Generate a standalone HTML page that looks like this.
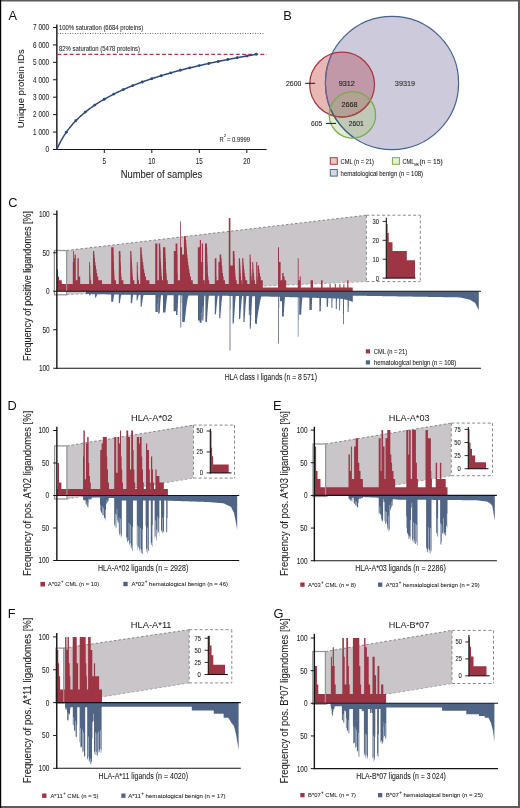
<!DOCTYPE html>
<html><head><meta charset="utf-8"><style>
html,body{margin:0;padding:0;background:#fff;}
svg{display:block;will-change:transform;}
text{font-family:"Liberation Sans", sans-serif;}
</style></head><body>
<svg width="520" height="808" viewBox="0 0 520 808" style="font-family:'Liberation Sans', sans-serif">
<rect x="0" y="0" width="520" height="808" fill="#fff"/>
<text x="8.60" y="19.90" font-size="12.8" fill="#111" >A</text>
<line x1="56.85" y1="24.40" x2="56.85" y2="150.10" stroke="#141414" stroke-width="1.4" />
<line x1="56.50" y1="149.50" x2="266.60" y2="149.50" stroke="#141414" stroke-width="1.1" />
<line x1="53.00" y1="149.50" x2="57.00" y2="149.50" stroke="#141414" stroke-width="1" />
<text x="49.00" y="152.35" font-size="8.3" fill="#1e1e1e" stroke="#1e1e1e" stroke-width="0.08" text-anchor="end" textLength="3.60" lengthAdjust="spacingAndGlyphs" >0</text>
<line x1="53.00" y1="132.07" x2="57.00" y2="132.07" stroke="#141414" stroke-width="1" />
<text x="49.00" y="134.92" font-size="8.3" fill="#1e1e1e" stroke="#1e1e1e" stroke-width="0.08" text-anchor="end" textLength="15.90" lengthAdjust="spacingAndGlyphs" >1 000</text>
<line x1="53.00" y1="114.64" x2="57.00" y2="114.64" stroke="#141414" stroke-width="1" />
<text x="49.00" y="117.49" font-size="8.3" fill="#1e1e1e" stroke="#1e1e1e" stroke-width="0.08" text-anchor="end" textLength="15.90" lengthAdjust="spacingAndGlyphs" >2 000</text>
<line x1="53.00" y1="97.21" x2="57.00" y2="97.21" stroke="#141414" stroke-width="1" />
<text x="49.00" y="100.06" font-size="8.3" fill="#1e1e1e" stroke="#1e1e1e" stroke-width="0.08" text-anchor="end" textLength="15.90" lengthAdjust="spacingAndGlyphs" >3 000</text>
<line x1="53.00" y1="79.78" x2="57.00" y2="79.78" stroke="#141414" stroke-width="1" />
<text x="49.00" y="82.63" font-size="8.3" fill="#1e1e1e" stroke="#1e1e1e" stroke-width="0.08" text-anchor="end" textLength="15.90" lengthAdjust="spacingAndGlyphs" >4 000</text>
<line x1="53.00" y1="62.35" x2="57.00" y2="62.35" stroke="#141414" stroke-width="1" />
<text x="49.00" y="65.20" font-size="8.3" fill="#1e1e1e" stroke="#1e1e1e" stroke-width="0.08" text-anchor="end" textLength="15.90" lengthAdjust="spacingAndGlyphs" >5 000</text>
<line x1="53.00" y1="44.92" x2="57.00" y2="44.92" stroke="#141414" stroke-width="1" />
<text x="49.00" y="47.77" font-size="8.3" fill="#1e1e1e" stroke="#1e1e1e" stroke-width="0.08" text-anchor="end" textLength="15.90" lengthAdjust="spacingAndGlyphs" >6 000</text>
<line x1="53.00" y1="27.49" x2="57.00" y2="27.49" stroke="#141414" stroke-width="1" />
<text x="49.00" y="30.34" font-size="8.3" fill="#1e1e1e" stroke="#1e1e1e" stroke-width="0.08" text-anchor="end" textLength="15.90" lengthAdjust="spacingAndGlyphs" >7 000</text>
<line x1="104.30" y1="149.50" x2="104.30" y2="153.00" stroke="#141414" stroke-width="1" />
<text x="104.30" y="163.60" font-size="8.6" fill="#1e1e1e" stroke="#1e1e1e" stroke-width="0.08" text-anchor="middle" textLength="3.60" lengthAdjust="spacingAndGlyphs" >5</text>
<line x1="151.80" y1="149.50" x2="151.80" y2="153.00" stroke="#141414" stroke-width="1" />
<text x="151.80" y="163.60" font-size="8.6" fill="#1e1e1e" stroke="#1e1e1e" stroke-width="0.08" text-anchor="middle" textLength="7.00" lengthAdjust="spacingAndGlyphs" >10</text>
<line x1="199.30" y1="149.50" x2="199.30" y2="153.00" stroke="#141414" stroke-width="1" />
<text x="199.30" y="163.60" font-size="8.6" fill="#1e1e1e" stroke="#1e1e1e" stroke-width="0.08" text-anchor="middle" textLength="7.00" lengthAdjust="spacingAndGlyphs" >15</text>
<line x1="246.80" y1="149.50" x2="246.80" y2="153.00" stroke="#141414" stroke-width="1" />
<text x="246.80" y="163.60" font-size="8.6" fill="#1e1e1e" stroke="#1e1e1e" stroke-width="0.08" text-anchor="middle" textLength="7.00" lengthAdjust="spacingAndGlyphs" >20</text>
<text x="161.50" y="177.70" font-size="10.5" fill="#1e1e1e" stroke="#1e1e1e" stroke-width="0.08" text-anchor="middle" textLength="81.50" lengthAdjust="spacingAndGlyphs" >Number of samples</text>
<text x="24.40" y="88.80" font-size="9.9" fill="#1e1e1e" stroke="#1e1e1e" stroke-width="0.08" text-anchor="middle" textLength="79.00" lengthAdjust="spacingAndGlyphs" transform="rotate(-90 24.40 88.80)" >Unique protein IDs</text>
<line x1="57.50" y1="33.50" x2="265.00" y2="33.50" stroke="#444" stroke-width="0.9" stroke-dasharray="0.9 1.6"/>
<line x1="57.50" y1="54.40" x2="267.00" y2="54.40" stroke="#b8323f" stroke-width="1.1" stroke-dasharray="3.8 2.35"/>
<text x="59.00" y="29.90" font-size="6.6" fill="#2a2a2a" stroke="#2a2a2a" stroke-width="0.08" textLength="84.20" lengthAdjust="spacingAndGlyphs" >100% saturation (6684 proteins)</text>
<text x="59.00" y="50.70" font-size="6.6" fill="#2a2a2a" stroke="#2a2a2a" stroke-width="0.08" textLength="81.00" lengthAdjust="spacingAndGlyphs" >82% saturation (5478 proteins)</text>
<text x="219.50" y="141.50" font-size="7.0" fill="#2a2a2a" stroke="#2a2a2a" stroke-width="0.08" textLength="4.20" lengthAdjust="spacingAndGlyphs" >R</text>
<text x="223.70" y="137.40" font-size="4.4" fill="#2a2a2a" stroke="#2a2a2a" stroke-width="0.08" >2</text>
<text x="227.00" y="141.50" font-size="7.0" fill="#2a2a2a" stroke="#2a2a2a" stroke-width="0.08" textLength="23.00" lengthAdjust="spacingAndGlyphs" >= 0.9999</text>
<polyline points="56.80,149.50 57.75,147.31 58.70,145.26 59.65,143.33 60.60,141.50 61.55,139.76 62.50,138.11 63.45,136.54 64.40,135.04 65.35,133.60 66.30,132.22 67.25,130.89 68.20,129.61 69.15,128.37 70.10,127.18 71.05,126.03 72.00,124.91 72.95,123.83 73.90,122.78 74.85,121.76 75.80,120.76 76.75,119.80 77.70,118.86 78.65,117.94 79.60,117.05 80.55,116.17 81.50,115.32 82.45,114.49 83.40,113.68 84.35,112.88 85.30,112.10 86.25,111.34 87.20,110.59 88.15,109.86 89.10,109.14 90.05,108.43 91.00,107.74 91.95,107.06 92.90,106.39 93.85,105.74 94.80,105.09 95.75,104.46 96.70,103.84 97.65,103.22 98.60,102.62 99.55,102.03 100.50,101.44 101.45,100.87 102.40,100.30 103.35,99.74 104.30,99.19 105.25,98.65 106.20,98.12 107.15,97.59 108.10,97.07 109.05,96.56 110.00,96.05 110.95,95.55 111.90,95.06 112.85,94.58 113.80,94.10 114.75,93.62 115.70,93.15 116.65,92.69 117.60,92.24 118.55,91.79 119.50,91.34 120.45,90.90 121.40,90.47 122.35,90.04 123.30,89.61 124.25,89.19 125.20,88.77 126.15,88.36 127.10,87.96 128.05,87.55 129.00,87.16 129.95,86.76 130.90,86.37 131.85,85.99 132.80,85.61 133.75,85.23 134.70,84.85 135.65,84.48 136.60,84.12 137.55,83.75 138.50,83.39 139.45,83.04 140.40,82.69 141.35,82.34 142.30,81.99 143.25,81.65 144.20,81.31 145.15,80.97 146.10,80.64 147.05,80.31 148.00,79.98 148.95,79.66 149.90,79.33 150.85,79.01 151.80,78.70 152.75,78.38 153.70,78.07 154.65,77.76 155.60,77.46 156.55,77.16 157.50,76.85 158.45,76.56 159.40,76.26 160.35,75.97 161.30,75.68 162.25,75.39 163.20,75.10 164.15,74.82 165.10,74.53 166.05,74.25 167.00,73.97 167.95,73.70 168.90,73.42 169.85,73.15 170.80,72.88 171.75,72.62 172.70,72.35 173.65,72.09 174.60,71.82 175.55,71.56 176.50,71.30 177.45,71.05 178.40,70.79 179.35,70.54 180.30,70.29 181.25,70.04 182.20,69.79 183.15,69.54 184.10,69.30 185.05,69.06 186.00,68.82 186.95,68.58 187.90,68.34 188.85,68.10 189.80,67.87 190.75,67.63 191.70,67.40 192.65,67.17 193.60,66.94 194.55,66.71 195.50,66.49 196.45,66.26 197.40,66.04 198.35,65.82 199.30,65.59 200.25,65.37 201.20,65.16 202.15,64.94 203.10,64.72 204.05,64.51 205.00,64.30 205.95,64.08 206.90,63.87 207.85,63.66 208.80,63.46 209.75,63.25 210.70,63.04 211.65,62.84 212.60,62.63 213.55,62.43 214.50,62.23 215.45,62.03 216.40,61.83 217.35,61.63 218.30,61.44 219.25,61.24 220.20,61.05 221.15,60.85 222.10,60.66 223.05,60.47 224.00,60.28 224.95,60.09 225.90,59.90 226.85,59.71 227.80,59.52 228.75,59.34 229.70,59.15 230.65,58.97 231.60,58.78 232.55,58.60 233.50,58.42 234.45,58.24 235.40,58.06 236.35,57.88 237.30,57.70 238.25,57.53 239.20,57.35 240.15,57.18 241.10,57.00 242.05,56.83 243.00,56.66 243.95,56.48 244.90,56.31 245.85,56.14 246.80,55.97 247.75,55.80 248.70,55.64 249.65,55.47 250.60,55.30 251.55,55.14 252.50,54.97 253.45,54.81 254.40,54.65 255.35,54.48 256.30,54.32" fill="none" stroke="#2c4a7c" stroke-width="1.5"/>
<circle cx="66.30" cy="132.22" r="1.45" fill="#2c4a7c"/>
<circle cx="75.80" cy="120.76" r="1.45" fill="#2c4a7c"/>
<circle cx="85.30" cy="112.10" r="1.45" fill="#2c4a7c"/>
<circle cx="94.80" cy="105.09" r="1.45" fill="#2c4a7c"/>
<circle cx="104.30" cy="99.19" r="1.45" fill="#2c4a7c"/>
<circle cx="113.80" cy="94.10" r="1.45" fill="#2c4a7c"/>
<circle cx="123.30" cy="89.61" r="1.45" fill="#2c4a7c"/>
<circle cx="132.80" cy="85.61" r="1.45" fill="#2c4a7c"/>
<circle cx="142.30" cy="81.99" r="1.45" fill="#2c4a7c"/>
<circle cx="151.80" cy="78.70" r="1.45" fill="#2c4a7c"/>
<circle cx="161.30" cy="75.68" r="1.45" fill="#2c4a7c"/>
<circle cx="170.80" cy="72.88" r="1.45" fill="#2c4a7c"/>
<circle cx="180.30" cy="70.29" r="1.45" fill="#2c4a7c"/>
<circle cx="189.80" cy="67.87" r="1.45" fill="#2c4a7c"/>
<circle cx="199.30" cy="65.59" r="1.45" fill="#2c4a7c"/>
<circle cx="208.80" cy="63.46" r="1.45" fill="#2c4a7c"/>
<circle cx="218.30" cy="61.44" r="1.45" fill="#2c4a7c"/>
<circle cx="227.80" cy="59.52" r="1.45" fill="#2c4a7c"/>
<circle cx="237.30" cy="57.70" r="1.45" fill="#2c4a7c"/>
<circle cx="246.80" cy="55.97" r="1.45" fill="#2c4a7c"/>
<circle cx="256.30" cy="54.32" r="1.45" fill="#2c4a7c"/>
<text x="283.30" y="20.00" font-size="12.8" fill="#111" >B</text>
<defs><clipPath id="cpB"><circle cx="392.0" cy="83.0" r="66.6" fill="#000" /></clipPath><clipPath id="cpR"><circle cx="342.1" cy="84.6" r="32.4" fill="#000" /></clipPath><clipPath id="cpG"><circle cx="352.4" cy="114.9" r="23.2" fill="#000" /></clipPath></defs>
<circle cx="392.0" cy="83.0" r="66.6" fill="#cdcbdb" />
<circle cx="342.1" cy="84.6" r="32.4" fill="#e8b9b4" />
<circle cx="352.4" cy="114.9" r="23.2" fill="#e5ebd0" />
<g clip-path="url(#cpB)"><circle cx="342.1" cy="84.6" r="32.4" fill="#c098a7" /><circle cx="352.4" cy="114.9" r="23.2" fill="#bec9b6" /></g>
<g clip-path="url(#cpR)"><circle cx="352.4" cy="114.9" r="23.2" fill="#dcbcb0" /><g clip-path="url(#cpB)"><circle cx="352.4" cy="114.9" r="23.2" fill="#b2a194" /></g></g>
<circle cx="392.0" cy="83.0" r="66.6" fill="none" stroke="#46628f" stroke-width="1.2"/>
<g clip-path="url(#cpR)"><circle cx="392.0" cy="83.0" r="66.6" fill="none" stroke="#6a6394" stroke-width="1.2"/></g>
<g clip-path="url(#cpG)"><circle cx="392.0" cy="83.0" r="66.6" fill="none" stroke="#3f5f7e" stroke-width="1.2"/></g>
<circle cx="342.1" cy="84.6" r="32.4" fill="none" stroke="#a8343f" stroke-width="1.25"/>
<g clip-path="url(#cpG)"><circle cx="342.1" cy="84.6" r="32.4" fill="none" stroke="#a84a45" stroke-width="1.25"/></g>
<circle cx="352.4" cy="114.9" r="23.2" fill="none" stroke="#74ad4a" stroke-width="1.25"/>
<text x="346.80" y="85.90" font-size="7.6" fill="#1e1e1e" stroke="#1e1e1e" stroke-width="0.12" text-anchor="middle" textLength="16.20" lengthAdjust="spacingAndGlyphs" >9312</text>
<text x="349.50" y="106.80" font-size="7.6" fill="#1e1e1e" stroke="#1e1e1e" stroke-width="0.12" text-anchor="middle" textLength="16.00" lengthAdjust="spacingAndGlyphs" >2668</text>
<text x="356.30" y="125.80" font-size="7.6" fill="#1e1e1e" stroke="#1e1e1e" stroke-width="0.12" text-anchor="middle" textLength="15.00" lengthAdjust="spacingAndGlyphs" >2601</text>
<text x="405.00" y="86.10" font-size="7.6" fill="#333" stroke="#333" stroke-width="0.12" text-anchor="middle" textLength="20.40" lengthAdjust="spacingAndGlyphs" >39319</text>
<text x="286.00" y="85.90" font-size="7.4" fill="#1e1e1e" stroke="#1e1e1e" stroke-width="0.1" textLength="15.30" lengthAdjust="spacingAndGlyphs" >2600</text>
<line x1="305.20" y1="83.30" x2="315.10" y2="83.30" stroke="#141414" stroke-width="1" />
<text x="311.00" y="125.80" font-size="7.4" fill="#1e1e1e" stroke="#1e1e1e" stroke-width="0.1" textLength="11.30" lengthAdjust="spacingAndGlyphs" >605</text>
<line x1="326.00" y1="123.40" x2="336.00" y2="123.40" stroke="#141414" stroke-width="1" />
<rect x="330.3" y="157.7" width="7" height="6.6" fill="#ecc7c4" stroke="#b4343f" stroke-width="1"/>
<rect x="392.4" y="157.7" width="7" height="6.6" fill="#e8efd6" stroke="#72b04a" stroke-width="1"/>
<rect x="330.3" y="169.5" width="7" height="6.6" fill="#d7d6e4" stroke="#4f6c9a" stroke-width="1"/>
<text x="340.60" y="163.90" font-size="6.8" fill="#222" stroke="#222" stroke-width="0.08" textLength="33.40" lengthAdjust="spacingAndGlyphs" >CML (n = 21)</text>
<text x="402.50" y="163.90" font-size="6.8" fill="#222" stroke="#222" stroke-width="0.08" textLength="11.90" lengthAdjust="spacingAndGlyphs" >CML</text>
<text x="414.40" y="166.00" font-size="4.3" fill="#222" stroke="#222" stroke-width="0.08" textLength="4.40" lengthAdjust="spacingAndGlyphs" >MR</text>
<text x="419.40" y="163.90" font-size="6.8" fill="#222" stroke="#222" stroke-width="0.08" textLength="23.30" lengthAdjust="spacingAndGlyphs" >(n = 15)</text>
<text x="340.60" y="175.70" font-size="6.8" fill="#222" stroke="#222" stroke-width="0.08" textLength="82.50" lengthAdjust="spacingAndGlyphs" >hematological benign (n = 108)</text>
<polygon points="66.60,250.50 366.40,215.20 366.40,281.60 66.60,294.60" fill="#c9c5c9"/>
<line x1="66.60" y1="250.50" x2="366.40" y2="215.20" stroke="#7d7d7d" stroke-width="0.9" stroke-dasharray="2.6 2"/>
<line x1="66.60" y1="294.60" x2="366.40" y2="281.60" stroke="#a0a0a0" stroke-width="0.9" stroke-dasharray="2.6 2"/>
<path d="M57.00,291.25 L57.00,269.25 L58.00,269.25 L58.00,276.58 L59.00,276.58 L59.00,280.25 L61.80,280.25 L61.80,283.92 L72.80,283.92 L72.80,261.92 L73.20,261.92 L73.20,250.92 L74.00,250.92 L74.00,258.25 L74.60,258.25 L74.60,254.58 L75.80,254.58 L75.80,280.25 L77.40,280.25 L77.40,258.25 L78.80,258.25 L78.80,276.58 L80.20,276.58 L80.20,283.92 L89.20,283.92 L89.20,261.92 L90.00,261.92 L90.00,265.58 L90.20,265.58 L90.20,272.92 L90.40,272.92 L90.40,276.58 L90.60,276.58 L90.60,280.25 L91.20,280.25 L91.20,283.92 L93.00,283.92 L93.00,250.92 L94.20,250.92 L94.20,254.58 L94.60,254.58 L94.60,258.25 L95.00,258.25 L95.00,261.92 L95.40,261.92 L95.40,265.58 L96.00,265.58 L96.00,269.25 L96.60,269.25 L96.60,272.92 L97.20,272.92 L97.20,276.58 L98.20,276.58 L98.20,280.25 L102.00,280.25 L102.00,283.92 L111.20,283.92 L111.20,247.25 L113.60,247.25 L113.60,254.58 L113.80,254.58 L113.80,261.92 L114.00,261.92 L114.00,269.25 L114.20,269.25 L114.20,272.92 L114.40,272.92 L114.40,276.58 L114.60,276.58 L114.60,280.25 L116.00,280.25 L116.00,283.92 L118.80,283.92 L118.80,250.92 L120.40,250.92 L120.40,254.58 L120.60,254.58 L120.60,261.92 L120.80,261.92 L120.80,265.58 L121.00,265.58 L121.00,272.92 L121.20,272.92 L121.20,276.58 L121.60,276.58 L121.60,280.25 L123.40,280.25 L123.40,283.92 L130.20,283.92 L130.20,250.92 L131.40,250.92 L131.40,254.58 L131.60,254.58 L131.60,258.25 L131.80,258.25 L131.80,261.92 L132.00,261.92 L132.00,265.58 L132.20,265.58 L132.20,269.25 L132.40,269.25 L132.40,272.92 L132.60,272.92 L132.60,276.58 L133.00,276.58 L133.00,280.25 L134.40,280.25 L134.40,283.92 L136.80,283.92 L136.80,261.92 L137.60,261.92 L137.60,265.58 L137.80,265.58 L137.80,272.92 L138.00,272.92 L138.00,276.58 L138.20,276.58 L138.20,280.25 L139.00,280.25 L139.00,283.92 L140.20,283.92 L140.20,247.25 L141.60,247.25 L141.60,250.92 L141.80,250.92 L141.80,254.58 L142.20,254.58 L142.20,258.25 L142.60,258.25 L142.60,261.92 L143.20,261.92 L143.20,265.58 L143.60,265.58 L143.60,269.25 L144.20,269.25 L144.20,272.92 L145.00,272.92 L145.00,276.58 L146.00,276.58 L146.00,280.25 L149.40,280.25 L149.40,283.92 L155.20,283.92 L155.20,243.58 L157.40,243.58 L157.40,280.25 L158.80,280.25 L158.80,243.58 L160.20,243.58 L160.20,247.25 L160.40,247.25 L160.40,250.92 L160.60,250.92 L160.60,258.25 L160.80,258.25 L160.80,261.92 L161.00,261.92 L161.00,265.58 L161.20,265.58 L161.20,269.25 L161.40,269.25 L161.40,272.92 L161.60,272.92 L161.60,276.58 L162.00,276.58 L162.00,280.25 L163.00,280.25 L163.00,247.25 L165.40,247.25 L165.40,254.58 L165.60,254.58 L165.60,258.25 L165.80,258.25 L165.80,261.92 L166.00,261.92 L166.00,269.25 L166.20,269.25 L166.20,272.92 L166.60,272.92 L166.60,276.58 L166.80,276.58 L166.80,280.25 L167.80,280.25 L167.80,283.92 L173.80,283.92 L173.80,250.92 L175.60,250.92 L175.60,243.58 L177.40,243.58 L177.40,254.58 L177.60,254.58 L177.60,272.92 L177.80,272.92 L177.80,280.25 L180.00,280.25 L180.00,221.58 L180.80,221.58 L180.80,247.25 L182.00,247.25 L182.00,254.58 L184.00,254.58 L184.00,236.25 L185.80,236.25 L185.80,239.92 L186.20,239.92 L186.20,243.58 L186.40,243.58 L186.40,247.25 L186.80,247.25 L186.80,250.92 L187.00,250.92 L187.00,254.58 L187.40,254.58 L187.40,258.25 L187.80,258.25 L187.80,261.92 L188.20,261.92 L188.20,265.58 L188.80,265.58 L188.80,269.25 L189.40,269.25 L189.40,272.92 L190.00,272.92 L190.00,276.58 L191.00,276.58 L191.00,280.25 L192.80,280.25 L192.80,283.92 L197.80,283.92 L197.80,247.25 L199.80,247.25 L199.80,239.92 L201.00,239.92 L201.00,261.92 L201.80,261.92 L201.80,243.58 L203.00,243.58 L203.00,261.92 L203.20,261.92 L203.20,280.25 L204.80,280.25 L204.80,283.92 L205.00,283.92 L205.00,243.58 L207.00,243.58 L207.00,247.25 L207.20,247.25 L207.20,254.58 L207.40,254.58 L207.40,261.92 L207.60,261.92 L207.60,265.58 L207.80,265.58 L207.80,272.92 L208.00,272.92 L208.00,276.58 L208.40,276.58 L208.40,280.25 L209.20,280.25 L209.20,283.92 L214.80,283.92 L214.80,258.25 L216.40,258.25 L216.40,276.58 L216.60,276.58 L216.60,280.25 L218.40,280.25 L218.40,261.92 L219.60,261.92 L219.60,254.58 L221.20,254.58 L221.20,258.25 L221.60,258.25 L221.60,261.92 L221.80,261.92 L221.80,265.58 L222.20,265.58 L222.20,269.25 L222.40,269.25 L222.40,272.92 L223.00,272.92 L223.00,276.58 L223.60,276.58 L223.60,280.25 L225.00,280.25 L225.00,283.92 L228.80,283.92 L228.80,217.92 L230.40,217.92 L230.40,265.58 L232.80,265.58 L232.80,250.92 L234.40,250.92 L234.40,254.58 L234.60,254.58 L234.60,258.25 L234.80,258.25 L234.80,265.58 L235.00,265.58 L235.00,269.25 L235.20,269.25 L235.20,272.92 L235.40,272.92 L235.40,276.58 L235.80,276.58 L235.80,280.25 L236.80,280.25 L236.80,283.92 L238.80,283.92 L238.80,258.25 L240.00,258.25 L240.00,261.92 L240.20,261.92 L240.20,265.58 L240.40,265.58 L240.40,269.25 L240.60,269.25 L240.60,272.92 L240.80,272.92 L240.80,276.58 L241.00,276.58 L241.00,280.25 L241.80,280.25 L241.80,283.92 L242.20,283.92 L242.20,258.25 L243.40,258.25 L243.40,261.92 L243.60,261.92 L243.60,265.58 L244.00,265.58 L244.00,269.25 L244.40,269.25 L244.40,272.92 L244.80,272.92 L244.80,276.58 L245.40,276.58 L245.40,280.25 L247.20,280.25 L247.20,283.92 L249.60,283.92 L249.60,254.58 L250.60,254.58 L250.60,258.25 L250.80,258.25 L250.80,261.92 L251.00,261.92 L251.00,269.25 L251.20,269.25 L251.20,272.92 L251.40,272.92 L251.40,276.58 L251.80,276.58 L251.80,280.25 L252.20,280.25 L252.20,261.92 L253.20,261.92 L253.20,265.58 L253.40,265.58 L253.40,269.25 L253.60,269.25 L253.60,272.92 L254.00,272.92 L254.00,276.58 L254.20,276.58 L254.20,280.25 L255.00,280.25 L255.00,283.92 L256.20,283.92 L256.20,261.92 L257.20,261.92 L257.20,265.58 L257.40,265.58 L257.40,276.58 L257.60,276.58 L257.60,280.25 L257.80,280.25 L257.80,265.58 L259.00,265.58 L259.00,269.25 L259.40,269.25 L259.40,272.92 L260.00,272.92 L260.00,276.58 L260.80,276.58 L260.80,280.25 L262.80,280.25 L262.80,287.58 L278.00,287.58 L278.00,247.25 L279.00,247.25 L279.00,261.92 L280.60,261.92 L280.60,280.25 L282.20,280.25 L282.20,272.92 L283.60,272.92 L283.60,276.58 L284.60,276.58 L284.60,280.25 L286.20,280.25 L286.20,287.58 L297.80,287.58 L297.80,258.25 L298.60,258.25 L298.60,280.25 L299.80,280.25 L299.80,276.58 L300.80,276.58 L300.80,287.58 L310.60,287.58 L310.60,280.25 L313.00,280.25 L313.00,287.58 L321.00,287.58 L321.00,280.25 L322.60,280.25 L322.60,287.58 L329.60,287.58 L329.60,283.92 L330.60,283.92 L330.60,287.58 L334.80,287.58 L334.80,283.92 L335.80,283.92 L335.80,287.58 L339.40,287.58 L339.40,283.92 L340.40,283.92 L340.40,287.58 L343.40,287.58 L343.40,283.92 L344.40,283.92 L344.40,287.58 L347.20,287.58 L347.20,280.25 L348.40,280.25 L348.40,287.58 L352.70,287.58 L352.70,291.25 Z" fill="#9d3545"/>
<path d="M86.00,291.25 L86.00,294.02 L86.20,294.02 L86.20,294.03 L86.40,294.03 L86.40,294.03 L86.60,294.03 L86.60,294.03 L86.80,294.03 L86.80,294.04 L87.00,294.04 L87.00,294.04 L87.20,294.04 L87.20,294.04 L87.40,294.04 L87.40,294.05 L87.60,294.05 L87.60,294.05 L87.80,294.05 L87.80,294.05 L88.00,294.05 L88.00,294.06 L88.20,294.06 L88.20,294.06 L88.40,294.06 L88.40,294.06 L88.60,294.06 L88.60,294.07 L88.80,294.07 L88.80,294.07 L89.00,294.07 L89.00,294.08 L89.20,294.08 L89.20,295.49 L90.00,295.49 L90.00,295.31 L90.20,295.31 L90.20,294.97 L90.40,294.97 L90.40,294.66 L90.60,294.66 L90.60,294.39 L90.80,294.39 L90.80,294.17 L91.00,294.17 L91.00,294.11 L91.20,294.11 L91.20,294.11 L91.40,294.11 L91.40,294.12 L91.60,294.12 L91.60,294.12 L91.80,294.12 L91.80,294.12 L92.00,294.12 L92.00,294.13 L92.20,294.13 L92.20,294.13 L92.40,294.13 L92.40,294.13 L92.60,294.13 L92.60,294.14 L92.80,294.14 L92.80,294.14 L93.00,294.14 L93.00,294.14 L93.20,294.14 L93.20,294.15 L93.40,294.15 L93.40,294.15 L93.60,294.15 L93.60,294.15 L93.80,294.15 L93.80,294.16 L94.00,294.16 L94.00,294.16 L94.20,294.16 L94.20,294.16 L94.40,294.16 L94.40,294.17 L94.60,294.17 L94.60,294.17 L94.80,294.17 L94.80,294.17 L95.00,294.17 L95.00,297.41 L96.00,297.41 L96.00,297.13 L96.20,297.13 L96.20,296.60 L96.40,296.60 L96.40,296.10 L96.60,296.10 L96.60,295.62 L96.80,295.62 L96.80,295.18 L97.00,295.18 L97.00,294.79 L97.20,294.79 L97.20,294.45 L97.40,294.45 L97.40,294.22 L97.60,294.22 L97.60,294.22 L97.80,294.22 L97.80,294.23 L98.00,294.23 L98.00,294.23 L98.20,294.23 L98.20,294.23 L98.40,294.23 L98.40,294.24 L98.60,294.24 L98.60,294.24 L98.80,294.24 L98.80,294.24 L99.00,294.24 L99.00,294.25 L99.20,294.25 L99.20,294.25 L99.40,294.25 L99.40,294.25 L99.60,294.25 L99.60,294.26 L99.80,294.26 L99.80,294.26 L100.00,294.26 L100.00,294.26 L100.20,294.26 L100.20,294.27 L100.40,294.27 L100.40,294.27 L100.60,294.27 L100.60,294.27 L100.80,294.27 L100.80,294.28 L101.00,294.28 L101.00,294.28 L101.20,294.28 L101.20,294.28 L101.40,294.28 L101.40,294.29 L101.60,294.29 L101.60,294.29 L101.80,294.29 L101.80,294.29 L102.00,294.29 L102.00,294.30 L102.20,294.30 L102.20,294.30 L102.40,294.30 L102.40,294.30 L102.60,294.30 L102.60,294.31 L102.80,294.31 L102.80,294.31 L103.00,294.31 L103.00,294.31 L103.20,294.31 L103.20,294.32 L103.40,294.32 L103.40,294.32 L103.60,294.32 L103.60,294.32 L103.80,294.32 L103.80,294.33 L104.00,294.33 L104.00,294.33 L104.20,294.33 L104.20,294.34 L104.40,294.34 L104.40,294.34 L104.60,294.34 L104.60,294.34 L104.80,294.34 L104.80,294.35 L105.00,294.35 L105.00,294.35 L105.20,294.35 L105.20,294.35 L105.40,294.35 L105.40,294.36 L105.60,294.36 L105.60,294.36 L105.80,294.36 L105.80,294.36 L106.00,294.36 L106.00,294.37 L106.20,294.37 L106.20,294.37 L106.40,294.37 L106.40,294.37 L106.60,294.37 L106.60,294.38 L106.80,294.38 L106.80,294.38 L107.00,294.38 L107.00,294.38 L107.20,294.38 L107.20,294.39 L107.40,294.39 L107.40,294.39 L107.60,294.39 L107.60,294.39 L107.80,294.39 L107.80,294.40 L108.00,294.40 L108.00,294.40 L108.20,294.40 L108.20,294.40 L108.40,294.40 L108.40,294.41 L108.60,294.41 L108.60,294.41 L108.80,294.41 L108.80,294.41 L109.00,294.41 L109.00,294.42 L109.20,294.42 L109.20,294.42 L109.40,294.42 L109.40,294.42 L109.60,294.42 L109.60,294.43 L109.80,294.43 L109.80,294.43 L110.00,294.43 L110.00,294.43 L110.20,294.43 L110.20,294.44 L110.40,294.44 L110.40,294.44 L110.60,294.44 L110.60,294.44 L110.80,294.44 L110.80,294.45 L111.00,294.45 L111.00,294.45 L111.20,294.45 L111.20,301.64 L113.20,301.64 L113.20,300.13 L113.40,300.13 L113.40,298.71 L113.60,298.71 L113.60,297.40 L113.80,297.40 L113.80,296.21 L114.00,296.21 L114.00,295.20 L114.20,295.20 L114.20,294.51 L114.40,294.51 L114.40,294.51 L114.60,294.51 L114.60,294.51 L114.80,294.51 L114.80,294.52 L115.00,294.52 L115.00,294.52 L115.20,294.52 L115.20,294.52 L115.40,294.52 L115.40,294.53 L115.60,294.53 L115.60,294.53 L115.80,294.53 L115.80,294.53 L116.00,294.53 L116.00,294.54 L116.20,294.54 L116.20,294.54 L116.40,294.54 L116.40,294.54 L116.60,294.54 L116.60,294.55 L116.80,294.55 L116.80,294.55 L117.00,294.55 L117.00,294.55 L117.20,294.55 L117.20,294.56 L117.40,294.56 L117.40,294.56 L117.60,294.56 L117.60,294.56 L117.80,294.56 L117.80,294.57 L118.00,294.57 L118.00,294.57 L118.20,294.57 L118.20,294.57 L118.40,294.57 L118.40,294.58 L118.60,294.58 L118.60,294.58 L118.80,294.58 L118.80,303.34 L119.80,303.34 L119.80,302.59 L120.00,302.59 L120.00,301.14 L120.20,301.14 L120.20,299.76 L120.40,299.76 L120.40,298.47 L120.60,298.47 L120.60,297.27 L120.80,297.27 L120.80,296.18 L121.00,296.18 L121.00,295.26 L121.20,295.26 L121.20,294.63 L121.40,294.63 L121.40,294.63 L121.60,294.63 L121.60,294.63 L121.80,294.63 L121.80,294.64 L122.00,294.64 L122.00,294.64 L122.20,294.64 L122.20,294.64 L122.40,294.64 L122.40,294.65 L122.60,294.65 L122.60,294.65 L122.80,294.65 L122.80,294.65 L123.00,294.65 L123.00,294.66 L123.20,294.66 L123.20,294.66 L123.40,294.66 L123.40,294.66 L123.60,294.66 L123.60,294.67 L123.80,294.67 L123.80,294.67 L124.00,294.67 L124.00,294.67 L124.20,294.67 L124.20,294.68 L124.40,294.68 L124.40,294.68 L124.60,294.68 L124.60,294.68 L124.80,294.68 L124.80,294.69 L125.00,294.69 L125.00,294.69 L125.20,294.69 L125.20,294.69 L125.40,294.69 L125.40,294.70 L125.60,294.70 L125.60,294.70 L125.80,294.70 L125.80,294.70 L126.00,294.70 L126.00,294.71 L126.20,294.71 L126.20,294.71 L126.40,294.71 L126.40,294.72 L126.60,294.72 L126.60,294.72 L126.80,294.72 L126.80,294.72 L127.00,294.72 L127.00,294.73 L127.20,294.73 L127.20,294.73 L127.40,294.73 L127.40,294.73 L127.60,294.73 L127.60,294.74 L127.80,294.74 L127.80,294.74 L128.00,294.74 L128.00,294.74 L128.20,294.74 L128.20,294.75 L128.40,294.75 L128.40,294.75 L128.60,294.75 L128.60,294.75 L128.80,294.75 L128.80,294.76 L129.00,294.76 L129.00,294.76 L129.20,294.76 L129.20,294.76 L129.40,294.76 L129.40,294.77 L129.60,294.77 L129.60,294.77 L129.80,294.77 L129.80,294.77 L130.00,294.77 L130.00,294.78 L130.20,294.78 L130.20,294.78 L130.40,294.78 L130.40,294.78 L130.60,294.78 L130.60,294.79 L130.80,294.79 L130.80,303.34 L132.00,303.34 L132.00,302.43 L132.20,302.43 L132.20,300.68 L132.40,300.68 L132.40,299.05 L132.60,299.05 L132.60,297.55 L132.80,297.55 L132.80,296.23 L133.00,296.23 L133.00,295.16 L133.20,295.16 L133.20,294.83 L133.40,294.83 L133.40,294.83 L133.60,294.83 L133.60,294.84 L133.80,294.84 L133.80,294.84 L134.00,294.84 L134.00,294.85 L134.20,294.85 L134.20,294.85 L134.40,294.85 L134.40,294.85 L134.60,294.85 L134.60,294.86 L134.80,294.86 L134.80,294.86 L135.00,294.86 L135.00,294.86 L135.20,294.86 L135.20,294.87 L135.40,294.87 L135.40,294.87 L135.60,294.87 L135.60,294.87 L135.80,294.87 L135.80,294.88 L136.00,294.88 L136.00,294.88 L136.20,294.88 L136.20,294.88 L136.40,294.88 L136.40,294.89 L136.60,294.89 L136.60,300.49 L137.40,300.49 L137.40,300.01 L137.60,300.01 L137.60,299.08 L137.80,299.08 L137.80,298.20 L138.00,298.20 L138.00,297.38 L138.20,297.38 L138.20,296.61 L138.40,296.61 L138.40,295.92 L138.60,295.92 L138.60,295.33 L138.80,295.33 L138.80,294.93 L139.00,294.93 L139.00,294.93 L139.20,294.93 L139.20,294.93 L139.40,294.93 L139.40,294.94 L139.60,294.94 L139.60,294.94 L139.80,294.94 L139.80,294.94 L140.00,294.94 L140.00,294.95 L140.20,294.95 L140.20,294.95 L140.40,294.95 L140.40,294.95 L140.60,294.95 L140.60,306.65 L141.60,306.65 L141.60,305.90 L141.80,305.90 L141.80,304.42 L142.00,304.42 L142.00,303.01 L142.20,303.01 L142.20,301.64 L142.40,301.64 L142.40,300.34 L142.60,300.34 L142.60,299.11 L142.80,299.11 L142.80,297.96 L143.00,297.96 L143.00,296.90 L143.20,296.90 L143.20,295.97 L143.40,295.97 L143.40,295.22 L143.60,295.22 L143.60,294.98 L143.80,294.98 L143.80,294.99 L144.00,294.99 L144.00,294.99 L144.20,294.99 L144.20,294.99 L144.40,294.99 L144.40,294.99 L144.60,294.99 L144.60,295.00 L144.80,295.00 L144.80,295.00 L145.00,295.00 L145.00,295.00 L145.20,295.00 L145.20,295.00 L145.40,295.00 L145.40,295.00 L145.60,295.00 L145.60,295.01 L145.80,295.01 L145.80,295.01 L146.00,295.01 L146.00,295.01 L146.20,295.01 L146.20,295.01 L146.40,295.01 L146.40,295.01 L146.60,295.01 L146.60,295.02 L146.80,295.02 L146.80,295.02 L147.00,295.02 L147.00,295.02 L147.20,295.02 L147.20,295.02 L147.40,295.02 L147.40,295.02 L147.60,295.02 L147.60,295.03 L147.80,295.03 L147.80,295.03 L148.00,295.03 L148.00,295.03 L148.20,295.03 L148.20,295.03 L148.40,295.03 L148.40,295.04 L148.60,295.04 L148.60,295.04 L148.80,295.04 L148.80,295.04 L149.00,295.04 L149.00,295.04 L149.20,295.04 L149.20,295.04 L149.40,295.04 L149.40,295.05 L149.60,295.05 L149.60,295.05 L149.80,295.05 L149.80,295.05 L150.00,295.05 L150.00,295.05 L150.20,295.05 L150.20,295.05 L150.40,295.05 L150.40,295.06 L150.60,295.06 L150.60,295.06 L150.80,295.06 L150.80,295.06 L151.00,295.06 L151.00,295.06 L151.20,295.06 L151.20,295.06 L151.40,295.06 L151.40,295.07 L151.60,295.07 L151.60,295.07 L151.80,295.07 L151.80,295.07 L152.00,295.07 L152.00,295.07 L152.20,295.07 L152.20,295.08 L152.40,295.08 L152.40,295.08 L152.60,295.08 L152.60,295.08 L152.80,295.08 L152.80,295.08 L153.00,295.08 L153.00,295.08 L153.20,295.08 L153.20,295.09 L153.40,295.09 L153.40,295.09 L153.60,295.09 L153.60,295.09 L153.80,295.09 L153.80,295.09 L154.00,295.09 L154.00,295.09 L154.20,295.09 L154.20,295.10 L154.40,295.10 L154.40,295.10 L154.60,295.10 L154.60,295.10 L154.80,295.10 L154.80,295.10 L155.00,295.10 L155.00,295.10 L155.20,295.10 L155.20,295.11 L155.40,295.11 L155.40,312.04 L157.80,312.04 L157.80,303.84 L158.00,303.84 L158.00,297.22 L158.20,297.22 L158.20,313.58 L159.60,313.58 L159.60,312.00 L159.80,312.00 L159.80,308.94 L160.00,308.94 L160.00,306.03 L160.20,306.03 L160.20,303.30 L160.40,303.30 L160.40,300.76 L160.60,300.76 L160.60,298.47 L160.80,298.47 L160.80,296.51 L161.00,296.51 L161.00,295.17 L161.20,295.17 L161.20,295.17 L161.40,295.17 L161.40,295.17 L161.60,295.17 L161.60,295.17 L161.80,295.17 L161.80,295.18 L162.00,295.18 L162.00,295.18 L162.20,295.18 L162.20,295.18 L162.40,295.18 L162.40,295.18 L162.60,295.18 L162.60,295.18 L162.80,295.18 L162.80,295.19 L163.00,295.19 L163.00,312.50 L165.40,312.50 L165.40,311.39 L165.60,311.39 L165.60,309.21 L165.80,309.21 L165.80,307.11 L166.00,307.11 L166.00,305.09 L166.20,305.09 L166.20,303.17 L166.40,303.17 L166.40,301.34 L166.60,301.34 L166.60,299.64 L166.80,299.64 L166.80,298.08 L167.00,298.08 L167.00,296.70 L167.20,296.70 L167.20,295.58 L167.40,295.58 L167.40,295.23 L167.60,295.23 L167.60,295.24 L167.80,295.24 L167.80,295.24 L168.00,295.24 L168.00,295.24 L168.20,295.24 L168.20,295.24 L168.40,295.24 L168.40,295.25 L168.60,295.25 L168.60,295.25 L168.80,295.25 L168.80,295.25 L169.00,295.25 L169.00,295.25 L169.20,295.25 L169.20,295.25 L169.40,295.25 L169.40,295.26 L169.60,295.26 L169.60,295.26 L169.80,295.26 L169.80,295.26 L170.00,295.26 L170.00,295.26 L170.20,295.26 L170.20,295.26 L170.40,295.26 L170.40,295.27 L170.60,295.27 L170.60,295.27 L170.80,295.27 L170.80,295.27 L171.00,295.27 L171.00,295.27 L171.20,295.27 L171.20,295.27 L171.40,295.27 L171.40,295.28 L171.60,295.28 L171.60,295.28 L171.80,295.28 L171.80,295.28 L172.00,295.28 L172.00,295.28 L172.20,295.28 L172.20,295.29 L172.40,295.29 L172.40,295.29 L172.60,295.29 L172.60,295.29 L172.80,295.29 L172.80,295.29 L173.00,295.29 L173.00,295.29 L173.20,295.29 L173.20,295.30 L173.40,295.30 L173.40,295.30 L173.60,295.30 L173.60,311.27 L176.00,311.27 L176.00,315.12 L177.40,315.12 L177.40,312.59 L177.60,312.59 L177.60,307.78 L177.80,307.78 L177.80,303.38 L178.00,303.38 L178.00,299.48 L178.20,299.48 L178.20,296.34 L178.40,296.34 L178.40,295.35 L178.60,295.35 L178.60,295.35 L178.80,295.35 L178.80,295.35 L179.00,295.35 L179.00,295.36 L179.20,295.36 L179.20,295.36 L179.40,295.36 L179.40,295.36 L179.60,295.36 L179.60,295.36 L179.80,295.36 L179.80,295.36 L180.00,295.36 L180.00,295.37 L180.20,295.37 L180.20,295.37 L180.40,295.37 L180.40,327.44 L181.20,327.44 L181.20,303.07 L181.40,303.07 L181.40,295.38 L181.60,295.38 L181.60,295.38 L181.80,295.38 L181.80,295.39 L182.00,295.39 L182.00,295.39 L182.20,295.39 L182.20,322.05 L184.80,322.05 L184.80,319.95 L185.00,319.95 L185.00,317.92 L185.20,317.92 L185.20,315.95 L185.40,315.95 L185.40,314.06 L185.60,314.06 L185.60,312.23 L185.80,312.23 L185.80,310.47 L186.00,310.47 L186.00,308.79 L186.20,308.79 L186.20,307.19 L186.40,307.19 L186.40,305.66 L186.60,305.66 L186.60,304.22 L186.80,304.22 L186.80,302.86 L187.00,302.86 L187.00,301.58 L187.20,301.58 L187.20,300.40 L187.40,300.40 L187.40,299.32 L187.60,299.32 L187.60,298.34 L187.80,298.34 L187.80,297.47 L188.00,297.47 L188.00,296.73 L188.20,296.73 L188.20,296.12 L188.40,296.12 L188.40,295.68 L188.60,295.68 L188.60,295.46 L188.80,295.46 L188.80,295.46 L189.00,295.46 L189.00,295.46 L189.20,295.46 L189.20,295.46 L189.40,295.46 L189.40,295.47 L189.60,295.47 L189.60,295.47 L189.80,295.47 L189.80,295.47 L190.00,295.47 L190.00,295.47 L190.20,295.47 L190.20,295.47 L190.40,295.47 L190.40,295.48 L190.60,295.48 L190.60,295.48 L190.80,295.48 L190.80,295.48 L191.00,295.48 L191.00,295.48 L191.20,295.48 L191.20,295.48 L191.40,295.48 L191.40,295.49 L191.60,295.49 L191.60,295.49 L191.80,295.49 L191.80,295.49 L192.00,295.49 L192.00,295.49 L192.20,295.49 L192.20,295.50 L192.40,295.50 L192.40,295.50 L192.60,295.50 L192.60,295.50 L192.80,295.50 L192.80,295.50 L193.00,295.50 L193.00,295.50 L193.20,295.50 L193.20,295.51 L193.40,295.51 L193.40,295.51 L193.60,295.51 L193.60,295.51 L193.80,295.51 L193.80,295.51 L194.00,295.51 L194.00,295.51 L194.20,295.51 L194.20,295.52 L194.40,295.52 L194.40,295.52 L194.60,295.52 L194.60,295.52 L194.80,295.52 L194.80,295.52 L195.00,295.52 L195.00,295.52 L195.20,295.52 L195.20,295.53 L195.40,295.53 L195.40,295.53 L195.60,295.53 L195.60,295.53 L195.80,295.53 L195.80,295.53 L196.00,295.53 L196.00,295.54 L196.20,295.54 L196.20,295.54 L196.40,295.54 L196.40,295.54 L196.60,295.54 L196.60,295.54 L196.80,295.54 L196.80,295.54 L197.00,295.54 L197.00,295.55 L197.20,295.55 L197.20,295.55 L197.40,295.55 L197.40,295.55 L197.60,295.55 L197.60,295.55 L197.80,295.55 L197.80,295.55 L198.00,295.55 L198.00,320.51 L199.60,320.51 L199.60,322.82 L201.60,322.82 L201.60,319.33 L201.80,319.33 L201.80,312.72 L202.00,312.72 L202.00,306.65 L202.20,306.65 L202.20,320.51 L203.40,320.51 L203.40,317.32 L203.60,317.32 L203.60,311.27 L203.80,311.27 L203.80,305.73 L204.00,305.73 L204.00,300.82 L204.20,300.82 L204.20,296.87 L204.40,296.87 L204.40,295.62 L204.60,295.62 L204.60,295.63 L204.80,295.63 L204.80,295.63 L205.00,295.63 L205.00,295.63 L205.20,295.63 L205.20,295.63 L205.40,295.63 L205.40,322.05 L207.00,322.05 L207.00,318.67 L207.20,318.67 L207.20,315.40 L207.40,315.40 L207.40,312.26 L207.60,312.26 L207.60,309.24 L207.80,309.24 L207.80,306.38 L208.00,306.38 L208.00,303.68 L208.20,303.68 L208.20,301.18 L208.40,301.18 L208.40,298.92 L208.60,298.92 L208.60,296.99 L208.80,296.99 L208.80,295.67 L209.00,295.67 L209.00,295.67 L209.20,295.67 L209.20,295.67 L209.40,295.67 L209.40,295.68 L209.60,295.68 L209.60,295.68 L209.80,295.68 L209.80,295.68 L210.00,295.68 L210.00,295.68 L210.20,295.68 L210.20,295.68 L210.40,295.68 L210.40,295.69 L210.60,295.69 L210.60,295.69 L210.80,295.69 L210.80,295.69 L211.00,295.69 L211.00,295.69 L211.20,295.69 L211.20,295.69 L211.40,295.69 L211.40,295.70 L211.60,295.70 L211.60,295.70 L211.80,295.70 L211.80,295.70 L212.00,295.70 L212.00,295.70 L212.20,295.70 L212.20,295.71 L212.40,295.71 L212.40,295.71 L212.60,295.71 L212.60,295.71 L212.80,295.71 L212.80,295.71 L213.00,295.71 L213.00,295.71 L213.20,295.71 L213.20,295.72 L213.40,295.72 L213.40,295.72 L213.60,295.72 L213.60,295.72 L213.80,295.72 L213.80,295.72 L214.00,295.72 L214.00,295.72 L214.20,295.72 L214.20,295.73 L214.40,295.73 L214.40,295.73 L214.60,295.73 L214.60,295.73 L214.80,295.73 L214.80,314.35 L216.00,314.35 L216.00,311.97 L216.20,311.97 L216.20,309.67 L216.40,309.67 L216.40,307.45 L216.60,307.45 L216.60,305.33 L216.80,305.33 L216.80,303.31 L217.00,303.31 L217.00,301.41 L217.20,301.41 L217.20,299.64 L217.40,299.64 L217.40,298.05 L217.60,298.05 L217.60,296.69 L217.80,296.69 L217.80,295.76 L218.00,295.76 L218.00,295.77 L218.20,295.77 L218.20,295.77 L218.40,295.77 L218.40,295.77 L218.60,295.77 L218.60,295.77 L218.80,295.77 L218.80,295.77 L219.00,295.77 L219.00,295.78 L219.20,295.78 L219.20,318.20 L220.40,318.20 L220.40,315.33 L220.60,315.33 L220.60,312.56 L220.80,312.56 L220.80,309.89 L221.00,309.89 L221.00,307.33 L221.20,307.33 L221.20,304.90 L221.40,304.90 L221.40,302.61 L221.60,302.61 L221.60,300.49 L221.80,300.49 L221.80,298.57 L222.00,298.57 L222.00,296.93 L222.20,296.93 L222.20,295.81 L222.40,295.81 L222.40,295.81 L222.60,295.81 L222.60,295.81 L222.80,295.81 L222.80,295.82 L223.00,295.82 L223.00,295.82 L223.20,295.82 L223.20,295.82 L223.40,295.82 L223.40,295.82 L223.60,295.82 L223.60,295.82 L223.80,295.82 L223.80,295.83 L224.00,295.83 L224.00,295.83 L224.20,295.83 L224.20,295.83 L224.40,295.83 L224.40,295.83 L224.60,295.83 L224.60,295.84 L224.80,295.84 L224.80,295.84 L225.00,295.84 L225.00,295.84 L225.20,295.84 L225.20,295.84 L225.40,295.84 L225.40,295.84 L225.60,295.84 L225.60,295.85 L225.80,295.85 L225.80,295.85 L226.00,295.85 L226.00,295.85 L226.20,295.85 L226.20,295.85 L226.40,295.85 L226.40,295.85 L226.60,295.85 L226.60,295.86 L226.80,295.86 L226.80,295.86 L227.00,295.86 L227.00,295.86 L227.20,295.86 L227.20,295.86 L227.40,295.86 L227.40,295.86 L227.60,295.86 L227.60,295.87 L227.80,295.87 L227.80,295.87 L228.00,295.87 L228.00,295.87 L228.20,295.87 L228.20,295.87 L228.40,295.87 L228.40,295.88 L228.60,295.88 L228.60,295.88 L228.80,295.88 L228.80,295.88 L229.00,295.88 L229.00,295.88 L229.20,295.88 L229.20,295.88 L229.40,295.88 L229.40,295.89 L229.60,295.89 L229.60,350.54 L230.40,350.54 L230.40,309.00 L230.60,309.00 L230.60,295.90 L230.80,295.90 L230.80,295.90 L231.00,295.90 L231.00,295.90 L231.20,295.90 L231.20,295.90 L231.40,295.90 L231.40,295.91 L231.60,295.91 L231.60,295.91 L231.80,295.91 L231.80,295.91 L232.00,295.91 L232.00,295.91 L232.20,295.91 L232.20,295.92 L232.40,295.92 L232.40,295.92 L232.60,295.92 L232.60,323.59 L233.80,323.59 L233.80,321.81 L234.00,321.81 L234.00,318.32 L234.20,318.32 L234.20,314.96 L234.40,314.96 L234.40,311.73 L234.60,311.73 L234.60,308.65 L234.80,308.65 L234.80,305.73 L235.00,305.73 L235.00,303.01 L235.20,303.01 L235.20,300.51 L235.40,300.51 L235.40,298.30 L235.60,298.30 L235.60,296.51 L235.80,296.51 L235.80,295.95 L236.00,295.95 L236.00,295.96 L236.20,295.96 L236.20,295.96 L236.40,295.96 L236.40,295.96 L236.60,295.96 L236.60,295.96 L236.80,295.96 L236.80,295.96 L237.00,295.96 L237.00,295.97 L237.20,295.97 L237.20,295.97 L237.40,295.97 L237.40,295.97 L237.60,295.97 L237.60,295.97 L237.80,295.97 L237.80,295.97 L238.00,295.97 L238.00,295.98 L238.20,295.98 L238.20,295.98 L238.40,295.98 L238.40,295.98 L238.60,295.98 L238.60,295.98 L238.80,295.98 L238.80,295.98 L239.00,295.98 L239.00,318.97 L240.20,318.97 L240.20,317.49 L240.40,317.49 L240.40,314.60 L240.60,314.60 L240.60,311.80 L240.80,311.80 L240.80,309.12 L241.00,309.12 L241.00,306.56 L241.20,306.56 L241.20,304.14 L241.40,304.14 L241.40,301.88 L241.60,301.88 L241.60,299.80 L241.80,299.80 L241.80,297.96 L242.00,297.96 L242.00,296.49 L242.20,296.49 L242.20,296.02 L242.40,296.02 L242.40,296.02 L242.60,296.02 L242.60,296.02 L242.80,296.02 L242.80,296.03 L243.00,296.03 L243.00,296.03 L243.20,296.03 L243.20,296.03 L243.40,296.03 L243.40,322.05 L244.60,322.05 L244.60,318.72 L244.80,318.72 L244.80,315.50 L245.00,315.50 L245.00,312.40 L245.20,312.40 L245.20,309.43 L245.40,309.43 L245.40,306.61 L245.60,306.61 L245.60,303.95 L245.80,303.95 L245.80,301.49 L246.00,301.49 L246.00,299.27 L246.20,299.27 L246.20,297.36 L246.40,297.36 L246.40,296.06 L246.60,296.06 L246.60,296.07 L246.80,296.07 L246.80,296.07 L247.00,296.07 L247.00,296.07 L247.20,296.07 L247.20,296.07 L247.40,296.07 L247.40,296.07 L247.60,296.07 L247.60,296.08 L247.80,296.08 L247.80,296.08 L248.00,296.08 L248.00,296.08 L248.20,296.08 L248.20,296.08 L248.40,296.08 L248.40,296.09 L248.60,296.09 L248.60,296.09 L248.80,296.09 L248.80,315.12 L249.60,315.12 L249.60,310.33 L249.80,310.33 L249.80,328.67 L250.80,328.67 L250.80,325.88 L251.00,325.88 L251.00,320.48 L251.20,320.48 L251.20,315.34 L251.40,315.34 L251.40,310.51 L251.60,310.51 L251.60,306.03 L251.80,306.03 L251.80,301.98 L252.00,301.98 L252.00,298.52 L252.20,298.52 L252.20,296.16 L252.40,296.16 L252.40,296.17 L252.60,296.17 L252.60,296.17 L252.80,296.17 L252.80,296.18 L253.00,296.18 L253.00,296.18 L253.20,296.18 L253.20,296.19 L253.40,296.19 L253.40,296.19 L253.60,296.19 L253.60,296.20 L253.80,296.20 L253.80,296.20 L254.00,296.20 L254.00,296.21 L254.20,296.21 L254.20,296.21 L254.40,296.21 L254.40,296.22 L254.60,296.22 L254.60,296.22 L254.80,296.22 L254.80,296.23 L255.00,296.23 L255.00,323.59 L255.80,323.59 L255.80,324.05 L256.80,324.05 L256.80,322.26 L257.00,322.26 L257.00,319.41 L257.20,319.41 L257.20,318.05 L257.40,318.05 L257.40,316.72 L257.60,316.72 L257.60,315.40 L257.80,315.40 L257.80,314.11 L258.00,314.11 L258.00,312.83 L258.20,312.83 L258.20,311.59 L258.40,311.59 L258.40,310.36 L258.60,310.36 L258.60,309.16 L258.80,309.16 L258.80,307.98 L259.00,307.98 L259.00,306.83 L259.20,306.83 L259.20,305.72 L259.40,305.72 L259.40,304.63 L259.60,304.63 L259.60,303.57 L259.80,303.57 L259.80,302.55 L260.00,302.55 L260.00,301.57 L260.20,301.57 L260.20,300.63 L260.40,300.63 L260.40,299.73 L260.60,299.73 L260.60,298.89 L260.80,298.89 L260.80,298.11 L261.00,298.11 L261.00,297.41 L261.20,297.41 L261.20,296.81 L261.40,296.81 L261.40,296.40 L261.60,296.40 L261.60,296.41 L261.80,296.41 L261.80,296.41 L262.00,296.41 L262.00,296.42 L262.20,296.42 L262.20,296.42 L262.40,296.42 L262.40,296.43 L262.60,296.43 L262.60,296.43 L262.80,296.43 L262.80,296.44 L263.00,296.44 L263.00,296.44 L263.20,296.44 L263.20,296.45 L263.40,296.45 L263.40,296.45 L263.60,296.45 L263.60,296.46 L263.80,296.46 L263.80,296.46 L264.00,296.46 L264.00,296.47 L264.20,296.47 L264.20,296.48 L264.40,296.48 L264.40,296.48 L264.60,296.48 L264.60,296.49 L264.80,296.49 L264.80,296.49 L265.00,296.49 L265.00,296.50 L265.20,296.50 L265.20,296.50 L265.40,296.50 L265.40,296.51 L265.60,296.51 L265.60,296.51 L265.80,296.51 L265.80,296.52 L266.00,296.52 L266.00,296.52 L266.20,296.52 L266.20,296.53 L266.40,296.53 L266.40,296.53 L266.60,296.53 L266.60,296.54 L266.80,296.54 L266.80,296.54 L267.00,296.54 L267.00,296.55 L267.20,296.55 L267.20,296.55 L267.40,296.55 L267.40,296.56 L267.60,296.56 L267.60,296.56 L267.80,296.56 L267.80,296.57 L268.00,296.57 L268.00,296.57 L268.20,296.57 L268.20,296.58 L268.40,296.58 L268.40,296.59 L268.60,296.59 L268.60,296.59 L268.80,296.59 L268.80,296.60 L269.00,296.60 L269.00,296.60 L269.20,296.60 L269.20,296.61 L269.40,296.61 L269.40,296.61 L269.60,296.61 L269.60,296.62 L269.80,296.62 L269.80,296.62 L270.00,296.62 L270.00,296.63 L270.20,296.63 L270.20,296.63 L270.40,296.63 L270.40,296.64 L270.60,296.64 L270.60,296.64 L270.80,296.64 L270.80,296.65 L271.00,296.65 L271.00,296.65 L271.20,296.65 L271.20,296.66 L271.40,296.66 L271.40,296.66 L271.60,296.66 L271.60,296.67 L271.80,296.67 L271.80,296.67 L272.00,296.67 L272.00,296.68 L272.20,296.68 L272.20,296.68 L272.40,296.68 L272.40,296.69 L272.60,296.69 L272.60,296.70 L272.80,296.70 L272.80,296.70 L273.00,296.70 L273.00,296.71 L273.20,296.71 L273.20,296.71 L273.40,296.71 L273.40,296.72 L273.60,296.72 L273.60,296.72 L273.80,296.72 L273.80,296.73 L274.00,296.73 L274.00,296.73 L274.20,296.73 L274.20,296.74 L274.40,296.74 L274.40,296.74 L274.60,296.74 L274.60,296.75 L274.80,296.75 L274.80,296.75 L275.00,296.75 L275.00,296.76 L275.20,296.76 L275.20,296.76 L275.40,296.76 L275.40,296.77 L275.60,296.77 L275.60,296.77 L275.80,296.77 L275.80,296.78 L276.00,296.78 L276.00,296.78 L276.20,296.78 L276.20,296.79 L276.40,296.79 L276.40,296.79 L276.60,296.79 L276.60,296.80 L276.80,296.80 L276.80,296.81 L277.00,296.81 L277.00,296.81 L277.20,296.81 L277.20,296.82 L277.40,296.82 L277.40,296.82 L277.60,296.82 L277.60,296.83 L277.80,296.83 L277.80,296.83 L278.00,296.83 L278.00,296.84 L278.20,296.84 L278.20,343.61 L279.00,343.61 L279.00,308.07 L279.20,308.07 L279.20,296.87 L279.40,296.87 L279.40,296.87 L279.60,296.87 L279.60,296.88 L279.80,296.88 L279.80,296.88 L280.00,296.88 L280.00,301.26 L282.00,301.26 L282.00,315.89 L282.60,315.89 L282.60,316.66 L283.60,316.66 L283.60,315.89 L283.80,315.89 L283.80,311.71 L284.00,311.71 L284.00,308.60 L284.20,308.60 L284.20,305.68 L284.40,305.68 L284.40,302.98 L284.60,302.98 L284.60,300.53 L284.80,300.53 L284.80,298.45 L285.00,298.45 L285.00,297.02 L285.20,297.02 L285.20,297.03 L285.40,297.03 L285.40,297.03 L285.60,297.03 L285.60,297.04 L285.80,297.04 L285.80,297.04 L286.00,297.04 L286.00,297.05 L286.20,297.05 L286.20,297.05 L286.40,297.05 L286.40,297.06 L286.60,297.06 L286.60,297.06 L286.80,297.06 L286.80,297.07 L287.00,297.07 L287.00,297.07 L287.20,297.07 L287.20,297.08 L287.40,297.08 L287.40,297.08 L287.60,297.08 L287.60,297.09 L287.80,297.09 L287.80,297.09 L288.00,297.09 L288.00,297.10 L288.20,297.10 L288.20,297.10 L288.40,297.10 L288.40,297.11 L288.60,297.11 L288.60,297.11 L288.80,297.11 L288.80,297.12 L289.00,297.12 L289.00,297.12 L289.20,297.12 L289.20,297.13 L289.40,297.13 L289.40,297.14 L289.60,297.14 L289.60,297.14 L289.80,297.14 L289.80,297.15 L290.00,297.15 L290.00,297.15 L290.20,297.15 L290.20,297.16 L290.40,297.16 L290.40,297.16 L290.60,297.16 L290.60,297.17 L290.80,297.17 L290.80,297.17 L291.00,297.17 L291.00,297.18 L291.20,297.18 L291.20,297.18 L291.40,297.18 L291.40,297.19 L291.60,297.19 L291.60,297.19 L291.80,297.19 L291.80,297.20 L292.00,297.20 L292.00,297.20 L292.20,297.20 L292.20,297.21 L292.40,297.21 L292.40,297.21 L292.60,297.21 L292.60,297.22 L292.80,297.22 L292.80,297.22 L293.00,297.22 L293.00,297.23 L293.20,297.23 L293.20,297.23 L293.40,297.23 L293.40,297.24 L293.60,297.24 L293.60,297.25 L293.80,297.25 L293.80,297.25 L294.00,297.25 L294.00,297.26 L294.20,297.26 L294.20,297.26 L294.40,297.26 L294.40,297.27 L294.60,297.27 L294.60,297.27 L294.80,297.27 L294.80,297.28 L295.00,297.28 L295.00,297.28 L295.20,297.28 L295.20,297.29 L295.40,297.29 L295.40,297.29 L295.60,297.29 L295.60,297.30 L295.80,297.30 L295.80,297.30 L296.00,297.30 L296.00,297.31 L296.20,297.31 L296.20,297.31 L296.40,297.31 L296.40,297.32 L296.60,297.32 L296.60,297.32 L296.80,297.32 L296.80,297.33 L297.00,297.33 L297.00,297.33 L297.20,297.33 L297.20,297.34 L297.40,297.34 L297.40,297.34 L297.60,297.34 L297.60,297.35 L297.80,297.35 L297.80,336.68 L298.40,336.68 L298.40,320.58 L298.60,320.58 L298.60,297.38 L298.80,297.38 L298.80,297.38 L299.00,297.38 L299.00,297.39 L299.20,297.39 L299.20,314.81 L301.20,314.81 L301.20,312.59 L301.40,312.59 L301.40,308.37 L301.60,308.37 L301.60,304.92 L301.80,304.92 L301.80,302.60 L302.00,302.60 L302.00,300.50 L302.20,300.50 L302.20,298.71 L302.40,298.71 L302.40,297.48 L302.60,297.48 L302.60,297.49 L302.80,297.49 L302.80,297.49 L303.00,297.49 L303.00,297.50 L303.20,297.50 L303.20,297.51 L303.40,297.51 L303.40,297.51 L303.60,297.51 L303.60,297.52 L303.80,297.52 L303.80,297.52 L304.00,297.52 L304.00,297.53 L304.20,297.53 L304.20,297.53 L304.40,297.53 L304.40,297.54 L304.60,297.54 L304.60,297.55 L304.80,297.55 L304.80,297.55 L305.00,297.55 L305.00,297.56 L305.20,297.56 L305.20,297.56 L305.40,297.56 L305.40,297.57 L305.60,297.57 L305.60,297.57 L305.80,297.57 L305.80,297.58 L306.00,297.58 L306.00,297.59 L306.20,297.59 L306.20,297.59 L306.40,297.59 L306.40,297.60 L306.60,297.60 L306.60,297.60 L306.80,297.60 L306.80,297.61 L307.00,297.61 L307.00,297.62 L307.20,297.62 L307.20,297.62 L307.40,297.62 L307.40,297.63 L307.60,297.63 L307.60,297.63 L307.80,297.63 L307.80,297.64 L308.00,297.64 L308.00,297.64 L308.20,297.64 L308.20,297.65 L308.40,297.65 L308.40,297.66 L308.60,297.66 L308.60,297.66 L308.80,297.66 L308.80,297.67 L309.00,297.67 L309.00,297.67 L309.20,297.67 L309.20,297.68 L309.40,297.68 L309.40,310.12 L311.80,310.12 L311.80,304.12 L312.00,304.12 L312.00,299.28 L312.20,299.28 L312.20,297.77 L312.40,297.77 L312.40,297.77 L312.60,297.77 L312.60,297.78 L312.80,297.78 L312.80,297.78 L313.00,297.78 L313.00,297.79 L313.20,297.79 L313.20,297.79 L313.40,297.79 L313.40,297.80 L313.60,297.80 L313.60,297.81 L313.80,297.81 L313.80,297.81 L314.00,297.81 L314.00,297.82 L314.20,297.82 L314.20,297.82 L314.40,297.82 L314.40,297.83 L314.60,297.83 L314.60,297.83 L314.80,297.83 L314.80,297.84 L315.00,297.84 L315.00,297.85 L315.20,297.85 L315.20,297.85 L315.40,297.85 L315.40,297.86 L315.60,297.86 L315.60,297.86 L315.80,297.86 L315.80,297.87 L316.00,297.87 L316.00,297.87 L316.20,297.87 L316.20,297.88 L316.40,297.88 L316.40,297.89 L316.60,297.89 L316.60,297.89 L316.80,297.89 L316.80,297.90 L317.00,297.90 L317.00,297.90 L317.20,297.90 L317.20,297.91 L317.40,297.91 L317.40,297.92 L317.60,297.92 L317.60,297.92 L317.80,297.92 L317.80,297.93 L318.00,297.93 L318.00,297.93 L318.20,297.93 L318.20,297.94 L318.40,297.94 L318.40,297.94 L318.60,297.94 L318.60,297.95 L318.80,297.95 L318.80,297.96 L319.00,297.96 L319.00,297.96 L319.20,297.96 L319.20,297.97 L319.40,297.97 L319.40,311.27 L320.80,311.27 L320.80,305.84 L321.00,305.84 L321.00,298.02 L321.20,298.02 L321.20,298.03 L321.40,298.03 L321.40,298.03 L321.60,298.03 L321.60,298.04 L321.80,298.04 L321.80,298.04 L322.00,298.04 L322.00,298.05 L322.20,298.05 L322.20,298.05 L322.40,298.05 L322.40,298.06 L322.60,298.06 L322.60,298.07 L322.80,298.07 L322.80,298.07 L323.00,298.07 L323.00,298.08 L323.20,298.08 L323.20,298.08 L323.40,298.08 L323.40,298.09 L323.60,298.09 L323.60,298.09 L323.80,298.09 L323.80,298.10 L324.00,298.10 L324.00,298.11 L324.20,298.11 L324.20,298.11 L324.40,298.11 L324.40,298.12 L324.60,298.12 L324.60,298.12 L324.80,298.12 L324.80,298.13 L325.00,298.13 L325.00,298.13 L325.20,298.13 L325.20,298.14 L325.40,298.14 L325.40,298.15 L325.60,298.15 L325.60,298.15 L325.80,298.15 L325.80,298.16 L326.00,298.16 L326.00,298.16 L326.20,298.16 L326.20,298.17 L326.40,298.17 L326.40,298.18 L326.60,298.18 L326.60,306.65 L328.00,306.65 L328.00,303.20 L328.20,303.20 L328.20,298.23 L328.40,298.23 L328.40,298.23 L328.60,298.23 L328.60,298.24 L328.80,298.24 L328.80,298.24 L329.00,298.24 L329.00,298.25 L329.20,298.25 L329.20,298.26 L329.40,298.26 L329.40,298.26 L329.60,298.26 L329.60,298.27 L329.80,298.27 L329.80,298.27 L330.00,298.27 L330.00,298.28 L330.20,298.28 L330.20,298.28 L330.40,298.28 L330.40,298.29 L330.60,298.29 L330.60,298.30 L330.80,298.30 L330.80,298.30 L331.00,298.30 L331.00,298.31 L331.20,298.31 L331.20,298.31 L331.40,298.31 L331.40,307.81 L332.40,307.81 L332.40,300.62 L332.60,300.62 L332.60,298.35 L332.80,298.35 L332.80,298.36 L333.00,298.36 L333.00,298.37 L333.20,298.37 L333.20,298.37 L333.40,298.37 L333.40,298.38 L333.60,298.38 L333.60,298.38 L333.80,298.38 L333.80,298.39 L334.00,298.39 L334.00,298.39 L334.20,298.39 L334.20,298.40 L334.40,298.40 L334.40,298.41 L334.60,298.41 L334.60,298.41 L334.80,298.41 L334.80,298.42 L335.00,298.42 L335.00,298.42 L335.20,298.42 L335.20,298.43 L335.40,298.43 L335.40,298.44 L335.60,298.44 L335.60,298.44 L335.80,298.44 L335.80,308.96 L336.80,308.96 L336.80,300.99 L337.00,300.99 L337.00,298.48 L337.20,298.48 L337.20,298.49 L337.40,298.49 L337.40,298.49 L337.60,298.49 L337.60,298.50 L337.80,298.50 L337.80,298.50 L338.00,298.50 L338.00,298.51 L338.20,298.51 L338.20,298.52 L338.40,298.52 L338.40,298.52 L338.60,298.52 L338.60,298.53 L338.80,298.53 L338.80,298.53 L339.00,298.53 L339.00,298.54 L339.20,298.54 L339.20,310.50 L340.00,310.50 L340.00,305.62 L340.20,305.62 L340.20,298.62 L340.40,298.62 L340.40,298.66 L340.60,298.66 L340.60,298.70 L340.80,298.70 L340.80,298.74 L341.00,298.74 L341.00,298.78 L341.20,298.78 L341.20,298.82 L341.40,298.82 L341.40,298.85 L341.60,298.85 L341.60,298.89 L341.80,298.89 L341.80,298.93 L342.00,298.93 L342.00,298.97 L342.20,298.97 L342.20,299.01 L342.40,299.01 L342.40,299.05 L342.60,299.05 L342.60,299.08 L342.80,299.08 L342.80,299.12 L343.00,299.12 L343.00,324.36 L343.80,324.36 L343.80,314.10 L344.00,314.10 L344.00,299.35 L344.20,299.35 L344.20,299.39 L344.40,299.39 L344.40,299.43 L344.60,299.43 L344.60,299.47 L344.80,299.47 L344.80,299.51 L345.00,299.51 L345.00,299.55 L345.20,299.55 L345.20,299.59 L345.40,299.59 L345.40,299.62 L345.60,299.62 L345.60,299.66 L345.80,299.66 L345.80,299.70 L346.00,299.70 L346.00,299.75 L346.20,299.75 L346.20,299.81 L346.40,299.81 L346.40,299.86 L346.60,299.86 L346.60,299.92 L346.80,299.92 L346.80,299.98 L347.00,299.98 L347.00,300.04 L347.20,300.04 L347.20,300.10 L347.40,300.10 L347.40,300.15 L347.60,300.15 L347.60,312.04 L348.60,312.04 L348.60,307.31 L348.80,307.31 L348.80,300.56 L349.00,300.56 L349.00,300.62 L349.20,300.62 L349.20,300.67 L349.40,300.67 L349.40,300.73 L349.60,300.73 L349.60,300.79 L349.80,300.79 L349.80,300.85 L350.00,300.85 L350.00,300.92 L350.20,300.92 L350.20,301.00 L350.40,301.00 L350.40,301.09 L350.60,301.09 L350.60,301.17 L350.80,301.17 L350.80,301.26 L351.00,301.26 L351.00,301.35 L351.20,301.35 L351.20,301.43 L351.40,301.43 L351.40,301.52 L351.60,301.52 L351.60,301.60 L351.80,301.60 L351.80,301.69 L352.00,301.69 L352.00,301.77 L352.20,301.77 L352.20,301.86 L352.40,301.86 L352.40,301.94 L352.60,301.94 L352.60,302.03 L352.80,302.03 L352.80,295.64 L353.00,295.64 L353.00,295.65 L353.20,295.65 L353.20,295.65 L353.40,295.65 L353.40,295.65 L353.60,295.65 L353.60,295.66 L353.80,295.66 L353.80,295.66 L354.00,295.66 L354.00,295.66 L354.20,295.66 L354.20,295.67 L354.40,295.67 L354.40,295.67 L354.60,295.67 L354.60,295.67 L354.80,295.67 L354.80,295.68 L355.00,295.68 L355.00,295.68 L355.20,295.68 L355.20,295.68 L355.40,295.68 L355.40,295.69 L355.60,295.69 L355.60,295.69 L355.80,295.69 L355.80,295.69 L356.00,295.69 L356.00,295.69 L356.20,295.69 L356.20,295.70 L356.40,295.70 L356.40,295.70 L356.60,295.70 L356.60,295.70 L356.80,295.70 L356.80,295.71 L357.00,295.71 L357.00,295.71 L357.20,295.71 L357.20,295.71 L357.40,295.71 L357.40,295.72 L357.60,295.72 L357.60,295.72 L357.80,295.72 L357.80,295.72 L358.00,295.72 L358.00,295.73 L358.20,295.73 L358.20,295.73 L358.40,295.73 L358.40,295.73 L358.60,295.73 L358.60,295.74 L358.80,295.74 L358.80,295.74 L359.00,295.74 L359.00,295.74 L359.20,295.74 L359.20,295.75 L359.40,295.75 L359.40,295.75 L359.60,295.75 L359.60,295.75 L359.80,295.75 L359.80,295.76 L360.00,295.76 L360.00,295.76 L360.20,295.76 L360.20,295.76 L360.40,295.76 L360.40,295.77 L360.60,295.77 L360.60,295.77 L360.80,295.77 L360.80,295.77 L361.00,295.77 L361.00,295.78 L361.20,295.78 L361.20,295.78 L361.40,295.78 L361.40,295.78 L361.60,295.78 L361.60,295.79 L361.80,295.79 L361.80,295.79 L362.00,295.79 L362.00,295.79 L362.20,295.79 L362.20,295.80 L362.40,295.80 L362.40,295.80 L362.60,295.80 L362.60,295.80 L362.80,295.80 L362.80,295.81 L363.00,295.81 L363.00,295.81 L363.20,295.81 L363.20,295.81 L363.40,295.81 L363.40,295.82 L363.60,295.82 L363.60,295.82 L363.80,295.82 L363.80,295.82 L364.00,295.82 L364.00,295.83 L364.20,295.83 L364.20,295.83 L364.40,295.83 L364.40,295.83 L364.60,295.83 L364.60,295.84 L364.80,295.84 L364.80,295.84 L365.00,295.84 L365.00,295.84 L365.20,295.84 L365.20,295.85 L365.40,295.85 L365.40,295.85 L365.60,295.85 L365.60,295.85 L365.80,295.85 L365.80,295.86 L366.00,295.86 L366.00,295.86 L366.20,295.86 L366.20,295.86 L366.40,295.86 L366.40,295.87 L366.60,295.87 L366.60,295.87 L366.80,295.87 L366.80,295.87 L367.00,295.87 L367.00,295.88 L367.20,295.88 L367.20,295.88 L367.40,295.88 L367.40,295.88 L367.60,295.88 L367.60,295.89 L367.80,295.89 L367.80,295.89 L368.00,295.89 L368.00,295.89 L368.20,295.89 L368.20,295.90 L368.40,295.90 L368.40,295.90 L368.60,295.90 L368.60,295.90 L368.80,295.90 L368.80,295.91 L369.00,295.91 L369.00,295.91 L369.20,295.91 L369.20,295.91 L369.40,295.91 L369.40,295.92 L369.60,295.92 L369.60,295.92 L369.80,295.92 L369.80,295.92 L370.00,295.92 L370.00,295.93 L370.20,295.93 L370.20,295.93 L370.40,295.93 L370.40,295.93 L370.60,295.93 L370.60,295.94 L370.80,295.94 L370.80,295.94 L371.00,295.94 L371.00,295.94 L371.20,295.94 L371.20,295.95 L371.40,295.95 L371.40,295.95 L371.60,295.95 L371.60,295.95 L371.80,295.95 L371.80,295.96 L372.00,295.96 L372.00,295.96 L372.20,295.96 L372.20,295.96 L372.40,295.96 L372.40,295.97 L372.60,295.97 L372.60,295.97 L372.80,295.97 L372.80,295.97 L373.00,295.97 L373.00,295.98 L373.20,295.98 L373.20,295.98 L373.40,295.98 L373.40,295.98 L373.60,295.98 L373.60,295.99 L373.80,295.99 L373.80,295.99 L374.00,295.99 L374.00,295.99 L374.20,295.99 L374.20,296.00 L374.40,296.00 L374.40,296.00 L374.60,296.00 L374.60,296.00 L374.80,296.00 L374.80,296.01 L375.00,296.01 L375.00,296.01 L375.20,296.01 L375.20,296.01 L375.40,296.01 L375.40,296.02 L375.60,296.02 L375.60,296.02 L375.80,296.02 L375.80,296.02 L376.00,296.02 L376.00,296.03 L376.20,296.03 L376.20,296.03 L376.40,296.03 L376.40,296.03 L376.60,296.03 L376.60,296.03 L376.80,296.03 L376.80,296.04 L377.00,296.04 L377.00,296.04 L377.20,296.04 L377.20,296.04 L377.40,296.04 L377.40,296.05 L377.60,296.05 L377.60,296.05 L377.80,296.05 L377.80,296.05 L378.00,296.05 L378.00,296.06 L378.20,296.06 L378.20,296.06 L378.40,296.06 L378.40,296.06 L378.60,296.06 L378.60,296.07 L378.80,296.07 L378.80,296.07 L379.00,296.07 L379.00,296.07 L379.20,296.07 L379.20,296.08 L379.40,296.08 L379.40,296.08 L379.60,296.08 L379.60,296.08 L379.80,296.08 L379.80,296.09 L380.00,296.09 L380.00,296.09 L380.20,296.09 L380.20,296.09 L380.40,296.09 L380.40,296.10 L380.60,296.10 L380.60,296.10 L380.80,296.10 L380.80,296.10 L381.00,296.10 L381.00,296.11 L381.20,296.11 L381.20,296.11 L381.40,296.11 L381.40,296.11 L381.60,296.11 L381.60,296.12 L381.80,296.12 L381.80,296.12 L382.00,296.12 L382.00,296.12 L382.20,296.12 L382.20,296.13 L382.40,296.13 L382.40,296.13 L382.60,296.13 L382.60,296.13 L382.80,296.13 L382.80,296.14 L383.00,296.14 L383.00,296.14 L383.20,296.14 L383.20,296.14 L383.40,296.14 L383.40,296.15 L383.60,296.15 L383.60,296.15 L383.80,296.15 L383.80,296.15 L384.00,296.15 L384.00,296.16 L384.20,296.16 L384.20,296.16 L384.40,296.16 L384.40,296.16 L384.60,296.16 L384.60,296.17 L384.80,296.17 L384.80,296.17 L385.00,296.17 L385.00,296.17 L385.20,296.17 L385.20,296.18 L385.40,296.18 L385.40,296.18 L385.60,296.18 L385.60,296.18 L385.80,296.18 L385.80,296.19 L386.00,296.19 L386.00,296.19 L386.20,296.19 L386.20,296.19 L386.40,296.19 L386.40,296.20 L386.60,296.20 L386.60,296.20 L386.80,296.20 L386.80,296.20 L387.00,296.20 L387.00,296.21 L387.20,296.21 L387.20,296.21 L387.40,296.21 L387.40,296.21 L387.60,296.21 L387.60,296.22 L387.80,296.22 L387.80,296.22 L388.00,296.22 L388.00,296.22 L388.20,296.22 L388.20,296.23 L388.40,296.23 L388.40,296.23 L388.60,296.23 L388.60,296.23 L388.80,296.23 L388.80,296.24 L389.00,296.24 L389.00,296.24 L389.20,296.24 L389.20,296.24 L389.40,296.24 L389.40,296.25 L389.60,296.25 L389.60,296.25 L389.80,296.25 L389.80,296.25 L390.00,296.25 L390.00,296.26 L390.20,296.26 L390.20,296.26 L390.40,296.26 L390.40,296.26 L390.60,296.26 L390.60,296.27 L390.80,296.27 L390.80,296.27 L391.00,296.27 L391.00,296.27 L391.20,296.27 L391.20,296.28 L391.40,296.28 L391.40,296.28 L391.60,296.28 L391.60,296.28 L391.80,296.28 L391.80,296.29 L392.00,296.29 L392.00,296.29 L392.20,296.29 L392.20,296.29 L392.40,296.29 L392.40,296.30 L392.60,296.30 L392.60,296.30 L392.80,296.30 L392.80,296.30 L393.00,296.30 L393.00,296.31 L393.20,296.31 L393.20,296.31 L393.40,296.31 L393.40,296.31 L393.60,296.31 L393.60,296.32 L393.80,296.32 L393.80,296.32 L394.00,296.32 L394.00,296.32 L394.20,296.32 L394.20,296.33 L394.40,296.33 L394.40,296.33 L394.60,296.33 L394.60,296.33 L394.80,296.33 L394.80,296.34 L395.00,296.34 L395.00,296.34 L395.20,296.34 L395.20,296.34 L395.40,296.34 L395.40,296.35 L395.60,296.35 L395.60,296.35 L395.80,296.35 L395.80,296.35 L396.00,296.35 L396.00,296.36 L396.20,296.36 L396.20,296.36 L396.40,296.36 L396.40,296.36 L396.60,296.36 L396.60,296.37 L396.80,296.37 L396.80,296.37 L397.00,296.37 L397.00,296.37 L397.20,296.37 L397.20,296.38 L397.40,296.38 L397.40,296.38 L397.60,296.38 L397.60,296.38 L397.80,296.38 L397.80,296.38 L398.00,296.38 L398.00,296.39 L398.20,296.39 L398.20,296.39 L398.40,296.39 L398.40,296.39 L398.60,296.39 L398.60,296.40 L398.80,296.40 L398.80,296.40 L399.00,296.40 L399.00,296.40 L399.20,296.40 L399.20,296.41 L399.40,296.41 L399.40,296.41 L399.60,296.41 L399.60,296.41 L399.80,296.41 L399.80,296.42 L400.00,296.42 L400.00,296.42 L400.20,296.42 L400.20,296.42 L400.40,296.42 L400.40,296.43 L400.60,296.43 L400.60,296.43 L400.80,296.43 L400.80,296.43 L401.00,296.43 L401.00,296.44 L401.20,296.44 L401.20,296.44 L401.40,296.44 L401.40,296.44 L401.60,296.44 L401.60,296.45 L401.80,296.45 L401.80,296.45 L402.00,296.45 L402.00,296.45 L402.20,296.45 L402.20,296.46 L402.40,296.46 L402.40,296.46 L402.60,296.46 L402.60,296.46 L402.80,296.46 L402.80,296.47 L403.00,296.47 L403.00,296.47 L403.20,296.47 L403.20,296.47 L403.40,296.47 L403.40,296.48 L403.60,296.48 L403.60,296.48 L403.80,296.48 L403.80,296.48 L404.00,296.48 L404.00,296.49 L404.20,296.49 L404.20,296.49 L404.40,296.49 L404.40,296.49 L404.60,296.49 L404.60,296.50 L404.80,296.50 L404.80,296.50 L405.00,296.50 L405.00,296.50 L405.20,296.50 L405.20,296.51 L405.40,296.51 L405.40,296.51 L405.60,296.51 L405.60,296.51 L405.80,296.51 L405.80,296.52 L406.00,296.52 L406.00,296.52 L406.20,296.52 L406.20,296.52 L406.40,296.52 L406.40,296.53 L406.60,296.53 L406.60,296.53 L406.80,296.53 L406.80,296.53 L407.00,296.53 L407.00,296.54 L407.20,296.54 L407.20,296.54 L407.40,296.54 L407.40,296.54 L407.60,296.54 L407.60,296.55 L407.80,296.55 L407.80,296.55 L408.00,296.55 L408.00,296.55 L408.20,296.55 L408.20,296.56 L408.40,296.56 L408.40,296.56 L408.60,296.56 L408.60,296.56 L408.80,296.56 L408.80,296.57 L409.00,296.57 L409.00,296.57 L409.20,296.57 L409.20,296.57 L409.40,296.57 L409.40,296.58 L409.60,296.58 L409.60,296.58 L409.80,296.58 L409.80,296.58 L410.00,296.58 L410.00,296.59 L410.20,296.59 L410.20,296.59 L410.40,296.59 L410.40,296.59 L410.60,296.59 L410.60,296.60 L410.80,296.60 L410.80,296.60 L411.00,296.60 L411.00,296.60 L411.20,296.60 L411.20,296.61 L411.40,296.61 L411.40,296.61 L411.60,296.61 L411.60,296.61 L411.80,296.61 L411.80,296.62 L412.00,296.62 L412.00,296.62 L412.20,296.62 L412.20,296.62 L412.40,296.62 L412.40,296.63 L412.60,296.63 L412.60,296.63 L412.80,296.63 L412.80,296.63 L413.00,296.63 L413.00,296.64 L413.20,296.64 L413.20,296.64 L413.40,296.64 L413.40,296.64 L413.60,296.64 L413.60,296.65 L413.80,296.65 L413.80,296.65 L414.00,296.65 L414.00,296.65 L414.20,296.65 L414.20,296.66 L414.40,296.66 L414.40,296.66 L414.60,296.66 L414.60,296.66 L414.80,296.66 L414.80,296.67 L415.00,296.67 L415.00,296.67 L415.20,296.67 L415.20,296.67 L415.40,296.67 L415.40,296.68 L415.60,296.68 L415.60,296.68 L415.80,296.68 L415.80,296.68 L416.00,296.68 L416.00,296.69 L416.20,296.69 L416.20,296.69 L416.40,296.69 L416.40,296.69 L416.60,296.69 L416.60,296.70 L416.80,296.70 L416.80,296.70 L417.00,296.70 L417.00,296.70 L417.20,296.70 L417.20,296.71 L417.40,296.71 L417.40,296.71 L417.60,296.71 L417.60,296.71 L417.80,296.71 L417.80,296.72 L418.00,296.72 L418.00,296.72 L418.20,296.72 L418.20,296.72 L418.40,296.72 L418.40,296.72 L418.60,296.72 L418.60,296.73 L418.80,296.73 L418.80,296.73 L419.00,296.73 L419.00,296.73 L419.20,296.73 L419.20,296.74 L419.40,296.74 L419.40,296.74 L419.60,296.74 L419.60,296.74 L419.80,296.74 L419.80,296.75 L420.00,296.75 L420.00,296.75 L420.20,296.75 L420.20,296.75 L420.40,296.75 L420.40,296.76 L420.60,296.76 L420.60,296.76 L420.80,296.76 L420.80,296.76 L421.00,296.76 L421.00,296.77 L421.20,296.77 L421.20,296.77 L421.40,296.77 L421.40,296.77 L421.60,296.77 L421.60,296.78 L421.80,296.78 L421.80,296.78 L422.00,296.78 L422.00,296.78 L422.20,296.78 L422.20,296.79 L422.40,296.79 L422.40,296.79 L422.60,296.79 L422.60,296.79 L422.80,296.79 L422.80,296.80 L423.00,296.80 L423.00,296.80 L423.20,296.80 L423.20,296.80 L423.40,296.80 L423.40,296.81 L423.60,296.81 L423.60,296.81 L423.80,296.81 L423.80,296.81 L424.00,296.81 L424.00,296.82 L424.20,296.82 L424.20,296.82 L424.40,296.82 L424.40,296.82 L424.60,296.82 L424.60,296.83 L424.80,296.83 L424.80,296.83 L425.00,296.83 L425.00,296.83 L425.20,296.83 L425.20,296.84 L425.40,296.84 L425.40,296.84 L425.60,296.84 L425.60,296.84 L425.80,296.84 L425.80,296.85 L426.00,296.85 L426.00,296.85 L426.20,296.85 L426.20,296.85 L426.40,296.85 L426.40,296.86 L426.60,296.86 L426.60,296.86 L426.80,296.86 L426.80,296.86 L427.00,296.86 L427.00,296.87 L427.20,296.87 L427.20,296.87 L427.40,296.87 L427.40,296.87 L427.60,296.87 L427.60,296.88 L427.80,296.88 L427.80,296.88 L428.00,296.88 L428.00,296.88 L428.20,296.88 L428.20,296.89 L428.40,296.89 L428.40,296.89 L428.60,296.89 L428.60,296.89 L428.80,296.89 L428.80,296.90 L429.00,296.90 L429.00,296.90 L429.20,296.90 L429.20,296.90 L429.40,296.90 L429.40,296.91 L429.60,296.91 L429.60,296.91 L429.80,296.91 L429.80,296.91 L430.00,296.91 L430.00,296.92 L430.20,296.92 L430.20,296.92 L430.40,296.92 L430.40,296.92 L430.60,296.92 L430.60,296.93 L430.80,296.93 L430.80,296.93 L431.00,296.93 L431.00,296.93 L431.20,296.93 L431.20,296.94 L431.40,296.94 L431.40,296.94 L431.60,296.94 L431.60,296.94 L431.80,296.94 L431.80,296.95 L432.00,296.95 L432.00,296.95 L432.20,296.95 L432.20,296.95 L432.40,296.95 L432.40,296.96 L432.60,296.96 L432.60,296.96 L432.80,296.96 L432.80,296.96 L433.00,296.96 L433.00,296.97 L433.20,296.97 L433.20,296.97 L433.40,296.97 L433.40,296.97 L433.60,296.97 L433.60,296.98 L433.80,296.98 L433.80,296.98 L434.00,296.98 L434.00,296.98 L434.20,296.98 L434.20,296.99 L434.40,296.99 L434.40,296.99 L434.60,296.99 L434.60,296.99 L434.80,296.99 L434.80,297.00 L435.00,297.00 L435.00,297.00 L435.20,297.00 L435.20,297.00 L435.40,297.00 L435.40,297.01 L435.60,297.01 L435.60,297.01 L435.80,297.01 L435.80,297.01 L436.00,297.01 L436.00,297.02 L436.20,297.02 L436.20,297.02 L436.40,297.02 L436.40,297.02 L436.60,297.02 L436.60,297.03 L436.80,297.03 L436.80,297.03 L437.00,297.03 L437.00,297.03 L437.20,297.03 L437.20,297.04 L437.40,297.04 L437.40,297.04 L437.60,297.04 L437.60,297.04 L437.80,297.04 L437.80,297.05 L438.00,297.05 L438.00,297.05 L438.20,297.05 L438.20,297.05 L438.40,297.05 L438.40,297.06 L438.60,297.06 L438.60,297.06 L438.80,297.06 L438.80,297.06 L439.00,297.06 L439.00,297.07 L439.20,297.07 L439.20,297.07 L439.40,297.07 L439.40,297.07 L439.60,297.07 L439.60,297.07 L439.80,297.07 L439.80,297.08 L440.00,297.08 L440.00,297.08 L440.20,297.08 L440.20,297.08 L440.40,297.08 L440.40,297.09 L440.60,297.09 L440.60,297.09 L440.80,297.09 L440.80,297.09 L441.00,297.09 L441.00,297.10 L441.20,297.10 L441.20,297.10 L441.40,297.10 L441.40,297.10 L441.60,297.10 L441.60,297.11 L441.80,297.11 L441.80,297.11 L442.00,297.11 L442.00,297.11 L442.20,297.11 L442.20,297.12 L442.40,297.12 L442.40,297.12 L442.60,297.12 L442.60,297.12 L442.80,297.12 L442.80,297.13 L443.00,297.13 L443.00,297.13 L443.20,297.13 L443.20,297.13 L443.40,297.13 L443.40,297.14 L443.60,297.14 L443.60,297.14 L443.80,297.14 L443.80,297.14 L444.00,297.14 L444.00,297.15 L444.20,297.15 L444.20,297.15 L444.40,297.15 L444.40,297.15 L444.60,297.15 L444.60,297.16 L444.80,297.16 L444.80,297.16 L445.00,297.16 L445.00,297.16 L445.20,297.16 L445.20,297.17 L445.40,297.17 L445.40,297.17 L445.60,297.17 L445.60,297.17 L445.80,297.17 L445.80,297.18 L446.00,297.18 L446.00,297.18 L446.20,297.18 L446.20,297.18 L446.40,297.18 L446.40,297.19 L446.60,297.19 L446.60,297.19 L446.80,297.19 L446.80,297.19 L447.00,297.19 L447.00,297.20 L447.20,297.20 L447.20,297.20 L447.40,297.20 L447.40,297.20 L447.60,297.20 L447.60,297.21 L447.80,297.21 L447.80,297.21 L448.00,297.21 L448.00,297.21 L448.20,297.21 L448.20,297.22 L448.40,297.22 L448.40,297.22 L448.60,297.22 L448.60,297.22 L448.80,297.22 L448.80,297.23 L449.00,297.23 L449.00,297.23 L449.20,297.23 L449.20,297.23 L449.40,297.23 L449.40,297.24 L449.60,297.24 L449.60,297.24 L449.80,297.24 L449.80,297.24 L450.00,297.24 L450.00,297.25 L450.20,297.25 L450.20,297.25 L450.40,297.25 L450.40,297.25 L450.60,297.25 L450.60,297.26 L450.80,297.26 L450.80,297.26 L451.00,297.26 L451.00,297.26 L451.20,297.26 L451.20,297.27 L451.40,297.27 L451.40,297.27 L451.60,297.27 L451.60,297.27 L451.80,297.27 L451.80,297.28 L452.00,297.28 L452.00,297.28 L452.20,297.28 L452.20,297.28 L452.40,297.28 L452.40,297.29 L452.60,297.29 L452.60,297.29 L452.80,297.29 L452.80,297.29 L453.00,297.29 L453.00,297.30 L453.20,297.30 L453.20,297.30 L453.40,297.30 L453.40,297.30 L453.60,297.30 L453.60,297.31 L453.80,297.31 L453.80,297.31 L454.00,297.31 L454.00,297.31 L454.20,297.31 L454.20,297.32 L454.40,297.32 L454.40,297.32 L454.60,297.32 L454.60,297.32 L454.80,297.32 L454.80,297.33 L455.00,297.33 L455.00,297.33 L455.20,297.33 L455.20,297.33 L455.40,297.33 L455.40,297.34 L455.60,297.34 L455.60,297.34 L455.80,297.34 L455.80,297.34 L456.00,297.34 L456.00,297.35 L456.20,297.35 L456.20,297.35 L456.40,297.35 L456.40,297.35 L456.60,297.35 L456.60,297.36 L456.80,297.36 L456.80,297.36 L457.00,297.36 L457.00,297.36 L457.20,297.36 L457.20,297.37 L457.40,297.37 L457.40,297.37 L457.60,297.37 L457.60,297.37 L457.80,297.37 L457.80,297.38 L458.00,297.38 L458.00,297.38 L458.20,297.38 L458.20,297.38 L458.40,297.38 L458.40,297.39 L458.60,297.39 L458.60,297.39 L458.80,297.39 L458.80,297.39 L459.00,297.39 L459.00,297.40 L459.20,297.40 L459.20,297.40 L459.40,297.40 L459.40,297.40 L459.60,297.40 L459.60,297.41 L459.80,297.41 L459.80,297.41 L460.00,297.41 L460.00,297.43 L460.20,297.43 L460.20,297.48 L460.40,297.48 L460.40,297.53 L460.60,297.53 L460.60,297.57 L460.80,297.57 L460.80,297.62 L461.00,297.62 L461.00,297.66 L461.20,297.66 L461.20,297.71 L461.40,297.71 L461.40,297.76 L461.60,297.76 L461.60,297.80 L461.80,297.80 L461.80,297.85 L462.00,297.85 L462.00,297.90 L462.20,297.90 L462.20,297.94 L462.40,297.94 L462.40,297.99 L462.60,297.99 L462.60,298.03 L462.80,298.03 L462.80,298.08 L463.00,298.08 L463.00,298.13 L463.20,298.13 L463.20,298.17 L463.40,298.17 L463.40,298.22 L463.60,298.22 L463.60,298.26 L463.80,298.26 L463.80,298.31 L464.00,298.31 L464.00,298.36 L464.20,298.36 L464.20,298.40 L464.40,298.40 L464.40,298.45 L464.60,298.45 L464.60,298.50 L464.80,298.50 L464.80,298.54 L465.00,298.54 L465.00,298.59 L465.20,298.59 L465.20,298.63 L465.40,298.63 L465.40,298.68 L465.60,298.68 L465.60,298.73 L465.80,298.73 L465.80,298.77 L466.00,298.77 L466.00,298.82 L466.20,298.82 L466.20,298.87 L466.40,298.87 L466.40,298.91 L466.60,298.91 L466.60,298.96 L466.80,298.96 L466.80,299.00 L467.00,299.00 L467.00,299.05 L467.20,299.05 L467.20,299.10 L467.40,299.10 L467.40,299.14 L467.60,299.14 L467.60,299.19 L467.80,299.19 L467.80,299.23 L468.00,299.23 L468.00,299.28 L468.20,299.28 L468.20,299.33 L468.40,299.33 L468.40,299.37 L468.60,299.37 L468.60,299.42 L468.80,299.42 L468.80,299.47 L469.00,299.47 L469.00,299.51 L469.20,299.51 L469.20,299.56 L469.40,299.56 L469.40,299.60 L469.60,299.60 L469.60,299.65 L469.80,299.65 L469.80,299.70 L470.00,299.70 L470.00,299.78 L470.20,299.78 L470.20,299.90 L470.40,299.90 L470.40,300.03 L470.60,300.03 L470.60,300.15 L470.80,300.15 L470.80,300.27 L471.00,300.27 L471.00,300.40 L471.20,300.40 L471.20,300.52 L471.40,300.52 L471.40,300.64 L471.60,300.64 L471.60,300.77 L471.80,300.77 L471.80,300.89 L472.00,300.89 L472.00,301.01 L472.20,301.01 L472.20,301.14 L472.40,301.14 L472.40,301.26 L472.60,301.26 L472.60,301.38 L472.80,301.38 L472.80,301.51 L473.00,301.51 L473.00,301.63 L473.20,301.63 L473.20,301.75 L473.40,301.75 L473.40,301.88 L473.60,301.88 L473.60,302.00 L473.80,302.00 L473.80,302.12 L474.00,302.12 L474.00,302.25 L474.20,302.25 L474.20,302.37 L474.40,302.37 L474.40,302.49 L474.60,302.49 L474.60,302.62 L474.80,302.62 L474.80,302.74 L475.00,302.74 L475.00,302.99 L475.20,302.99 L475.20,303.38 L475.40,303.38 L475.40,303.76 L475.60,303.76 L475.60,304.15 L475.80,304.15 L475.80,304.53 L476.00,304.53 L476.00,304.92 L476.20,304.92 L476.20,305.30 L476.40,305.30 L476.40,305.69 L476.60,305.69 L476.60,306.07 L476.80,306.07 L476.80,306.46 L477.00,306.46 L477.00,306.84 L477.20,306.84 L477.20,307.23 L477.40,307.23 L477.40,307.61 L477.60,307.61 L477.60,308.00 L477.80,308.00 L477.80,308.38 L478.00,308.38 L478.00,308.77 L478.20,308.77 L478.20,309.15 L478.40,309.15 L478.40,309.54 L478.60,309.54 L478.60,309.92 L478.80,309.92 L478.80,291.25 Z" fill="#506586"/>
<rect x="54.40" y="250.50" width="12.20" height="44.30" fill="none" stroke="#949494" stroke-width="1.25"/>
<line x1="56.85" y1="210.60" x2="56.85" y2="368.85" stroke="#141414" stroke-width="1.4" />
<line x1="56.50" y1="291.25" x2="481.00" y2="291.25" stroke="#141414" stroke-width="1.1" />
<line x1="56.50" y1="368.25" x2="481.00" y2="368.25" stroke="#141414" stroke-width="1.1" />
<line x1="53.20" y1="214.25" x2="57.00" y2="214.25" stroke="#141414" stroke-width="1" />
<text x="49.70" y="217.15" font-size="8.5" fill="#1e1e1e" stroke="#1e1e1e" stroke-width="0.08" text-anchor="end" textLength="10.80" lengthAdjust="spacingAndGlyphs" >100</text>
<line x1="53.20" y1="252.75" x2="57.00" y2="252.75" stroke="#141414" stroke-width="1" />
<text x="49.70" y="255.65" font-size="8.5" fill="#1e1e1e" stroke="#1e1e1e" stroke-width="0.08" text-anchor="end" textLength="7.30" lengthAdjust="spacingAndGlyphs" >50</text>
<line x1="53.20" y1="291.25" x2="57.00" y2="291.25" stroke="#141414" stroke-width="1" />
<text x="49.70" y="294.15" font-size="8.5" fill="#1e1e1e" stroke="#1e1e1e" stroke-width="0.08" text-anchor="end" textLength="3.60" lengthAdjust="spacingAndGlyphs" >0</text>
<line x1="53.20" y1="329.75" x2="57.00" y2="329.75" stroke="#141414" stroke-width="1" />
<text x="49.70" y="332.65" font-size="8.5" fill="#1e1e1e" stroke="#1e1e1e" stroke-width="0.08" text-anchor="end" textLength="7.30" lengthAdjust="spacingAndGlyphs" >50</text>
<line x1="53.20" y1="368.25" x2="57.00" y2="368.25" stroke="#141414" stroke-width="1" />
<text x="49.70" y="371.15" font-size="8.5" fill="#1e1e1e" stroke="#1e1e1e" stroke-width="0.08" text-anchor="end" textLength="10.80" lengthAdjust="spacingAndGlyphs" >100</text>
<rect x="366.40" y="215.20" width="53.90" height="66.40" fill="white" stroke="none"/>
<line x1="366.40" y1="215.20" x2="420.30" y2="215.20" stroke="#8a8a8a" stroke-width="1.0" stroke-dasharray="3 2.2"/>
<line x1="420.30" y1="215.20" x2="420.30" y2="281.60" stroke="#8a8a8a" stroke-width="1.0" stroke-dasharray="3 2.2"/>
<line x1="366.40" y1="281.60" x2="420.30" y2="281.60" stroke="#8a8a8a" stroke-width="1.0" stroke-dasharray="3 2.2"/>
<line x1="366.40" y1="215.20" x2="366.40" y2="281.60" stroke="#8a8a8a" stroke-width="1.0" stroke-dasharray="3 2.2"/>
<path d="M386.30,278.10 L386.30,224.05 L387.60,224.05 L387.60,233.12 L388.70,233.12 L388.70,242.19 L392.50,242.19 L392.50,251.07 L406.80,251.07 L406.80,260.15 L415.00,260.15 L415.00,278.10 Z" fill="#9d3545"/>
<line x1="386.30" y1="217.80" x2="386.30" y2="278.60" stroke="#141414" stroke-width="1.1" />
<line x1="385.80" y1="278.10" x2="415.50" y2="278.10" stroke="#141414" stroke-width="1.1" />
<line x1="382.60" y1="221.40" x2="386.30" y2="221.40" stroke="#141414" stroke-width="0.9" />
<text x="379.00" y="223.85" font-size="7.1" fill="#1e1e1e" stroke="#1e1e1e" stroke-width="0.08" text-anchor="end" textLength="6.50" lengthAdjust="spacingAndGlyphs" >30</text>
<line x1="382.60" y1="240.30" x2="386.30" y2="240.30" stroke="#141414" stroke-width="0.9" />
<text x="379.00" y="242.75" font-size="7.1" fill="#1e1e1e" stroke="#1e1e1e" stroke-width="0.08" text-anchor="end" textLength="6.50" lengthAdjust="spacingAndGlyphs" >20</text>
<line x1="382.60" y1="259.20" x2="386.30" y2="259.20" stroke="#141414" stroke-width="0.9" />
<text x="379.00" y="261.65" font-size="7.1" fill="#1e1e1e" stroke="#1e1e1e" stroke-width="0.08" text-anchor="end" textLength="6.50" lengthAdjust="spacingAndGlyphs" >10</text>
<line x1="382.60" y1="278.10" x2="386.30" y2="278.10" stroke="#141414" stroke-width="0.9" />
<text x="379.00" y="280.55" font-size="7.1" fill="#1e1e1e" stroke="#1e1e1e" stroke-width="0.08" text-anchor="end" textLength="3.30" lengthAdjust="spacingAndGlyphs" >0</text>
<text x="8.30" y="206.80" font-size="12.8" fill="#111" >C</text>
<text x="30.60" y="286.00" font-size="10.2" fill="#1e1e1e" stroke="#1e1e1e" stroke-width="0.08" text-anchor="middle" textLength="150.00" lengthAdjust="spacingAndGlyphs" transform="rotate(-90 30.60 286.00)" >Frequency of positive ligandomes [%]</text>
<text x="270.80" y="379.60" font-size="8.6" fill="#1e1e1e" stroke="#1e1e1e" stroke-width="0.08" text-anchor="middle" textLength="92.30" lengthAdjust="spacingAndGlyphs" >HLA class I ligands (n = 8&#8201;571)</text>
<rect x="365.80" y="349.30" width="4.20" height="4.20" fill="#9d3545" />
<rect x="365.80" y="360.30" width="4.20" height="4.20" fill="#506586" />
<text x="373.80" y="353.50" font-size="6.6" fill="#222" stroke="#222" stroke-width="0.08" textLength="33.30" lengthAdjust="spacingAndGlyphs" >CML (n = 21)</text>
<text x="373.80" y="364.50" font-size="6.6" fill="#222" stroke="#222" stroke-width="0.08" textLength="82.40" lengthAdjust="spacingAndGlyphs" >hematological benign (n = 108)</text>
<polygon points="66.90,445.90 193.50,425.10 193.50,478.10 66.90,499.00" fill="#c9c5c9"/>
<line x1="66.90" y1="445.90" x2="193.50" y2="425.10" stroke="#7d7d7d" stroke-width="0.9" stroke-dasharray="2.6 2"/>
<line x1="66.90" y1="499.00" x2="193.50" y2="478.10" stroke="#a0a0a0" stroke-width="0.9" stroke-dasharray="2.6 2"/>
<path d="M57.00,495.50 L57.00,489.00 L57.60,489.00 L57.60,463.00 L59.00,463.00 L59.00,482.50 L61.40,482.50 L61.40,489.00 L83.00,489.00 L83.00,456.50 L83.40,456.50 L83.40,430.50 L84.80,430.50 L84.80,479.25 L86.00,479.25 L86.00,443.50 L87.20,443.50 L87.20,437.00 L88.60,437.00 L88.60,463.00 L89.20,463.00 L89.20,476.00 L90.00,476.00 L90.00,482.50 L90.80,482.50 L90.80,489.00 L100.20,489.00 L100.20,450.00 L101.60,450.00 L101.60,443.50 L102.80,443.50 L102.80,437.00 L106.80,437.00 L106.80,456.50 L107.20,456.50 L107.20,469.50 L108.00,469.50 L108.00,482.50 L109.00,482.50 L109.00,489.00 L114.20,489.00 L114.20,437.00 L116.20,437.00 L116.20,472.75 L117.60,472.75 L117.60,437.00 L119.00,437.00 L119.00,443.50 L120.00,443.50 L120.00,430.50 L121.00,430.50 L121.00,456.50 L121.60,456.50 L121.60,469.50 L122.20,469.50 L122.20,482.50 L123.00,482.50 L123.00,489.00 L126.40,489.00 L126.40,430.50 L128.20,430.50 L128.20,437.00 L130.00,437.00 L130.00,469.50 L131.20,469.50 L131.20,430.50 L133.00,430.50 L133.00,450.00 L133.60,450.00 L133.60,469.50 L134.40,469.50 L134.40,482.50 L135.20,482.50 L135.20,489.00 L136.80,489.00 L136.80,437.00 L139.00,437.00 L139.00,443.50 L139.80,443.50 L139.80,437.00 L141.60,437.00 L141.60,456.50 L142.20,456.50 L142.20,469.50 L143.00,469.50 L143.00,482.50 L143.80,482.50 L143.80,489.00 L146.00,489.00 L146.00,443.50 L147.20,443.50 L147.20,450.00 L149.00,450.00 L149.00,469.50 L149.80,469.50 L149.80,482.50 L150.80,482.50 L150.80,489.00 L151.00,489.00 L151.00,456.50 L152.20,456.50 L152.20,469.50 L153.00,469.50 L153.00,482.50 L154.00,482.50 L154.00,489.00 L155.40,489.00 L155.40,469.50 L156.60,469.50 L156.60,476.00 L159.40,476.00 L159.40,482.50 L163.80,482.50 L163.80,489.00 L167.90,489.00 L167.90,495.50 Z" fill="#9d3545"/>
<path d="M83.00,495.50 L83.00,500.02 L83.20,500.02 L83.20,499.96 L83.40,499.96 L83.40,499.90 L83.60,499.90 L83.60,499.84 L83.80,499.84 L83.80,499.78 L84.00,499.78 L84.00,500.21 L84.20,500.21 L84.20,500.36 L84.40,500.36 L84.40,500.29 L84.60,500.29 L84.60,500.43 L84.80,500.43 L84.80,500.45 L85.00,500.45 L85.00,500.59 L85.20,500.59 L85.20,500.02 L85.40,500.02 L85.40,500.19 L85.60,500.19 L85.60,504.04 L85.80,504.04 L85.80,504.34 L86.00,504.34 L86.00,504.64 L86.20,504.64 L86.20,504.93 L86.40,504.93 L86.40,504.62 L86.60,504.62 L86.60,504.90 L86.80,504.90 L86.80,501.46 L87.00,501.46 L87.00,501.63 L87.20,501.63 L87.20,506.42 L87.40,506.42 L87.40,506.72 L87.60,506.72 L87.60,507.01 L87.80,507.01 L87.80,507.31 L88.00,507.31 L88.00,506.91 L88.20,506.91 L88.20,507.19 L88.40,507.19 L88.40,502.95 L88.60,502.95 L88.60,498.35 L88.80,498.35 L88.80,499.40 L89.60,499.40 L89.60,499.19 L90.00,499.19 L90.00,499.10 L90.40,499.10 L90.40,499.40 L91.20,499.40 L91.20,499.21 L91.60,499.21 L91.60,497.45 L100.00,497.45 L100.00,510.08 L100.20,510.08 L100.20,510.38 L100.40,510.38 L100.40,504.56 L100.60,504.56 L100.60,504.74 L100.80,504.74 L100.80,512.56 L101.00,512.56 L101.00,512.89 L101.20,512.89 L101.20,512.39 L101.40,512.39 L101.40,512.70 L101.60,512.70 L101.60,512.57 L101.80,512.57 L101.80,512.87 L102.00,512.87 L102.00,506.17 L102.20,506.17 L102.20,506.35 L102.40,506.35 L102.40,515.16 L102.60,515.16 L102.60,515.49 L102.80,515.49 L102.80,514.95 L103.00,514.95 L103.00,515.26 L103.20,515.26 L103.20,515.07 L103.40,515.07 L103.40,515.38 L103.60,515.38 L103.60,507.81 L103.80,507.81 L103.80,508.00 L104.00,508.00 L104.00,517.76 L104.20,517.76 L104.20,518.09 L104.40,518.09 L104.40,518.41 L104.60,518.41 L104.60,518.74 L104.80,518.74 L104.80,517.61 L105.00,517.61 L105.00,517.91 L105.20,517.91 L105.20,509.51 L105.40,509.51 L105.40,509.70 L105.60,509.70 L105.60,520.36 L105.80,520.36 L105.80,520.69 L106.00,520.69 L106.00,504.45 L106.20,504.45 L106.20,504.15 L106.40,504.15 L106.40,503.37 L106.60,503.37 L106.60,503.09 L106.80,503.09 L106.80,500.05 L107.00,500.05 L107.00,499.88 L107.20,499.88 L107.20,502.65 L107.40,502.65 L107.40,502.35 L107.60,502.35 L107.60,502.05 L107.80,502.05 L107.80,501.75 L108.00,501.75 L108.00,501.13 L108.20,501.13 L108.20,500.85 L108.40,500.85 L108.40,500.44 L108.60,500.44 L108.60,498.10 L114.20,498.10 L114.20,525.40 L114.40,525.40 L114.40,525.65 L114.60,525.65 L114.60,525.90 L114.80,525.90 L114.80,524.33 L115.00,524.33 L115.00,524.56 L115.20,524.56 L115.20,513.67 L115.40,513.67 L115.40,513.82 L115.60,513.82 L115.60,527.13 L115.80,527.13 L115.80,527.38 L116.00,527.38 L116.00,527.63 L116.20,527.63 L116.20,527.88 L116.40,527.88 L116.40,514.40 L116.60,514.40 L116.60,515.35 L116.80,515.35 L116.80,508.54 L117.00,508.54 L117.00,509.13 L117.20,509.13 L117.20,519.52 L117.40,519.52 L117.40,520.53 L117.60,520.53 L117.60,521.53 L117.80,521.53 L117.80,522.53 L118.00,522.53 L118.00,522.12 L118.20,522.12 L118.20,523.08 L118.40,523.08 L118.40,523.31 L118.60,523.31 L118.60,531.71 L118.80,531.71 L118.80,517.28 L119.00,517.28 L119.00,517.41 L119.20,517.41 L119.20,535.33 L119.40,535.33 L119.40,535.56 L119.60,535.56 L119.60,533.94 L119.80,533.94 L119.80,534.17 L120.00,534.17 L120.00,533.42 L120.20,533.42 L120.20,533.64 L120.40,533.64 L120.40,518.69 L120.60,518.69 L120.60,518.82 L120.80,518.82 L120.80,537.22 L121.00,537.22 L121.00,537.45 L121.20,537.45 L121.20,535.93 L121.40,535.93 L121.40,536.16 L121.60,536.16 L121.60,535.36 L121.80,535.36 L121.80,500.38 L126.20,500.38 L126.20,539.70 L126.40,539.70 L126.40,537.71 L126.60,537.71 L126.60,538.05 L126.80,538.05 L126.80,537.30 L127.00,537.30 L127.00,537.62 L127.20,537.62 L127.20,541.45 L127.40,541.45 L127.40,541.80 L127.60,541.80 L127.60,542.14 L127.80,542.14 L127.80,542.49 L128.00,542.49 L128.00,540.57 L128.20,540.57 L128.20,540.90 L128.40,540.90 L128.40,540.09 L128.60,540.09 L128.60,540.41 L128.80,540.41 L128.80,522.72 L129.00,522.72 L129.00,522.91 L129.20,522.91 L129.20,544.94 L129.40,544.94 L129.40,545.29 L129.60,545.29 L129.60,543.45 L129.80,543.45 L129.80,543.79 L130.00,543.79 L130.00,542.90 L130.20,542.90 L130.20,543.23 L130.40,543.23 L130.40,524.73 L130.60,524.73 L130.60,524.93 L130.80,524.93 L130.80,547.73 L131.00,547.73 L131.00,548.08 L131.20,548.08 L131.20,548.43 L131.40,548.43 L131.40,548.78 L131.60,548.78 L131.60,545.75 L131.80,545.75 L131.80,546.07 L132.00,546.07 L132.00,526.79 L132.20,526.79 L132.20,526.99 L132.40,526.99 L132.40,550.53 L132.60,550.53 L132.60,550.88 L132.80,550.88 L132.80,551.23 L133.00,551.23 L133.00,500.38 L136.80,500.38 L136.80,544.95 L137.00,544.95 L137.00,545.13 L137.20,545.13 L137.20,525.32 L137.40,525.32 L137.40,525.43 L137.60,525.43 L137.60,549.65 L137.80,549.65 L137.80,549.84 L138.00,549.84 L138.00,547.55 L138.20,547.55 L138.20,547.73 L138.40,547.73 L138.40,546.59 L138.60,546.59 L138.60,546.77 L138.80,546.77 L138.80,526.65 L139.00,526.65 L139.00,526.75 L139.20,526.75 L139.20,551.16 L139.40,551.16 L139.40,551.35 L139.60,551.35 L139.60,549.23 L139.80,549.23 L139.80,549.41 L140.00,549.41 L140.00,548.25 L140.20,548.25 L140.20,548.42 L140.40,548.42 L140.40,528.00 L140.60,528.00 L140.60,528.10 L140.80,528.10 L140.80,552.67 L141.00,552.67 L141.00,552.86 L141.20,552.86 L141.20,553.05 L141.40,553.05 L141.40,553.23 L141.60,553.23 L141.60,549.91 L141.80,549.91 L141.80,550.09 L142.00,550.09 L142.00,529.37 L142.20,529.37 L142.20,529.48 L142.40,529.48 L142.40,554.18 L142.60,554.18 L142.60,554.37 L142.80,554.37 L142.80,554.56 L143.00,554.56 L143.00,500.38 L145.60,500.38 L145.60,526.06 L145.80,526.06 L145.80,526.19 L146.00,526.19 L146.00,551.46 L146.20,551.46 L146.20,551.70 L146.40,551.70 L146.40,549.26 L146.60,549.26 L146.60,549.48 L146.80,549.48 L146.80,548.35 L147.00,548.35 L147.00,548.57 L147.20,548.57 L147.20,527.61 L147.40,527.61 L147.40,527.74 L147.60,527.74 L147.60,553.35 L147.80,553.35 L147.80,553.59 L148.00,553.59 L148.00,551.31 L148.20,551.31 L148.20,551.54 L148.40,551.54 L148.40,550.36 L148.60,550.36 L148.60,550.58 L148.80,550.58 L148.80,500.38 L150.80,500.38 L150.80,544.39 L151.00,544.39 L151.00,544.66 L151.20,544.66 L151.20,544.93 L151.40,544.93 L151.40,545.21 L151.60,545.21 L151.60,542.58 L151.80,542.58 L151.80,542.84 L152.00,542.84 L152.00,525.11 L152.20,525.11 L152.20,525.27 L152.40,525.27 L152.40,546.58 L152.60,546.58 L152.60,546.85 L152.80,546.85 L152.80,500.38 L154.60,500.38 L154.60,538.54 L154.80,538.54 L154.80,536.68 L155.00,536.68 L155.00,536.94 L155.20,536.94 L155.20,536.15 L155.40,536.15 L155.40,536.40 L155.60,536.40 L155.60,520.18 L155.80,520.18 L155.80,520.33 L156.00,520.33 L156.00,540.45 L156.20,540.45 L156.20,540.73 L156.40,540.73 L156.40,538.96 L156.60,538.96 L156.60,529.94 L156.80,529.94 L156.80,529.37 L157.00,529.37 L157.00,529.67 L157.20,529.67 L157.20,516.39 L157.40,516.39 L157.40,516.57 L157.60,516.57 L157.60,533.13 L157.80,533.13 L157.80,533.45 L158.00,533.45 L158.00,532.21 L158.20,532.21 L158.20,532.51 L158.40,532.51 L158.40,531.88 L158.60,531.88 L158.60,532.18 L158.80,532.18 L158.80,518.16 L159.00,518.16 L159.00,518.34 L159.20,518.34 L159.20,535.64 L159.40,535.64 L159.40,500.38 L161.00,500.38 L161.00,531.45 L161.20,531.45 L161.20,531.64 L161.40,531.64 L161.40,531.84 L161.60,531.84 L161.60,530.01 L161.80,530.01 L161.80,530.19 L162.00,530.19 L162.00,517.33 L162.20,517.33 L162.20,517.44 L162.40,517.44 L162.40,532.83 L162.60,532.83 L162.60,533.02 L162.80,533.02 L162.80,533.22 L163.00,533.22 L163.00,533.42 L163.20,533.42 L163.20,531.66 L163.40,531.66 L163.40,531.85 L163.60,531.85 L163.60,531.12 L163.80,531.12 L163.80,531.30 L164.00,531.30 L164.00,516.97 L164.20,516.97 L164.20,500.38 L166.20,500.38 L166.20,533.34 L166.40,533.34 L166.40,532.00 L166.60,532.00 L166.60,532.27 L166.80,532.27 L166.80,531.61 L167.00,531.61 L167.00,531.87 L167.20,531.87 L167.20,517.85 L167.40,517.85 L167.40,518.01 L167.60,518.01 L167.60,500.38 L168.00,500.38 L168.00,500.70 L168.20,500.70 L168.20,500.71 L168.40,500.71 L168.40,500.72 L168.60,500.72 L168.60,500.72 L168.80,500.72 L168.80,500.73 L169.00,500.73 L169.00,500.74 L169.20,500.74 L169.20,500.74 L169.40,500.74 L169.40,500.75 L169.60,500.75 L169.60,500.75 L169.80,500.75 L169.80,500.76 L170.00,500.76 L170.00,500.77 L170.20,500.77 L170.20,500.77 L170.40,500.77 L170.40,500.78 L170.60,500.78 L170.60,500.79 L170.80,500.79 L170.80,500.79 L171.00,500.79 L171.00,500.80 L171.20,500.80 L171.20,500.81 L171.40,500.81 L171.40,500.81 L171.60,500.81 L171.60,500.82 L171.80,500.82 L171.80,500.83 L172.00,500.83 L172.00,500.83 L172.20,500.83 L172.20,500.84 L172.40,500.84 L172.40,500.85 L172.60,500.85 L172.60,500.85 L172.80,500.85 L172.80,500.86 L173.00,500.86 L173.00,500.87 L173.20,500.87 L173.20,500.87 L173.40,500.87 L173.40,500.88 L173.60,500.88 L173.60,500.88 L173.80,500.88 L173.80,500.89 L174.00,500.89 L174.00,500.90 L174.20,500.90 L174.20,500.90 L174.40,500.90 L174.40,500.91 L174.60,500.91 L174.60,500.92 L174.80,500.92 L174.80,500.92 L175.00,500.92 L175.00,500.93 L175.20,500.93 L175.20,500.94 L175.40,500.94 L175.40,500.94 L175.60,500.94 L175.60,500.95 L175.80,500.95 L175.80,500.96 L176.00,500.96 L176.00,500.96 L176.20,500.96 L176.20,500.97 L176.40,500.97 L176.40,500.98 L176.60,500.98 L176.60,500.98 L176.80,500.98 L176.80,500.99 L177.00,500.99 L177.00,501.00 L177.20,501.00 L177.20,501.00 L177.40,501.00 L177.40,501.01 L177.60,501.01 L177.60,501.02 L177.80,501.02 L177.80,501.02 L178.00,501.02 L178.00,501.03 L178.20,501.03 L178.20,501.03 L178.40,501.03 L178.40,501.04 L178.60,501.04 L178.60,501.05 L178.80,501.05 L178.80,501.05 L179.00,501.05 L179.00,501.06 L179.20,501.06 L179.20,501.07 L179.40,501.07 L179.40,501.07 L179.60,501.07 L179.60,501.08 L179.80,501.08 L179.80,501.09 L180.00,501.09 L180.00,501.09 L180.20,501.09 L180.20,501.10 L180.40,501.10 L180.40,501.11 L180.60,501.11 L180.60,501.11 L180.80,501.11 L180.80,501.12 L181.00,501.12 L181.00,501.13 L181.20,501.13 L181.20,501.13 L181.40,501.13 L181.40,501.14 L181.60,501.14 L181.60,501.15 L181.80,501.15 L181.80,501.15 L182.00,501.15 L182.00,501.16 L182.20,501.16 L182.20,501.16 L182.40,501.16 L182.40,501.17 L182.60,501.17 L182.60,501.18 L182.80,501.18 L182.80,501.18 L183.00,501.18 L183.00,501.19 L183.20,501.19 L183.20,501.20 L183.40,501.20 L183.40,501.20 L183.60,501.20 L183.60,501.21 L183.80,501.21 L183.80,501.22 L184.00,501.22 L184.00,501.22 L184.20,501.22 L184.20,501.23 L184.40,501.23 L184.40,501.24 L184.60,501.24 L184.60,501.24 L184.80,501.24 L184.80,501.25 L185.00,501.25 L185.00,501.26 L185.20,501.26 L185.20,501.26 L185.40,501.26 L185.40,501.27 L185.60,501.27 L185.60,501.28 L185.80,501.28 L185.80,501.28 L186.00,501.28 L186.00,501.29 L186.20,501.29 L186.20,501.29 L186.40,501.29 L186.40,501.30 L186.60,501.30 L186.60,501.31 L186.80,501.31 L186.80,501.31 L187.00,501.31 L187.00,501.32 L187.20,501.32 L187.20,501.33 L187.40,501.33 L187.40,501.33 L187.60,501.33 L187.60,501.34 L187.80,501.34 L187.80,501.35 L188.00,501.35 L188.00,501.35 L188.20,501.35 L188.20,501.36 L188.40,501.36 L188.40,501.37 L188.60,501.37 L188.60,501.37 L188.80,501.37 L188.80,501.38 L189.00,501.38 L189.00,501.39 L189.20,501.39 L189.20,501.39 L189.40,501.39 L189.40,501.40 L189.60,501.40 L189.60,501.41 L189.80,501.41 L189.80,501.41 L190.00,501.41 L190.00,501.42 L190.20,501.42 L190.20,501.42 L190.40,501.42 L190.40,501.43 L190.60,501.43 L190.60,501.44 L190.80,501.44 L190.80,501.44 L191.00,501.44 L191.00,501.45 L191.20,501.45 L191.20,501.46 L191.40,501.46 L191.40,501.46 L191.60,501.46 L191.60,501.47 L191.80,501.47 L191.80,501.48 L192.00,501.48 L192.00,501.48 L192.20,501.48 L192.20,501.49 L192.40,501.49 L192.40,501.50 L192.60,501.50 L192.60,501.50 L192.80,501.50 L192.80,501.51 L193.00,501.51 L193.00,501.52 L193.20,501.52 L193.20,501.52 L193.40,501.52 L193.40,501.53 L193.60,501.53 L193.60,501.54 L193.80,501.54 L193.80,501.54 L194.00,501.54 L194.00,501.55 L194.20,501.55 L194.20,501.55 L194.40,501.55 L194.40,501.56 L194.60,501.56 L194.60,501.57 L194.80,501.57 L194.80,501.57 L195.00,501.57 L195.00,501.58 L195.20,501.58 L195.20,501.59 L195.40,501.59 L195.40,501.59 L195.60,501.59 L195.60,501.60 L195.80,501.60 L195.80,501.61 L196.00,501.61 L196.00,501.61 L196.20,501.61 L196.20,501.62 L196.40,501.62 L196.40,501.63 L196.60,501.63 L196.60,501.63 L196.80,501.63 L196.80,501.64 L197.00,501.64 L197.00,501.65 L197.20,501.65 L197.20,501.65 L197.40,501.65 L197.40,501.66 L197.60,501.66 L197.60,501.67 L197.80,501.67 L197.80,501.67 L198.00,501.67 L198.00,501.68 L198.20,501.68 L198.20,501.68 L198.40,501.68 L198.40,501.69 L198.60,501.69 L198.60,501.70 L198.80,501.70 L198.80,501.70 L199.00,501.70 L199.00,501.71 L199.20,501.71 L199.20,501.72 L199.40,501.72 L199.40,501.72 L199.60,501.72 L199.60,501.73 L199.80,501.73 L199.80,501.74 L200.00,501.74 L200.00,501.74 L200.20,501.74 L200.20,501.75 L200.40,501.75 L200.40,501.76 L200.60,501.76 L200.60,501.76 L200.80,501.76 L200.80,501.77 L201.00,501.77 L201.00,501.78 L201.20,501.78 L201.20,501.78 L201.40,501.78 L201.40,501.79 L201.60,501.79 L201.60,501.80 L201.80,501.80 L201.80,501.80 L202.00,501.80 L202.00,501.81 L202.20,501.81 L202.20,501.81 L202.40,501.81 L202.40,501.82 L202.60,501.82 L202.60,501.83 L202.80,501.83 L202.80,501.83 L203.00,501.83 L203.00,501.84 L203.20,501.84 L203.20,501.85 L203.40,501.85 L203.40,501.85 L203.60,501.85 L203.60,501.86 L203.80,501.86 L203.80,501.87 L204.00,501.87 L204.00,501.87 L204.20,501.87 L204.20,501.88 L204.40,501.88 L204.40,501.89 L204.60,501.89 L204.60,501.89 L204.80,501.89 L204.80,501.90 L205.00,501.90 L205.00,501.91 L205.20,501.91 L205.20,501.91 L205.40,501.91 L205.40,501.92 L205.60,501.92 L205.60,501.93 L205.80,501.93 L205.80,501.93 L206.00,501.93 L206.00,501.94 L206.20,501.94 L206.20,501.94 L206.40,501.94 L206.40,501.95 L206.60,501.95 L206.60,501.96 L206.80,501.96 L206.80,501.96 L207.00,501.96 L207.00,501.97 L207.20,501.97 L207.20,501.98 L207.40,501.98 L207.40,501.98 L207.60,501.98 L207.60,501.99 L207.80,501.99 L207.80,502.00 L208.00,502.00 L208.00,502.01 L208.20,502.01 L208.20,502.03 L208.40,502.03 L208.40,502.04 L208.60,502.04 L208.60,502.06 L208.80,502.06 L208.80,502.08 L209.00,502.08 L209.00,502.09 L209.20,502.09 L209.20,502.11 L209.40,502.11 L209.40,502.13 L209.60,502.13 L209.60,502.14 L209.80,502.14 L209.80,502.16 L210.00,502.16 L210.00,502.18 L210.20,502.18 L210.20,502.19 L210.40,502.19 L210.40,502.21 L210.60,502.21 L210.60,502.23 L210.80,502.23 L210.80,502.24 L211.00,502.24 L211.00,502.26 L211.20,502.26 L211.20,502.28 L211.40,502.28 L211.40,502.29 L211.60,502.29 L211.60,502.31 L211.80,502.31 L211.80,502.33 L212.00,502.33 L212.00,502.34 L212.20,502.34 L212.20,502.36 L212.40,502.36 L212.40,502.38 L212.60,502.38 L212.60,502.39 L212.80,502.39 L212.80,502.41 L213.00,502.41 L213.00,502.43 L213.20,502.43 L213.20,502.44 L213.40,502.44 L213.40,502.46 L213.60,502.46 L213.60,502.48 L213.80,502.48 L213.80,502.49 L214.00,502.49 L214.00,502.51 L214.20,502.51 L214.20,502.53 L214.40,502.53 L214.40,502.55 L214.60,502.55 L214.60,502.56 L214.80,502.56 L214.80,502.58 L215.00,502.58 L215.00,502.60 L215.20,502.60 L215.20,502.61 L215.40,502.61 L215.40,502.63 L215.60,502.63 L215.60,502.65 L215.80,502.65 L215.80,502.66 L216.00,502.66 L216.00,502.68 L216.20,502.68 L216.20,502.70 L216.40,502.70 L216.40,502.71 L216.60,502.71 L216.60,502.73 L216.80,502.73 L216.80,502.75 L217.00,502.75 L217.00,502.76 L217.20,502.76 L217.20,502.78 L217.40,502.78 L217.40,502.80 L217.60,502.80 L217.60,502.81 L217.80,502.81 L217.80,502.83 L218.00,502.83 L218.00,502.85 L218.20,502.85 L218.20,502.86 L218.40,502.86 L218.40,502.88 L218.60,502.88 L218.60,502.90 L218.80,502.90 L218.80,502.91 L219.00,502.91 L219.00,502.93 L219.20,502.93 L219.20,502.95 L219.40,502.95 L219.40,502.96 L219.60,502.96 L219.60,502.98 L219.80,502.98 L219.80,503.00 L220.00,503.00 L220.00,503.01 L220.20,503.01 L220.20,503.03 L220.40,503.03 L220.40,503.05 L220.60,503.05 L220.60,503.07 L220.80,503.07 L220.80,503.08 L221.00,503.08 L221.00,503.10 L221.20,503.10 L221.20,503.12 L221.40,503.12 L221.40,503.13 L221.60,503.13 L221.60,503.15 L221.80,503.15 L221.80,503.17 L222.00,503.17 L222.00,503.18 L222.20,503.18 L222.20,503.20 L222.40,503.20 L222.40,503.22 L222.60,503.22 L222.60,503.23 L222.80,503.23 L222.80,503.25 L223.00,503.25 L223.00,503.27 L223.20,503.27 L223.20,503.28 L223.40,503.28 L223.40,503.30 L223.60,503.30 L223.60,503.40 L223.80,503.40 L223.80,503.49 L224.00,503.49 L224.00,503.59 L224.20,503.59 L224.20,503.68 L224.40,503.68 L224.40,503.78 L224.60,503.78 L224.60,503.87 L224.80,503.87 L224.80,503.97 L225.00,503.97 L225.00,504.06 L225.20,504.06 L225.20,504.16 L225.40,504.16 L225.40,504.25 L225.60,504.25 L225.60,504.35 L225.80,504.35 L225.80,504.44 L226.00,504.44 L226.00,504.54 L226.20,504.54 L226.20,504.63 L226.40,504.63 L226.40,504.73 L226.60,504.73 L226.60,504.83 L226.80,504.83 L226.80,504.92 L227.00,504.92 L227.00,505.02 L227.20,505.02 L227.20,505.11 L227.40,505.11 L227.40,505.21 L227.60,505.21 L227.60,505.30 L227.80,505.30 L227.80,505.40 L228.00,505.40 L228.00,505.49 L228.20,505.49 L228.20,505.59 L228.40,505.59 L228.40,505.68 L228.60,505.68 L228.60,505.78 L228.80,505.78 L228.80,505.87 L229.00,505.87 L229.00,505.97 L229.20,505.97 L229.20,506.06 L229.40,506.06 L229.40,506.16 L229.60,506.16 L229.60,506.26 L229.80,506.26 L229.80,506.35 L230.00,506.35 L230.00,506.45 L230.20,506.45 L230.20,506.54 L230.40,506.54 L230.40,506.64 L230.60,506.64 L230.60,506.73 L230.80,506.73 L230.80,506.83 L231.00,506.83 L231.00,507.08 L231.20,507.08 L231.20,507.49 L231.40,507.49 L231.40,507.90 L231.60,507.90 L231.60,508.32 L231.80,508.32 L231.80,508.73 L232.00,508.73 L232.00,509.14 L232.20,509.14 L232.20,509.55 L232.40,509.55 L232.40,509.96 L232.60,509.96 L232.60,510.37 L232.80,510.37 L232.80,510.79 L233.00,510.79 L233.00,511.20 L233.20,511.20 L233.20,511.61 L233.40,511.61 L233.40,512.02 L233.60,512.02 L233.60,512.43 L233.80,512.43 L233.80,512.84 L234.00,512.84 L234.00,513.53 L234.20,513.53 L234.20,514.48 L234.40,514.48 L234.40,515.43 L234.60,515.43 L234.60,516.39 L234.80,516.39 L234.80,517.34 L235.00,517.34 L235.00,518.29 L235.20,518.29 L235.20,519.25 L235.40,519.25 L235.40,520.20 L235.60,520.20 L235.60,521.35 L235.80,521.35 L235.80,522.49 L236.00,522.49 L236.00,523.64 L236.20,523.64 L236.20,524.79 L236.40,524.79 L236.40,525.94 L236.60,525.94 L236.60,527.08 L236.80,527.08 L236.80,528.23 L237.00,528.23 L237.00,529.38 L237.20,529.38 L237.20,495.50 Z" fill="#506586"/>
<rect x="54.60" y="445.90" width="12.30" height="53.10" fill="none" stroke="#949494" stroke-width="1.25"/>
<line x1="56.85" y1="426.80" x2="56.85" y2="561.10" stroke="#141414" stroke-width="1.4" />
<line x1="56.50" y1="495.50" x2="239.20" y2="495.50" stroke="#141414" stroke-width="1.1" />
<line x1="56.50" y1="560.50" x2="239.20" y2="560.50" stroke="#141414" stroke-width="1.1" />
<line x1="53.20" y1="430.50" x2="57.00" y2="430.50" stroke="#141414" stroke-width="1" />
<text x="49.20" y="433.40" font-size="8.5" fill="#1e1e1e" stroke="#1e1e1e" stroke-width="0.08" text-anchor="end" textLength="10.80" lengthAdjust="spacingAndGlyphs" >100</text>
<line x1="53.20" y1="463.00" x2="57.00" y2="463.00" stroke="#141414" stroke-width="1" />
<text x="49.20" y="465.90" font-size="8.5" fill="#1e1e1e" stroke="#1e1e1e" stroke-width="0.08" text-anchor="end" textLength="7.30" lengthAdjust="spacingAndGlyphs" >50</text>
<line x1="53.20" y1="495.50" x2="57.00" y2="495.50" stroke="#141414" stroke-width="1" />
<text x="49.20" y="498.40" font-size="8.5" fill="#1e1e1e" stroke="#1e1e1e" stroke-width="0.08" text-anchor="end" textLength="3.60" lengthAdjust="spacingAndGlyphs" >0</text>
<line x1="53.20" y1="528.00" x2="57.00" y2="528.00" stroke="#141414" stroke-width="1" />
<text x="49.20" y="530.90" font-size="8.5" fill="#1e1e1e" stroke="#1e1e1e" stroke-width="0.08" text-anchor="end" textLength="7.30" lengthAdjust="spacingAndGlyphs" >50</text>
<line x1="53.20" y1="560.50" x2="57.00" y2="560.50" stroke="#141414" stroke-width="1" />
<text x="49.20" y="563.40" font-size="8.5" fill="#1e1e1e" stroke="#1e1e1e" stroke-width="0.08" text-anchor="end" textLength="10.80" lengthAdjust="spacingAndGlyphs" >100</text>
<rect x="193.50" y="425.10" width="41.00" height="53.00" fill="white" stroke="none"/>
<line x1="193.50" y1="425.10" x2="234.50" y2="425.10" stroke="#8a8a8a" stroke-width="1.0" stroke-dasharray="3 2.2"/>
<line x1="234.50" y1="425.10" x2="234.50" y2="478.10" stroke="#8a8a8a" stroke-width="1.0" stroke-dasharray="3 2.2"/>
<line x1="193.50" y1="478.10" x2="234.50" y2="478.10" stroke="#8a8a8a" stroke-width="1.0" stroke-dasharray="3 2.2"/>
<line x1="193.50" y1="425.10" x2="193.50" y2="478.10" stroke="#8a8a8a" stroke-width="1.0" stroke-dasharray="3 2.2"/>
<path d="M210.30,472.90 L210.30,431.00 L211.50,431.00 L211.50,447.76 L212.10,447.76 L212.10,456.14 L213.10,456.14 L213.10,464.52 L228.70,464.52 L228.70,472.90 Z" fill="#9d3545"/>
<line x1="210.30" y1="428.70" x2="210.30" y2="473.40" stroke="#141414" stroke-width="1.1" />
<line x1="209.80" y1="472.90" x2="231.50" y2="472.90" stroke="#141414" stroke-width="1.1" />
<line x1="206.60" y1="431.00" x2="210.30" y2="431.00" stroke="#141414" stroke-width="0.9" />
<text x="203.10" y="433.45" font-size="7.1" fill="#1e1e1e" stroke="#1e1e1e" stroke-width="0.08" text-anchor="end" textLength="6.50" lengthAdjust="spacingAndGlyphs" >50</text>
<line x1="206.60" y1="451.95" x2="210.30" y2="451.95" stroke="#141414" stroke-width="0.9" />
<text x="203.10" y="454.40" font-size="7.1" fill="#1e1e1e" stroke="#1e1e1e" stroke-width="0.08" text-anchor="end" textLength="6.50" lengthAdjust="spacingAndGlyphs" >25</text>
<line x1="206.60" y1="472.90" x2="210.30" y2="472.90" stroke="#141414" stroke-width="0.9" />
<text x="203.10" y="475.35" font-size="7.1" fill="#1e1e1e" stroke="#1e1e1e" stroke-width="0.08" text-anchor="end" textLength="3.30" lengthAdjust="spacingAndGlyphs" >0</text>
<polygon points="325.60,444.00 451.30,423.10 451.30,475.70 325.60,496.50" fill="#c9c5c9"/>
<line x1="325.60" y1="444.00" x2="451.30" y2="423.10" stroke="#7d7d7d" stroke-width="0.9" stroke-dasharray="2.6 2"/>
<line x1="325.60" y1="496.50" x2="451.30" y2="475.70" stroke="#a0a0a0" stroke-width="0.9" stroke-dasharray="2.6 2"/>
<path d="M314.50,495.40 L314.50,446.42 L316.10,446.42 L316.10,470.91 L317.50,470.91 L317.50,479.07 L320.50,479.07 L320.50,487.24 L348.50,487.24 L348.50,454.59 L349.90,454.59 L349.90,470.91 L350.90,470.91 L350.90,446.42 L351.90,446.42 L351.90,479.07 L354.10,479.07 L354.10,446.42 L355.70,446.42 L355.70,438.26 L358.10,438.26 L358.10,462.75 L359.30,462.75 L359.30,470.91 L360.50,470.91 L360.50,479.07 L362.90,479.07 L362.90,487.24 L378.70,487.24 L378.70,438.26 L380.70,438.26 L380.70,470.91 L381.50,470.91 L381.50,430.10 L383.10,430.10 L383.10,446.42 L384.50,446.42 L384.50,479.07 L385.50,479.07 L385.50,438.26 L387.30,438.26 L387.30,430.10 L390.30,430.10 L390.30,454.59 L391.30,454.59 L391.30,462.75 L392.10,462.75 L392.10,470.91 L393.50,470.91 L393.50,479.07 L395.10,479.07 L395.10,487.24 L406.30,487.24 L406.30,430.10 L408.30,430.10 L408.30,454.59 L409.10,454.59 L409.10,430.10 L410.70,430.10 L410.70,479.07 L412.10,479.07 L412.10,430.10 L415.90,430.10 L415.90,462.75 L416.90,462.75 L416.90,479.07 L417.90,479.07 L417.90,487.24 L425.50,487.24 L425.50,430.10 L427.90,430.10 L427.90,438.26 L430.90,438.26 L430.90,470.91 L431.30,470.91 L431.30,479.07 L431.90,479.07 L431.90,487.24 L435.70,487.24 L435.70,462.75 L437.10,462.75 L437.10,479.07 L439.90,479.07 L439.90,462.75 L441.30,462.75 L441.30,479.07 L445.70,479.07 L445.70,487.24 L447.50,487.24 L447.50,495.40 Z" fill="#9d3545"/>
<path d="M348.50,495.40 L348.50,498.01 L348.70,498.01 L348.70,499.16 L348.90,499.16 L348.90,499.29 L349.10,499.29 L349.10,499.33 L349.30,499.33 L349.30,499.46 L349.50,499.46 L349.50,499.60 L349.70,499.60 L349.70,498.05 L349.90,498.05 L349.90,498.13 L350.10,498.13 L350.10,500.31 L350.30,500.31 L350.30,500.45 L350.50,500.45 L350.50,500.60 L350.70,500.60 L350.70,500.74 L350.90,500.74 L350.90,500.55 L351.10,500.55 L351.10,500.68 L351.30,500.68 L351.30,498.75 L351.50,498.75 L351.50,498.84 L351.70,498.84 L351.70,501.45 L351.90,501.45 L351.90,501.59 L352.10,501.59 L352.10,501.73 L352.30,501.73 L352.30,497.75 L352.50,497.75 L352.50,497.74 L352.70,497.74 L352.70,497.72 L352.90,497.72 L352.90,497.71 L353.10,497.71 L353.10,497.69 L353.30,497.69 L353.30,497.68 L353.50,497.68 L353.50,497.67 L353.70,497.67 L353.70,503.35 L353.90,503.35 L353.90,503.59 L354.10,503.59 L354.10,503.39 L354.30,503.39 L354.30,503.62 L354.50,503.62 L354.50,503.63 L354.70,503.63 L354.70,503.85 L354.90,503.85 L354.90,500.57 L355.10,500.57 L355.10,500.70 L355.30,500.70 L355.30,505.25 L355.50,505.25 L355.50,505.48 L355.70,505.48 L355.70,505.24 L355.90,505.24 L355.90,505.46 L356.10,505.46 L356.10,505.43 L356.30,505.43 L356.30,505.65 L356.50,505.65 L356.50,501.71 L356.70,501.71 L356.70,501.85 L356.90,501.85 L356.90,507.14 L357.10,507.14 L357.10,507.38 L357.30,507.38 L357.30,507.09 L357.50,507.09 L357.50,507.32 L357.70,507.32 L357.70,507.24 L357.90,507.24 L357.90,507.46 L358.10,507.46 L358.10,502.89 L358.30,502.89 L358.30,503.02 L358.50,503.02 L358.50,499.29 L358.70,499.29 L358.70,499.23 L358.90,499.23 L358.90,499.17 L359.10,499.17 L359.10,499.11 L359.30,499.11 L359.30,498.82 L359.50,498.82 L359.50,498.76 L359.70,498.76 L359.70,497.44 L359.90,497.44 L359.90,497.40 L360.10,497.40 L360.10,498.80 L360.30,498.80 L360.30,498.74 L360.50,498.74 L360.50,498.68 L360.70,498.68 L360.70,498.62 L360.90,498.62 L360.90,498.38 L361.10,498.38 L361.10,498.32 L361.30,498.32 L361.30,497.18 L361.50,497.18 L361.50,497.15 L361.70,497.15 L361.70,498.32 L361.90,498.32 L361.90,498.25 L362.10,498.25 L362.10,498.19 L362.30,498.19 L362.30,498.13 L362.50,498.13 L362.50,497.93 L362.70,497.93 L362.70,497.87 L362.90,497.87 L362.90,497.03 L363.10,497.03 L363.10,497.04 L363.30,497.04 L363.30,497.05 L363.50,497.05 L363.50,497.06 L363.70,497.06 L363.70,497.07 L363.90,497.07 L363.90,497.08 L364.10,497.08 L364.10,497.08 L364.30,497.08 L364.30,497.09 L364.50,497.09 L364.50,497.10 L364.70,497.10 L364.70,497.11 L364.90,497.11 L364.90,497.12 L365.10,497.12 L365.10,497.13 L365.30,497.13 L365.30,497.14 L365.50,497.14 L365.50,497.15 L365.70,497.15 L365.70,497.15 L365.90,497.15 L365.90,497.16 L366.10,497.16 L366.10,497.17 L366.30,497.17 L366.30,497.18 L366.50,497.18 L366.50,497.19 L366.70,497.19 L366.70,497.20 L366.90,497.20 L366.90,497.21 L367.10,497.21 L367.10,497.22 L367.30,497.22 L367.30,497.22 L367.50,497.22 L367.50,497.23 L367.70,497.23 L367.70,497.24 L367.90,497.24 L367.90,497.25 L368.10,497.25 L368.10,497.26 L368.30,497.26 L368.30,497.27 L368.50,497.27 L368.50,497.28 L368.70,497.28 L368.70,497.28 L368.90,497.28 L368.90,497.29 L369.10,497.29 L369.10,497.30 L369.30,497.30 L369.30,497.31 L369.50,497.31 L369.50,497.32 L369.70,497.32 L369.70,497.33 L369.90,497.33 L369.90,497.34 L370.10,497.34 L370.10,497.35 L370.30,497.35 L370.30,497.35 L370.50,497.35 L370.50,497.36 L370.70,497.36 L370.70,497.37 L370.90,497.37 L370.90,497.38 L371.10,497.38 L371.10,497.39 L371.30,497.39 L371.30,497.40 L371.50,497.40 L371.50,497.41 L371.70,497.41 L371.70,497.42 L371.90,497.42 L371.90,497.42 L372.10,497.42 L372.10,497.43 L372.30,497.43 L372.30,497.44 L372.50,497.44 L372.50,497.45 L372.70,497.45 L372.70,497.46 L372.90,497.46 L372.90,497.47 L373.10,497.47 L373.10,497.48 L373.30,497.48 L373.30,497.49 L373.50,497.49 L373.50,497.49 L373.70,497.49 L373.70,497.50 L373.90,497.50 L373.90,497.51 L374.10,497.51 L374.10,497.52 L374.30,497.52 L374.30,497.53 L374.50,497.53 L374.50,497.54 L374.70,497.54 L374.70,497.55 L374.90,497.55 L374.90,497.55 L375.10,497.55 L375.10,497.56 L375.30,497.56 L375.30,497.57 L375.50,497.57 L375.50,497.58 L375.70,497.58 L375.70,497.59 L375.90,497.59 L375.90,497.60 L376.10,497.60 L376.10,497.61 L376.30,497.61 L376.30,497.62 L376.50,497.62 L376.50,497.62 L376.70,497.62 L376.70,497.63 L376.90,497.63 L376.90,497.64 L377.10,497.64 L377.10,497.65 L377.30,497.65 L377.30,497.66 L377.50,497.66 L377.50,497.67 L377.70,497.67 L377.70,497.68 L377.90,497.68 L377.90,497.69 L378.10,497.69 L378.10,497.71 L378.30,497.71 L378.30,497.72 L378.50,497.72 L378.50,497.74 L378.70,497.74 L378.70,513.74 L378.90,513.74 L378.90,513.85 L379.10,513.85 L379.10,513.97 L379.30,513.97 L379.30,513.01 L379.50,513.01 L379.50,513.12 L379.70,513.12 L379.70,506.51 L379.90,506.51 L379.90,506.58 L380.10,506.58 L380.10,514.54 L380.30,514.54 L380.30,514.65 L380.50,514.65 L380.50,514.76 L380.70,514.76 L380.70,514.88 L380.90,514.88 L380.90,513.96 L381.10,513.96 L381.10,519.09 L381.30,519.09 L381.30,518.67 L381.50,518.67 L381.50,518.85 L381.70,518.85 L381.70,521.00 L381.90,521.00 L381.90,521.19 L382.10,521.19 L382.10,521.39 L382.30,521.39 L382.30,521.59 L382.50,521.59 L382.50,520.50 L382.70,520.50 L382.70,520.69 L382.90,520.69 L382.90,520.24 L383.10,520.24 L383.10,501.46 L383.30,501.46 L383.30,499.04 L383.70,499.04 L383.70,501.93 L384.10,501.93 L384.10,501.64 L384.50,501.64 L384.50,521.09 L384.70,521.09 L384.70,521.22 L384.90,521.22 L384.90,511.16 L385.10,511.16 L385.10,511.24 L385.30,511.24 L385.30,523.50 L385.50,523.50 L385.50,523.64 L385.70,523.64 L385.70,523.77 L385.90,523.77 L385.90,523.91 L386.10,523.91 L386.10,522.22 L386.30,522.22 L386.30,522.35 L386.50,522.35 L386.50,512.03 L386.70,512.03 L386.70,512.11 L386.90,512.11 L386.90,524.58 L387.10,524.58 L387.10,524.72 L387.30,524.72 L387.30,529.44 L387.50,529.44 L387.50,529.60 L387.70,529.60 L387.70,527.73 L387.90,527.73 L387.90,527.89 L388.10,527.89 L388.10,515.66 L388.30,515.66 L388.30,515.75 L388.50,515.75 L388.50,530.42 L388.70,530.42 L388.70,530.58 L388.90,530.58 L388.90,530.74 L389.10,530.74 L389.10,530.91 L389.30,530.91 L389.30,529.12 L389.50,529.12 L389.50,529.27 L389.70,529.27 L389.70,504.94 L389.90,504.94 L389.90,504.68 L390.10,504.68 L390.10,510.60 L390.30,510.60 L390.30,510.15 L390.50,510.15 L390.50,509.70 L390.70,509.70 L390.70,509.25 L390.90,509.25 L390.90,508.12 L391.10,508.12 L391.10,507.70 L391.30,507.70 L391.30,506.97 L391.50,506.97 L391.50,506.55 L391.70,506.55 L391.70,501.82 L391.90,501.82 L391.90,501.57 L392.10,501.57 L392.10,506.10 L392.30,506.10 L392.30,505.65 L392.50,505.65 L392.50,504.75 L392.70,504.75 L392.70,499.14 L392.90,499.14 L392.90,499.15 L393.10,499.15 L393.10,499.17 L393.30,499.17 L393.30,499.19 L393.50,499.19 L393.50,499.21 L393.70,499.21 L393.70,499.23 L393.90,499.23 L393.90,499.25 L394.10,499.25 L394.10,499.27 L394.30,499.27 L394.30,499.29 L394.50,499.29 L394.50,499.31 L394.70,499.31 L394.70,499.33 L394.90,499.33 L394.90,499.35 L395.10,499.35 L395.10,499.37 L395.30,499.37 L395.30,499.39 L395.50,499.39 L395.50,499.41 L395.70,499.41 L395.70,499.43 L395.90,499.43 L395.90,499.45 L396.10,499.45 L396.10,499.47 L396.30,499.47 L396.30,499.49 L396.50,499.49 L396.50,499.51 L396.70,499.51 L396.70,499.53 L396.90,499.53 L396.90,499.55 L397.10,499.55 L397.10,499.57 L397.30,499.57 L397.30,499.59 L397.50,499.59 L397.50,499.61 L397.70,499.61 L397.70,499.62 L397.90,499.62 L397.90,499.64 L398.10,499.64 L398.10,499.65 L398.30,499.65 L398.30,499.65 L398.50,499.65 L398.50,499.65 L398.70,499.65 L398.70,499.65 L398.90,499.65 L398.90,499.65 L399.10,499.65 L399.10,499.65 L399.30,499.65 L399.30,499.65 L399.50,499.65 L399.50,499.66 L399.70,499.66 L399.70,499.66 L399.90,499.66 L399.90,499.66 L400.10,499.66 L400.10,499.66 L400.30,499.66 L400.30,499.66 L400.50,499.66 L400.50,499.66 L400.70,499.66 L400.70,499.66 L400.90,499.66 L400.90,499.66 L401.10,499.66 L401.10,499.67 L401.30,499.67 L401.30,499.67 L401.50,499.67 L401.50,499.67 L401.70,499.67 L401.70,499.67 L401.90,499.67 L401.90,499.67 L402.10,499.67 L402.10,499.67 L402.30,499.67 L402.30,499.67 L402.50,499.67 L402.50,499.67 L402.70,499.67 L402.70,499.68 L402.90,499.68 L402.90,499.68 L403.10,499.68 L403.10,499.68 L403.30,499.68 L403.30,499.68 L403.50,499.68 L403.50,499.68 L403.70,499.68 L403.70,499.68 L403.90,499.68 L403.90,499.68 L404.10,499.68 L404.10,499.69 L404.30,499.69 L404.30,499.69 L404.50,499.69 L404.50,499.69 L404.70,499.69 L404.70,499.69 L404.90,499.69 L404.90,499.69 L405.10,499.69 L405.10,499.69 L405.30,499.69 L405.30,499.69 L405.50,499.69 L405.50,499.69 L405.70,499.69 L405.70,499.70 L405.90,499.70 L405.90,499.70 L406.10,499.70 L406.10,527.43 L406.30,527.43 L406.30,528.11 L406.50,528.11 L406.50,516.15 L406.70,516.15 L406.70,516.57 L406.90,516.57 L406.90,532.29 L407.10,532.29 L407.10,533.01 L407.30,533.01 L407.30,533.73 L407.50,533.73 L407.50,534.45 L407.70,534.45 L407.70,533.02 L407.90,533.02 L407.90,533.70 L408.10,533.70 L408.10,535.22 L408.30,535.22 L408.30,535.30 L408.50,535.30 L408.50,538.76 L408.70,538.76 L408.70,538.85 L408.90,538.85 L408.90,538.93 L409.10,538.93 L409.10,539.02 L409.30,539.02 L409.30,536.94 L409.50,536.94 L409.50,537.02 L409.70,537.02 L409.70,536.05 L409.90,536.05 L409.90,536.13 L410.10,536.13 L410.10,519.85 L410.30,519.85 L410.30,519.90 L410.50,519.90 L410.50,539.63 L410.70,539.63 L410.70,539.72 L410.90,539.72 L410.90,537.79 L411.10,537.79 L411.10,507.87 L411.30,507.87 L411.30,507.56 L411.70,507.56 L411.70,502.76 L412.10,502.76 L412.10,541.28 L412.30,541.28 L412.30,541.44 L412.50,541.44 L412.50,539.72 L412.70,539.72 L412.70,539.88 L412.90,539.88 L412.90,538.93 L413.10,538.93 L413.10,539.08 L413.30,539.08 L413.30,522.24 L413.50,522.24 L413.50,522.33 L413.70,522.33 L413.70,542.61 L413.90,542.61 L413.90,542.77 L414.10,542.77 L414.10,542.94 L414.30,542.94 L414.30,543.10 L414.50,543.10 L414.50,540.38 L414.70,540.38 L414.70,540.54 L414.90,540.54 L414.90,523.43 L415.10,523.43 L415.10,523.52 L415.30,523.52 L415.30,543.94 L415.50,543.94 L415.50,544.10 L415.70,544.10 L415.70,544.27 L415.90,544.27 L415.90,544.43 L416.10,544.43 L416.10,541.85 L416.30,541.85 L416.30,542.00 L416.50,542.00 L416.50,524.63 L416.70,524.63 L416.70,524.73 L416.90,524.73 L416.90,545.27 L417.10,545.27 L417.10,545.43 L417.30,545.43 L417.30,545.60 L417.50,545.60 L417.50,499.77 L417.70,499.77 L417.70,499.78 L417.90,499.78 L417.90,499.78 L418.10,499.78 L418.10,499.78 L418.30,499.78 L418.30,499.78 L418.50,499.78 L418.50,499.78 L418.70,499.78 L418.70,499.78 L418.90,499.78 L418.90,499.78 L419.10,499.78 L419.10,499.78 L419.30,499.78 L419.30,499.79 L419.50,499.79 L419.50,499.79 L419.70,499.79 L419.70,499.79 L419.90,499.79 L419.90,499.79 L420.10,499.79 L420.10,499.79 L420.30,499.79 L420.30,499.79 L420.50,499.79 L420.50,499.79 L420.70,499.79 L420.70,499.79 L420.90,499.79 L420.90,499.80 L421.10,499.80 L421.10,499.80 L421.30,499.80 L421.30,499.80 L421.50,499.80 L421.50,499.80 L421.70,499.80 L421.70,499.80 L421.90,499.80 L421.90,499.80 L422.10,499.80 L422.10,499.80 L422.30,499.80 L422.30,499.81 L422.50,499.81 L422.50,499.81 L422.70,499.81 L422.70,499.81 L422.90,499.81 L422.90,499.81 L423.10,499.81 L423.10,499.81 L423.30,499.81 L423.30,499.81 L423.50,499.81 L423.50,499.81 L423.70,499.81 L423.70,499.81 L423.90,499.81 L423.90,499.82 L424.10,499.82 L424.10,499.82 L424.30,499.82 L424.30,499.82 L424.50,499.82 L424.50,499.82 L424.70,499.82 L424.70,499.82 L424.90,499.82 L424.90,499.82 L425.10,499.82 L425.10,499.82 L425.30,499.82 L425.30,499.83 L425.50,499.83 L425.50,499.83 L425.70,499.83 L425.70,499.83 L425.90,499.83 L425.90,499.83 L426.10,499.83 L426.10,548.64 L426.30,548.64 L426.30,548.73 L426.50,548.73 L426.50,547.47 L426.70,547.47 L426.70,547.56 L426.90,547.56 L426.90,552.03 L427.10,552.03 L427.10,552.13 L427.30,552.13 L427.30,552.22 L427.50,552.22 L427.50,552.32 L427.70,552.32 L427.70,549.61 L427.90,549.61 L427.90,549.70 L428.10,549.70 L428.10,548.43 L428.30,548.43 L428.30,548.52 L428.50,548.52 L428.50,527.32 L428.70,527.32 L428.70,527.37 L428.90,527.37 L428.90,552.98 L429.10,552.98 L429.10,553.08 L429.30,553.08 L429.30,550.59 L429.50,550.59 L429.50,550.68 L429.70,550.68 L429.70,549.39 L429.90,549.39 L429.90,549.47 L430.10,549.47 L430.10,528.26 L430.30,528.26 L430.30,528.31 L430.50,528.31 L430.50,553.74 L430.70,553.74 L430.70,553.84 L430.90,553.84 L430.90,551.57 L431.10,551.57 L431.10,551.66 L431.30,551.66 L431.30,550.35 L431.50,550.35 L431.50,499.87 L431.70,499.87 L431.70,499.87 L431.90,499.87 L431.90,499.87 L432.10,499.87 L432.10,499.87 L432.30,499.87 L432.30,499.87 L432.50,499.87 L432.50,499.87 L432.70,499.87 L432.70,499.87 L432.90,499.87 L432.90,499.88 L433.10,499.88 L433.10,499.88 L433.30,499.88 L433.30,499.88 L433.50,499.88 L433.50,499.88 L433.70,499.88 L433.70,499.88 L433.90,499.88 L433.90,499.88 L434.10,499.88 L434.10,499.88 L434.30,499.88 L434.30,499.88 L434.50,499.88 L434.50,499.89 L434.70,499.89 L434.70,499.89 L434.90,499.89 L434.90,499.89 L435.10,499.89 L435.10,499.89 L435.30,499.89 L435.30,499.89 L435.50,499.89 L435.50,499.89 L435.70,499.89 L435.70,499.89 L435.90,499.89 L435.90,499.90 L436.10,499.90 L436.10,532.89 L436.30,532.89 L436.30,533.20 L436.50,533.20 L436.50,532.55 L436.70,532.55 L436.70,532.85 L436.90,532.85 L436.90,517.94 L437.10,517.94 L437.10,518.13 L437.30,518.13 L437.30,536.87 L437.50,536.87 L437.50,537.19 L437.70,537.19 L437.70,535.56 L437.90,535.56 L437.90,535.87 L438.10,535.87 L438.10,499.91 L438.30,499.91 L438.30,499.91 L438.50,499.91 L438.50,499.91 L438.70,499.91 L438.70,499.91 L438.90,499.91 L438.90,499.91 L439.10,499.91 L439.10,499.92 L439.30,499.92 L439.30,499.92 L439.50,499.92 L439.50,499.92 L439.70,499.92 L439.70,499.92 L439.90,499.92 L439.90,499.92 L440.10,499.92 L440.10,523.06 L440.30,523.06 L440.30,523.17 L440.50,523.17 L440.50,544.31 L440.70,544.31 L440.70,544.51 L440.90,544.51 L440.90,544.70 L441.10,544.70 L441.10,544.90 L441.30,544.90 L441.30,542.03 L441.50,542.03 L441.50,542.21 L441.70,542.21 L441.70,524.39 L441.90,524.39 L441.90,524.50 L442.10,524.50 L442.10,533.40 L442.30,533.40 L442.30,533.54 L442.50,533.54 L442.50,533.67 L442.70,533.67 L442.70,533.80 L442.90,533.80 L442.90,531.72 L443.10,531.72 L443.10,531.84 L443.30,531.84 L443.30,518.19 L443.50,518.19 L443.50,518.27 L443.70,518.27 L443.70,534.45 L443.90,534.45 L443.90,534.58 L444.10,534.58 L444.10,534.71 L444.30,534.71 L444.30,534.84 L444.50,534.84 L444.50,532.88 L444.70,532.88 L444.70,533.00 L444.90,533.00 L444.90,532.17 L445.10,532.17 L445.10,532.29 L445.30,532.29 L445.30,535.49 L445.50,535.49 L445.50,535.62 L445.70,535.62 L445.70,535.76 L445.90,535.76 L445.90,535.89 L446.10,535.89 L446.10,526.47 L446.50,526.47 L446.50,525.69 L446.90,525.69 L446.90,513.60 L447.30,513.60 L447.30,528.05 L447.50,528.05 L447.50,499.97 L447.70,499.97 L447.70,499.97 L447.90,499.97 L447.90,499.98 L448.10,499.98 L448.10,499.98 L448.30,499.98 L448.30,499.98 L448.50,499.98 L448.50,499.98 L448.70,499.98 L448.70,499.99 L448.90,499.99 L448.90,499.99 L449.10,499.99 L449.10,499.99 L449.30,499.99 L449.30,499.99 L449.50,499.99 L449.50,499.99 L449.70,499.99 L449.70,500.00 L449.90,500.00 L449.90,500.00 L450.10,500.00 L450.10,500.00 L450.30,500.00 L450.30,500.00 L450.50,500.00 L450.50,500.01 L450.70,500.01 L450.70,500.01 L450.90,500.01 L450.90,500.01 L451.10,500.01 L451.10,500.01 L451.30,500.01 L451.30,500.01 L451.50,500.01 L451.50,500.02 L451.70,500.02 L451.70,500.02 L451.90,500.02 L451.90,500.02 L452.10,500.02 L452.10,500.02 L452.30,500.02 L452.30,500.03 L452.50,500.03 L452.50,500.03 L452.70,500.03 L452.70,500.03 L452.90,500.03 L452.90,500.03 L453.10,500.03 L453.10,500.03 L453.30,500.03 L453.30,500.04 L453.50,500.04 L453.50,500.04 L453.70,500.04 L453.70,500.04 L453.90,500.04 L453.90,500.04 L454.10,500.04 L454.10,500.05 L454.30,500.05 L454.30,500.05 L454.50,500.05 L454.50,500.05 L454.70,500.05 L454.70,500.05 L454.90,500.05 L454.90,500.05 L455.10,500.05 L455.10,500.06 L455.30,500.06 L455.30,500.06 L455.50,500.06 L455.50,500.06 L455.70,500.06 L455.70,500.06 L455.90,500.06 L455.90,500.07 L456.10,500.07 L456.10,500.07 L456.30,500.07 L456.30,500.07 L456.50,500.07 L456.50,500.07 L456.70,500.07 L456.70,500.07 L456.90,500.07 L456.90,500.08 L457.10,500.08 L457.10,500.08 L457.30,500.08 L457.30,500.08 L457.50,500.08 L457.50,500.08 L457.70,500.08 L457.70,500.08 L457.90,500.08 L457.90,500.09 L458.10,500.09 L458.10,500.09 L458.30,500.09 L458.30,500.09 L458.50,500.09 L458.50,500.09 L458.70,500.09 L458.70,500.10 L458.90,500.10 L458.90,500.10 L459.10,500.10 L459.10,500.10 L459.30,500.10 L459.30,500.10 L459.50,500.10 L459.50,500.10 L459.70,500.10 L459.70,500.11 L459.90,500.11 L459.90,500.11 L460.10,500.11 L460.10,500.11 L460.30,500.11 L460.30,500.11 L460.50,500.11 L460.50,500.12 L460.70,500.12 L460.70,500.12 L460.90,500.12 L460.90,500.12 L461.10,500.12 L461.10,500.12 L461.30,500.12 L461.30,500.12 L461.50,500.12 L461.50,500.13 L461.70,500.13 L461.70,500.13 L461.90,500.13 L461.90,500.13 L462.10,500.13 L462.10,500.13 L462.30,500.13 L462.30,500.14 L462.50,500.14 L462.50,500.14 L462.70,500.14 L462.70,500.14 L462.90,500.14 L462.90,500.14 L463.10,500.14 L463.10,500.14 L463.30,500.14 L463.30,500.15 L463.50,500.15 L463.50,500.15 L463.70,500.15 L463.70,500.15 L463.90,500.15 L463.90,500.15 L464.10,500.15 L464.10,500.16 L464.30,500.16 L464.30,500.16 L464.50,500.16 L464.50,500.16 L464.70,500.16 L464.70,500.16 L464.90,500.16 L464.90,500.16 L465.10,500.16 L465.10,500.17 L465.30,500.17 L465.30,500.17 L465.50,500.17 L465.50,500.17 L465.70,500.17 L465.70,500.17 L465.90,500.17 L465.90,500.18 L466.10,500.18 L466.10,500.18 L466.30,500.18 L466.30,500.18 L466.50,500.18 L466.50,500.18 L466.70,500.18 L466.70,500.18 L466.90,500.18 L466.90,500.19 L467.10,500.19 L467.10,500.19 L467.30,500.19 L467.30,500.19 L467.50,500.19 L467.50,500.19 L467.70,500.19 L467.70,500.20 L467.90,500.20 L467.90,500.20 L468.10,500.20 L468.10,500.20 L468.30,500.20 L468.30,500.20 L468.50,500.20 L468.50,500.20 L468.70,500.20 L468.70,500.21 L468.90,500.21 L468.90,500.21 L469.10,500.21 L469.10,500.21 L469.30,500.21 L469.30,500.21 L469.50,500.21 L469.50,500.22 L469.70,500.22 L469.70,500.22 L469.90,500.22 L469.90,500.22 L470.10,500.22 L470.10,500.22 L470.30,500.22 L470.30,500.22 L470.50,500.22 L470.50,500.23 L470.70,500.23 L470.70,500.23 L470.90,500.23 L470.90,500.23 L471.10,500.23 L471.10,500.23 L471.30,500.23 L471.30,500.24 L471.50,500.24 L471.50,500.24 L471.70,500.24 L471.70,500.24 L471.90,500.24 L471.90,500.24 L472.10,500.24 L472.10,500.24 L472.30,500.24 L472.30,500.25 L472.50,500.25 L472.50,500.25 L472.70,500.25 L472.70,500.25 L472.90,500.25 L472.90,500.25 L473.10,500.25 L473.10,500.26 L473.30,500.26 L473.30,500.26 L473.50,500.26 L473.50,500.26 L473.70,500.26 L473.70,500.26 L473.90,500.26 L473.90,500.26 L474.10,500.26 L474.10,500.27 L474.30,500.27 L474.30,500.27 L474.50,500.27 L474.50,500.27 L474.70,500.27 L474.70,500.27 L474.90,500.27 L474.90,500.28 L475.10,500.28 L475.10,500.28 L475.30,500.28 L475.30,500.28 L475.50,500.28 L475.50,500.28 L475.70,500.28 L475.70,500.28 L475.90,500.28 L475.90,500.29 L476.10,500.29 L476.10,500.29 L476.30,500.29 L476.30,500.29 L476.50,500.29 L476.50,500.29 L476.70,500.29 L476.70,500.30 L476.90,500.30 L476.90,500.30 L477.10,500.30 L477.10,500.32 L477.30,500.32 L477.30,500.35 L477.50,500.35 L477.50,500.38 L477.70,500.38 L477.70,500.40 L477.90,500.40 L477.90,500.43 L478.10,500.43 L478.10,500.45 L478.30,500.45 L478.30,500.48 L478.50,500.48 L478.50,500.51 L478.70,500.51 L478.70,500.53 L478.90,500.53 L478.90,500.56 L479.10,500.56 L479.10,500.58 L479.30,500.58 L479.30,500.61 L479.50,500.61 L479.50,500.64 L479.70,500.64 L479.70,500.66 L479.90,500.66 L479.90,500.69 L480.10,500.69 L480.10,500.72 L480.30,500.72 L480.30,500.74 L480.50,500.74 L480.50,500.77 L480.70,500.77 L480.70,500.79 L480.90,500.79 L480.90,500.82 L481.10,500.82 L481.10,500.85 L481.30,500.85 L481.30,500.87 L481.50,500.87 L481.50,500.90 L481.70,500.90 L481.70,500.92 L481.90,500.92 L481.90,500.95 L482.10,500.95 L482.10,500.98 L482.30,500.98 L482.30,501.00 L482.50,501.00 L482.50,501.03 L482.70,501.03 L482.70,501.05 L482.90,501.05 L482.90,501.08 L483.10,501.08 L483.10,501.11 L483.30,501.11 L483.30,501.13 L483.50,501.13 L483.50,501.16 L483.70,501.16 L483.70,501.19 L483.90,501.19 L483.90,501.21 L484.10,501.21 L484.10,501.24 L484.30,501.24 L484.30,501.26 L484.50,501.26 L484.50,501.29 L484.70,501.29 L484.70,501.32 L484.90,501.32 L484.90,501.34 L485.10,501.34 L485.10,501.37 L485.30,501.37 L485.30,501.39 L485.50,501.39 L485.50,501.42 L485.70,501.42 L485.70,501.45 L485.90,501.45 L485.90,501.47 L486.10,501.47 L486.10,501.50 L486.30,501.50 L486.30,501.53 L486.50,501.53 L486.50,501.55 L486.70,501.55 L486.70,501.58 L486.90,501.58 L486.90,501.60 L487.10,501.60 L487.10,501.71 L487.30,501.71 L487.30,501.82 L487.50,501.82 L487.50,501.93 L487.70,501.93 L487.70,502.04 L487.90,502.04 L487.90,502.15 L488.10,502.15 L488.10,502.26 L488.30,502.26 L488.30,502.37 L488.50,502.37 L488.50,502.47 L488.70,502.47 L488.70,502.58 L488.90,502.58 L488.90,502.69 L489.10,502.69 L489.10,502.80 L489.30,502.80 L489.30,502.91 L489.50,502.91 L489.50,503.02 L489.70,503.02 L489.70,503.13 L489.90,503.13 L489.90,503.24 L490.10,503.24 L490.10,503.46 L490.30,503.46 L490.30,503.69 L490.50,503.69 L490.50,503.92 L490.70,503.92 L490.70,504.14 L490.90,504.14 L490.90,504.37 L491.10,504.37 L491.10,504.60 L491.30,504.60 L491.30,504.83 L491.50,504.83 L491.50,505.05 L491.70,505.05 L491.70,505.28 L491.90,505.28 L491.90,505.51 L492.10,505.51 L492.10,505.73 L492.30,505.73 L492.30,506.45 L492.50,506.45 L492.50,507.65 L492.70,507.65 L492.70,508.85 L492.90,508.85 L492.90,510.05 L493.10,510.05 L493.10,511.25 L493.30,511.25 L493.30,512.46 L493.50,512.46 L493.50,513.66 L493.70,513.66 L493.70,514.86 L493.90,514.86 L493.90,516.06 L494.10,516.06 L494.10,517.26 L494.30,517.26 L494.30,518.46 L494.50,518.46 L494.50,519.67 L494.70,519.67 L494.70,520.87 L494.80,520.87 L494.80,495.40 Z" fill="#506586"/>
<rect x="313.00" y="444.00" width="12.60" height="52.50" fill="none" stroke="#949494" stroke-width="1.25"/>
<line x1="314.35" y1="426.80" x2="314.35" y2="561.30" stroke="#141414" stroke-width="1.4" />
<line x1="314.00" y1="495.40" x2="496.90" y2="495.40" stroke="#141414" stroke-width="1.1" />
<line x1="314.00" y1="560.70" x2="496.90" y2="560.70" stroke="#141414" stroke-width="1.1" />
<line x1="310.70" y1="430.10" x2="314.50" y2="430.10" stroke="#141414" stroke-width="1" />
<text x="307.50" y="433.00" font-size="8.5" fill="#1e1e1e" stroke="#1e1e1e" stroke-width="0.08" text-anchor="end" textLength="10.80" lengthAdjust="spacingAndGlyphs" >100</text>
<line x1="310.70" y1="462.75" x2="314.50" y2="462.75" stroke="#141414" stroke-width="1" />
<text x="307.50" y="465.65" font-size="8.5" fill="#1e1e1e" stroke="#1e1e1e" stroke-width="0.08" text-anchor="end" textLength="7.30" lengthAdjust="spacingAndGlyphs" >50</text>
<line x1="310.70" y1="495.40" x2="314.50" y2="495.40" stroke="#141414" stroke-width="1" />
<text x="307.50" y="498.30" font-size="8.5" fill="#1e1e1e" stroke="#1e1e1e" stroke-width="0.08" text-anchor="end" textLength="3.60" lengthAdjust="spacingAndGlyphs" >0</text>
<line x1="310.70" y1="528.05" x2="314.50" y2="528.05" stroke="#141414" stroke-width="1" />
<text x="307.50" y="530.95" font-size="8.5" fill="#1e1e1e" stroke="#1e1e1e" stroke-width="0.08" text-anchor="end" textLength="7.30" lengthAdjust="spacingAndGlyphs" >50</text>
<line x1="310.70" y1="560.70" x2="314.50" y2="560.70" stroke="#141414" stroke-width="1" />
<text x="307.50" y="563.60" font-size="8.5" fill="#1e1e1e" stroke="#1e1e1e" stroke-width="0.08" text-anchor="end" textLength="10.80" lengthAdjust="spacingAndGlyphs" >100</text>
<rect x="451.30" y="423.10" width="41.20" height="52.60" fill="white" stroke="none"/>
<line x1="451.30" y1="423.10" x2="492.50" y2="423.10" stroke="#8a8a8a" stroke-width="1.0" stroke-dasharray="3 2.2"/>
<line x1="492.50" y1="423.10" x2="492.50" y2="475.70" stroke="#8a8a8a" stroke-width="1.0" stroke-dasharray="3 2.2"/>
<line x1="451.30" y1="475.70" x2="492.50" y2="475.70" stroke="#8a8a8a" stroke-width="1.0" stroke-dasharray="3 2.2"/>
<line x1="451.30" y1="423.10" x2="451.30" y2="475.70" stroke="#8a8a8a" stroke-width="1.0" stroke-dasharray="3 2.2"/>
<path d="M468.30,468.70 L468.30,429.40 L469.50,429.40 L469.50,442.50 L470.50,442.50 L470.50,449.05 L472.00,449.05 L472.00,455.60 L475.20,455.60 L475.20,462.15 L486.00,462.15 L486.00,468.70 Z" fill="#9d3545"/>
<line x1="468.30" y1="427.10" x2="468.30" y2="469.20" stroke="#141414" stroke-width="1.1" />
<line x1="467.80" y1="468.70" x2="488.50" y2="468.70" stroke="#141414" stroke-width="1.1" />
<line x1="464.60" y1="429.40" x2="468.30" y2="429.40" stroke="#141414" stroke-width="0.9" />
<text x="460.80" y="431.85" font-size="7.1" fill="#1e1e1e" stroke="#1e1e1e" stroke-width="0.08" text-anchor="end" textLength="6.50" lengthAdjust="spacingAndGlyphs" >75</text>
<line x1="464.60" y1="442.50" x2="468.30" y2="442.50" stroke="#141414" stroke-width="0.9" />
<text x="460.80" y="444.95" font-size="7.1" fill="#1e1e1e" stroke="#1e1e1e" stroke-width="0.08" text-anchor="end" textLength="6.50" lengthAdjust="spacingAndGlyphs" >50</text>
<line x1="464.60" y1="455.60" x2="468.30" y2="455.60" stroke="#141414" stroke-width="0.9" />
<text x="460.80" y="458.05" font-size="7.1" fill="#1e1e1e" stroke="#1e1e1e" stroke-width="0.08" text-anchor="end" textLength="6.50" lengthAdjust="spacingAndGlyphs" >25</text>
<line x1="464.60" y1="468.70" x2="468.30" y2="468.70" stroke="#141414" stroke-width="0.9" />
<text x="460.80" y="471.15" font-size="7.1" fill="#1e1e1e" stroke="#1e1e1e" stroke-width="0.08" text-anchor="end" textLength="3.30" lengthAdjust="spacingAndGlyphs" >0</text>
<polygon points="63.70,648.10 189.20,629.70 189.20,682.90 63.70,703.00" fill="#c9c5c9"/>
<line x1="63.70" y1="648.10" x2="189.20" y2="629.70" stroke="#7d7d7d" stroke-width="0.9" stroke-dasharray="2.6 2"/>
<line x1="63.70" y1="703.00" x2="189.20" y2="682.90" stroke="#a0a0a0" stroke-width="0.9" stroke-dasharray="2.6 2"/>
<path d="M56.90,702.60 L56.90,689.46 L57.10,689.46 L57.10,650.04 L58.30,650.04 L58.30,663.18 L59.10,663.18 L59.10,676.32 L60.10,676.32 L60.10,689.46 L65.10,689.46 L65.10,636.90 L66.50,636.90 L66.50,650.04 L67.50,650.04 L67.50,636.90 L68.90,636.90 L68.90,663.18 L69.70,663.18 L69.70,676.32 L70.30,676.32 L70.30,689.46 L72.70,689.46 L72.70,636.90 L76.70,636.90 L76.70,663.18 L78.10,663.18 L78.10,689.46 L79.70,689.46 L79.70,636.90 L85.70,636.90 L85.70,663.18 L86.30,663.18 L86.30,676.32 L86.90,676.32 L86.90,689.46 L88.10,689.46 L88.10,636.90 L90.70,636.90 L90.70,650.04 L92.30,650.04 L92.30,676.32 L93.90,676.32 L93.90,663.18 L95.10,663.18 L95.10,676.32 L99.10,676.32 L99.10,689.46 L102.00,689.46 L102.00,702.60 Z" fill="#9d3545"/>
<path d="M65.00,702.60 L65.00,708.70 L65.20,708.70 L65.20,707.20 L65.60,707.20 L65.60,709.58 L65.80,709.58 L65.80,709.72 L66.00,709.72 L66.00,709.55 L66.20,709.55 L66.20,709.68 L66.40,709.68 L66.40,709.63 L66.60,709.63 L66.60,709.76 L66.80,709.76 L66.80,707.20 L67.00,707.20 L67.00,712.35 L67.20,712.35 L67.20,719.98 L67.40,719.98 L67.40,720.17 L67.60,720.17 L67.60,720.37 L67.80,720.37 L67.80,720.57 L68.00,720.57 L68.00,719.62 L68.20,719.62 L68.20,719.81 L68.40,719.81 L68.40,713.29 L68.60,713.29 L68.60,713.41 L68.80,713.41 L68.80,721.55 L69.00,721.55 L69.00,714.43 L69.60,714.43 L69.60,713.73 L70.00,713.73 L70.00,709.52 L70.40,709.52 L70.40,707.20 L72.80,707.20 L72.80,724.19 L73.00,724.19 L73.00,724.93 L73.20,724.93 L73.20,725.09 L73.40,725.09 L73.40,725.81 L73.60,725.81 L73.60,716.93 L73.80,716.93 L73.80,717.36 L74.00,717.36 L74.00,729.98 L74.20,729.98 L74.20,730.76 L74.40,730.76 L74.40,730.22 L74.60,730.22 L74.60,730.97 L74.80,730.97 L74.80,730.98 L75.00,730.98 L75.00,731.70 L75.20,731.70 L75.20,720.66 L75.40,720.66 L75.40,721.10 L75.60,721.10 L75.60,736.20 L75.80,736.20 L75.80,736.97 L76.00,736.97 L76.00,736.31 L76.20,736.31 L76.20,737.05 L76.40,737.05 L76.40,736.92 L76.60,736.92 L76.60,737.65 L76.80,737.65 L76.80,724.50 L77.00,724.50 L77.00,724.94 L77.20,724.94 L77.20,707.20 L79.60,707.20 L79.60,741.94 L79.80,741.94 L79.80,742.48 L80.00,742.48 L80.00,727.87 L80.20,727.87 L80.20,728.21 L80.40,728.21 L80.40,746.58 L80.60,746.58 L80.60,747.16 L80.80,747.16 L80.80,747.74 L81.00,747.74 L81.00,748.31 L81.20,748.31 L81.20,746.50 L81.40,746.50 L81.40,747.04 L81.60,747.04 L81.60,746.46 L81.80,746.46 L81.80,746.99 L82.00,746.99 L82.00,729.38 L82.20,729.38 L82.20,729.69 L82.40,729.69 L82.40,752.35 L82.60,752.35 L82.60,752.92 L82.80,752.92 L82.80,751.09 L83.00,751.09 L83.00,751.64 L83.20,751.64 L83.20,750.95 L83.40,750.95 L83.40,751.48 L83.60,751.48 L83.60,732.38 L83.80,732.38 L83.80,732.71 L84.00,732.71 L84.00,756.96 L84.20,756.96 L84.20,757.53 L84.40,757.53 L84.40,755.73 L84.60,755.73 L84.60,756.28 L84.80,756.28 L84.80,755.48 L85.00,755.48 L85.00,756.02 L85.20,756.02 L85.20,707.20 L87.20,707.20 L87.20,758.45 L87.40,758.45 L87.40,758.77 L87.60,758.77 L87.60,759.10 L87.80,759.10 L87.80,759.43 L88.00,759.43 L88.00,756.44 L88.20,756.44 L88.20,756.75 L88.40,756.75 L88.40,736.49 L88.60,736.49 L88.60,736.68 L88.80,736.68 L88.80,761.07 L89.00,761.07 L89.00,761.40 L89.20,761.40 L89.20,761.73 L89.40,761.73 L89.40,762.06 L89.60,762.06 L89.60,759.18 L89.80,759.18 L89.80,759.49 L90.00,759.49 L90.00,758.36 L90.20,758.36 L90.20,758.66 L90.40,758.66 L90.40,763.70 L90.60,763.70 L90.60,764.03 L90.80,764.03 L90.80,764.36 L91.00,764.36 L91.00,764.69 L91.20,764.69 L91.20,761.94 L91.40,761.94 L91.40,762.26 L91.60,762.26 L91.60,761.06 L91.80,761.06 L91.80,761.37 L92.00,761.37 L92.00,738.03 L92.20,738.03 L92.20,738.22 L92.40,738.22 L92.40,722.31 L92.80,722.31 L92.80,721.43 L93.20,721.43 L93.20,720.96 L93.60,720.96 L93.60,713.73 L94.00,713.73 L94.00,753.89 L94.20,753.89 L94.20,753.98 L94.40,753.98 L94.40,752.00 L94.60,752.00 L94.60,752.08 L94.80,752.08 L94.80,750.94 L95.00,750.94 L95.00,751.02 L95.20,751.02 L95.20,732.34 L95.40,732.34 L95.40,732.39 L95.60,732.39 L95.60,754.63 L95.80,754.63 L95.80,754.72 L96.00,754.72 L96.00,754.81 L96.20,754.81 L96.20,754.90 L96.40,754.90 L96.40,751.85 L96.60,751.85 L96.60,751.94 L96.80,751.94 L96.80,733.22 L97.00,733.22 L97.00,733.27 L97.20,733.27 L97.20,755.36 L97.40,755.36 L97.40,755.45 L97.60,755.45 L97.60,755.54 L97.80,755.54 L97.80,755.63 L98.00,755.63 L98.00,752.78 L98.20,752.78 L98.20,749.14 L98.40,749.14 L98.40,731.78 L98.60,731.78 L98.60,731.82 L98.80,731.82 L98.80,752.11 L99.00,752.11 L99.00,752.18 L99.20,752.18 L99.20,752.26 L99.40,752.26 L99.40,752.34 L99.60,752.34 L99.60,749.87 L99.80,749.87 L99.80,749.94 L100.00,749.94 L100.00,748.82 L100.20,748.82 L100.20,748.89 L100.40,748.89 L100.40,730.28 L100.60,730.28 L100.60,730.32 L100.80,730.32 L100.80,752.88 L101.00,752.88 L101.00,752.96 L101.20,752.96 L101.20,750.68 L101.40,750.68 L101.40,750.75 L101.60,750.75 L101.60,707.20 L102.00,707.20 L102.00,706.87 L191.80,706.87 L191.80,710.48 L213.80,710.48 L213.80,713.77 L223.60,713.77 L223.60,717.71 L228.40,717.71 L228.40,718.05 L228.60,718.05 L228.60,718.39 L228.80,718.39 L228.80,718.73 L229.00,718.73 L229.00,719.07 L229.20,719.07 L229.20,719.41 L229.40,719.41 L229.40,719.75 L229.60,719.75 L229.60,720.10 L229.80,720.10 L229.80,720.44 L230.00,720.44 L230.00,720.78 L230.20,720.78 L230.20,721.12 L230.40,721.12 L230.40,721.46 L230.60,721.46 L230.60,721.80 L230.80,721.80 L230.80,722.14 L231.00,722.14 L231.00,722.44 L231.20,722.44 L231.20,722.70 L231.40,722.70 L231.40,722.97 L231.60,722.97 L231.60,723.23 L231.80,723.23 L231.80,723.49 L232.00,723.49 L232.00,723.76 L232.20,723.76 L232.20,724.02 L232.40,724.02 L232.40,724.28 L232.60,724.28 L232.60,724.54 L232.80,724.54 L232.80,724.81 L233.00,724.81 L233.00,725.07 L233.20,725.07 L233.20,725.33 L233.40,725.33 L233.40,725.59 L233.60,725.59 L233.60,725.86 L233.80,725.86 L233.80,726.12 L234.00,726.12 L234.00,726.65 L234.20,726.65 L234.20,727.43 L234.40,727.43 L234.40,728.22 L234.60,728.22 L234.60,729.01 L234.80,729.01 L234.80,729.80 L235.00,729.80 L235.00,730.59 L235.20,730.59 L235.20,731.38 L235.40,731.38 L235.40,732.16 L235.60,732.16 L235.60,732.95 L235.80,732.95 L235.80,733.74 L236.00,733.74 L236.00,734.74 L236.20,734.74 L236.20,735.96 L236.40,735.96 L236.40,737.17 L236.60,737.17 L236.60,738.38 L236.80,738.38 L236.80,739.59 L237.00,739.59 L237.00,740.81 L237.20,740.81 L237.20,742.02 L237.40,742.02 L237.40,743.23 L237.60,743.23 L237.60,744.45 L237.80,744.45 L237.80,745.66 L238.00,745.66 L238.00,746.87 L238.20,746.87 L238.20,748.08 L238.40,748.08 L238.40,749.30 L238.60,749.30 L238.60,702.60 Z" fill="#506586"/>
<rect x="56.00" y="648.10" width="7.70" height="54.90" fill="none" stroke="#949494" stroke-width="1.25"/>
<line x1="56.75" y1="633.00" x2="56.75" y2="768.90" stroke="#141414" stroke-width="1.4" />
<line x1="56.40" y1="702.60" x2="240.80" y2="702.60" stroke="#141414" stroke-width="1.1" />
<line x1="56.40" y1="768.30" x2="240.80" y2="768.30" stroke="#141414" stroke-width="1.1" />
<line x1="53.10" y1="636.90" x2="56.90" y2="636.90" stroke="#141414" stroke-width="1" />
<text x="49.40" y="639.80" font-size="8.5" fill="#1e1e1e" stroke="#1e1e1e" stroke-width="0.08" text-anchor="end" textLength="10.80" lengthAdjust="spacingAndGlyphs" >100</text>
<line x1="53.10" y1="669.75" x2="56.90" y2="669.75" stroke="#141414" stroke-width="1" />
<text x="49.40" y="672.65" font-size="8.5" fill="#1e1e1e" stroke="#1e1e1e" stroke-width="0.08" text-anchor="end" textLength="7.30" lengthAdjust="spacingAndGlyphs" >50</text>
<line x1="53.10" y1="702.60" x2="56.90" y2="702.60" stroke="#141414" stroke-width="1" />
<text x="49.40" y="705.50" font-size="8.5" fill="#1e1e1e" stroke="#1e1e1e" stroke-width="0.08" text-anchor="end" textLength="3.60" lengthAdjust="spacingAndGlyphs" >0</text>
<line x1="53.10" y1="735.45" x2="56.90" y2="735.45" stroke="#141414" stroke-width="1" />
<text x="49.40" y="738.35" font-size="8.5" fill="#1e1e1e" stroke="#1e1e1e" stroke-width="0.08" text-anchor="end" textLength="7.30" lengthAdjust="spacingAndGlyphs" >50</text>
<line x1="53.10" y1="768.30" x2="56.90" y2="768.30" stroke="#141414" stroke-width="1" />
<text x="49.40" y="771.20" font-size="8.5" fill="#1e1e1e" stroke="#1e1e1e" stroke-width="0.08" text-anchor="end" textLength="10.80" lengthAdjust="spacingAndGlyphs" >100</text>
<rect x="189.20" y="629.70" width="42.60" height="53.20" fill="white" stroke="none"/>
<line x1="189.20" y1="629.70" x2="231.80" y2="629.70" stroke="#8a8a8a" stroke-width="1.0" stroke-dasharray="3 2.2"/>
<line x1="231.80" y1="629.70" x2="231.80" y2="682.90" stroke="#8a8a8a" stroke-width="1.0" stroke-dasharray="3 2.2"/>
<line x1="189.20" y1="682.90" x2="231.80" y2="682.90" stroke="#8a8a8a" stroke-width="1.0" stroke-dasharray="3 2.2"/>
<line x1="189.20" y1="629.70" x2="189.20" y2="682.90" stroke="#8a8a8a" stroke-width="1.0" stroke-dasharray="3 2.2"/>
<path d="M208.30,674.50 L208.30,635.78 L210.00,635.78 L210.00,645.46 L211.50,645.46 L211.50,655.14 L213.30,655.14 L213.30,664.82 L225.00,664.82 L225.00,674.50 Z" fill="#9d3545"/>
<line x1="208.30" y1="635.90" x2="208.30" y2="675.00" stroke="#141414" stroke-width="1.1" />
<line x1="207.80" y1="674.50" x2="227.80" y2="674.50" stroke="#141414" stroke-width="1.1" />
<line x1="204.60" y1="638.20" x2="208.30" y2="638.20" stroke="#141414" stroke-width="0.9" />
<text x="200.90" y="640.65" font-size="7.1" fill="#1e1e1e" stroke="#1e1e1e" stroke-width="0.08" text-anchor="end" textLength="6.50" lengthAdjust="spacingAndGlyphs" >75</text>
<line x1="204.60" y1="650.30" x2="208.30" y2="650.30" stroke="#141414" stroke-width="0.9" />
<text x="200.90" y="652.75" font-size="7.1" fill="#1e1e1e" stroke="#1e1e1e" stroke-width="0.08" text-anchor="end" textLength="6.50" lengthAdjust="spacingAndGlyphs" >50</text>
<line x1="204.60" y1="662.40" x2="208.30" y2="662.40" stroke="#141414" stroke-width="0.9" />
<text x="200.90" y="664.85" font-size="7.1" fill="#1e1e1e" stroke="#1e1e1e" stroke-width="0.08" text-anchor="end" textLength="6.50" lengthAdjust="spacingAndGlyphs" >25</text>
<line x1="204.60" y1="674.50" x2="208.30" y2="674.50" stroke="#141414" stroke-width="0.9" />
<text x="200.90" y="676.95" font-size="7.1" fill="#1e1e1e" stroke="#1e1e1e" stroke-width="0.08" text-anchor="end" textLength="3.30" lengthAdjust="spacingAndGlyphs" >0</text>
<polygon points="325.40,651.50 452.00,630.40 452.00,683.50 325.40,704.20" fill="#c9c5c9"/>
<line x1="325.40" y1="651.50" x2="452.00" y2="630.40" stroke="#7d7d7d" stroke-width="0.9" stroke-dasharray="2.6 2"/>
<line x1="325.40" y1="704.20" x2="452.00" y2="683.50" stroke="#a0a0a0" stroke-width="0.9" stroke-dasharray="2.6 2"/>
<path d="M314.50,703.30 L314.50,693.97 L314.90,693.97 L314.90,666.01 L316.90,666.01 L316.90,684.62 L318.30,684.62 L318.30,693.97 L330.90,693.97 L330.90,656.68 L331.90,656.68 L331.90,666.01 L332.70,666.01 L332.70,647.34 L333.90,647.34 L333.90,666.01 L334.70,666.01 L334.70,684.62 L335.70,684.62 L335.70,693.97 L342.30,693.97 L342.30,638.00 L343.90,638.00 L343.90,656.68 L344.70,656.68 L344.70,684.62 L346.30,684.62 L346.30,638.00 L348.10,638.00 L348.10,666.01 L348.90,666.01 L348.90,684.62 L349.70,684.62 L349.70,693.97 L352.90,693.97 L352.90,638.00 L359.30,638.00 L359.30,666.01 L360.30,666.01 L360.30,684.62 L361.10,684.62 L361.10,693.97 L364.10,693.97 L364.10,638.00 L365.50,638.00 L365.50,647.34 L366.90,647.34 L366.90,656.68 L368.70,656.68 L368.70,684.62 L370.10,684.62 L370.10,693.97 L372.50,693.97 L372.50,656.68 L374.70,656.68 L374.70,675.29 L376.10,675.29 L376.10,693.97 L377.50,693.97 L377.50,666.01 L379.30,666.01 L379.30,693.97 L381.10,693.97 L381.10,684.62 L383.30,684.62 L383.30,693.97 L386.10,693.97 L386.10,703.30 Z" fill="#9d3545"/>
<path d="M330.50,703.30 L330.50,706.17 L330.90,706.17 L330.90,710.92 L331.10,710.92 L331.10,708.31 L331.30,708.31 L331.30,708.67 L331.50,708.67 L331.50,709.03 L331.70,709.03 L331.70,713.95 L331.90,713.95 L331.90,714.57 L332.10,714.57 L332.10,715.20 L332.30,715.20 L332.30,715.82 L332.50,715.82 L332.50,715.64 L332.70,715.64 L332.70,716.23 L332.90,716.23 L332.90,711.65 L333.10,711.65 L333.10,712.02 L333.30,712.02 L333.30,709.68 L333.50,709.68 L333.50,709.52 L333.70,709.52 L333.70,709.37 L333.90,709.37 L333.90,709.22 L334.10,709.22 L334.10,708.74 L334.30,708.74 L334.30,708.59 L334.50,708.59 L334.50,706.51 L334.70,706.51 L334.70,706.42 L334.90,706.42 L334.90,706.17 L341.90,706.17 L341.90,719.95 L342.10,719.95 L342.10,720.28 L342.30,720.28 L342.30,720.60 L342.50,720.60 L342.50,719.90 L342.70,719.90 L342.70,720.21 L342.90,720.21 L342.90,714.00 L343.10,714.00 L343.10,714.19 L343.30,714.19 L343.30,722.24 L343.50,722.24 L343.50,722.56 L343.70,722.56 L343.70,722.89 L343.90,722.89 L343.90,723.22 L344.10,723.22 L344.10,722.45 L344.30,722.45 L344.30,710.71 L344.50,710.71 L344.50,710.53 L344.90,710.53 L344.90,711.14 L345.70,711.14 L345.70,710.75 L345.90,710.75 L345.90,728.27 L346.10,728.27 L346.10,727.93 L346.30,727.93 L346.30,728.21 L346.50,728.21 L346.50,718.40 L346.70,718.40 L346.70,718.57 L346.90,718.57 L346.90,731.11 L347.10,731.11 L347.10,731.42 L347.30,731.42 L347.30,730.44 L347.50,730.44 L347.50,730.73 L347.70,730.73 L347.70,730.33 L347.90,730.33 L347.90,730.62 L348.10,730.62 L348.10,720.02 L348.30,720.02 L348.30,720.20 L348.50,720.20 L348.50,733.57 L348.70,733.57 L348.70,733.88 L348.90,733.88 L348.90,732.92 L349.10,732.92 L349.10,733.22 L349.30,733.22 L349.30,708.98 L352.90,708.98 L352.90,725.96 L353.10,725.96 L353.10,726.26 L353.30,726.26 L353.30,742.70 L353.50,742.70 L353.50,743.21 L353.70,743.21 L353.70,743.72 L353.90,743.72 L353.90,744.23 L354.10,744.23 L354.10,742.61 L354.30,742.61 L354.30,743.09 L354.50,743.09 L354.50,742.56 L354.70,742.56 L354.70,743.04 L354.90,743.04 L354.90,727.28 L355.10,727.28 L355.10,727.56 L355.30,727.56 L355.30,747.81 L355.50,747.81 L355.50,748.32 L355.70,748.32 L355.70,746.68 L355.90,746.68 L355.90,747.17 L356.10,747.17 L356.10,746.54 L356.30,746.54 L356.30,747.02 L356.50,747.02 L356.50,729.95 L356.70,729.95 L356.70,730.23 L356.90,730.23 L356.90,751.89 L357.10,751.89 L357.10,752.40 L357.30,752.40 L357.30,750.79 L357.50,750.79 L357.50,751.28 L357.70,751.28 L357.70,750.56 L357.90,750.56 L357.90,751.03 L358.10,751.03 L358.10,732.69 L358.30,732.69 L358.30,732.98 L358.50,732.98 L358.50,755.97 L358.70,755.97 L358.70,756.48 L358.90,756.48 L358.90,756.99 L359.10,756.99 L359.10,757.50 L359.30,757.50 L359.30,708.98 L361.70,708.98 L361.70,711.14 L362.50,711.14 L362.50,710.72 L362.90,710.72 L362.90,710.53 L363.30,710.53 L363.30,711.14 L363.90,711.14 L363.90,756.99 L364.10,756.99 L364.10,754.50 L364.30,754.50 L364.30,754.64 L364.50,754.64 L364.50,753.49 L364.70,753.49 L364.70,753.62 L364.90,753.62 L364.90,733.58 L365.10,733.58 L365.10,733.67 L365.30,733.67 L365.30,758.02 L365.50,758.02 L365.50,758.17 L365.70,758.17 L365.70,755.86 L365.90,755.86 L365.90,756.00 L366.10,756.00 L366.10,754.82 L366.30,754.82 L366.30,754.96 L366.50,754.96 L366.50,734.73 L366.70,734.73 L366.70,734.81 L366.90,734.81 L366.90,759.20 L367.10,759.20 L367.10,759.34 L367.30,759.34 L367.30,757.23 L367.50,757.23 L367.50,757.37 L367.70,757.37 L367.70,756.16 L367.90,756.16 L367.90,708.98 L370.10,708.98 L370.10,713.09 L370.90,713.09 L370.90,712.55 L371.30,712.55 L371.30,709.09 L371.70,709.09 L371.70,713.09 L372.50,713.09 L372.50,758.01 L372.70,758.01 L372.70,758.18 L372.90,758.18 L372.90,756.97 L373.10,756.97 L373.10,757.13 L373.30,757.13 L373.30,735.55 L373.50,735.55 L373.50,735.65 L373.70,735.65 L373.70,762.02 L373.90,762.02 L373.90,762.21 L374.10,762.21 L374.10,759.64 L374.30,759.64 L374.30,759.81 L374.50,759.81 L374.50,758.56 L374.70,758.56 L374.70,758.73 L374.90,758.73 L374.90,736.87 L375.10,736.87 L375.10,736.98 L375.30,736.98 L375.30,708.98 L377.10,708.98 L377.10,755.76 L377.30,755.76 L377.30,755.98 L377.50,755.98 L377.50,756.19 L377.70,756.19 L377.70,753.14 L377.90,753.14 L377.90,753.34 L378.10,753.34 L378.10,734.30 L378.30,734.30 L378.30,734.43 L378.50,734.43 L378.50,757.28 L378.70,757.28 L378.70,757.50 L378.90,757.50 L378.90,708.98 L380.50,708.98 L380.50,742.56 L380.70,742.56 L380.70,742.72 L380.90,742.72 L380.90,740.80 L381.10,740.80 L381.10,740.95 L381.30,740.95 L381.30,740.15 L381.50,740.15 L381.50,740.30 L381.70,740.30 L381.70,743.53 L381.90,743.53 L381.90,743.70 L382.10,743.70 L382.10,743.86 L382.30,743.86 L382.30,744.02 L382.50,744.02 L382.50,742.20 L382.70,742.20 L382.70,742.36 L382.90,742.36 L382.90,741.53 L383.10,741.53 L383.10,741.68 L383.30,741.68 L383.30,726.46 L383.50,726.46 L383.50,722.31 L383.70,722.31 L383.70,737.53 L383.90,737.53 L383.90,737.66 L384.10,737.66 L384.10,736.28 L384.30,736.28 L384.30,736.41 L384.50,736.41 L384.50,735.71 L384.70,735.71 L384.70,735.83 L384.90,735.83 L384.90,723.14 L385.10,723.14 L385.10,723.22 L385.30,723.22 L385.30,738.61 L385.50,738.61 L385.50,738.74 L385.70,738.74 L385.70,738.88 L385.90,738.88 L385.90,739.01 L386.10,739.01 L386.10,736.87 L386.30,736.87 L386.30,707.54 L442.10,707.54 L442.10,710.81 L466.30,710.81 L466.30,714.21 L478.90,714.21 L478.90,716.03 L484.70,716.03 L484.70,717.67 L488.50,717.67 L488.50,717.87 L488.70,717.87 L488.70,718.29 L488.90,718.29 L488.90,718.71 L489.10,718.71 L489.10,719.13 L489.30,719.13 L489.30,719.55 L489.50,719.55 L489.50,719.96 L489.70,719.96 L489.70,720.38 L489.90,720.38 L489.90,720.80 L490.10,720.80 L490.10,721.22 L490.30,721.22 L490.30,721.64 L490.50,721.64 L490.50,722.05 L490.70,722.05 L490.70,722.47 L490.90,722.47 L490.90,722.89 L491.10,722.89 L491.10,723.67 L491.30,723.67 L491.30,724.46 L491.50,724.46 L491.50,725.24 L491.70,725.24 L491.70,726.02 L491.90,726.02 L491.90,726.81 L492.10,726.81 L492.10,727.59 L492.30,727.59 L492.30,728.38 L492.50,728.38 L492.50,729.16 L492.70,729.16 L492.70,729.94 L492.90,729.94 L492.90,730.73 L493.10,730.73 L493.10,732.31 L493.30,732.31 L493.30,733.90 L493.50,733.90 L493.50,735.48 L493.70,735.48 L493.70,737.07 L493.90,737.07 L493.90,738.66 L494.10,738.66 L494.10,740.24 L494.30,740.24 L494.30,741.83 L494.40,741.83 L494.40,703.30 Z" fill="#506586"/>
<rect x="312.80" y="651.50" width="12.60" height="52.70" fill="none" stroke="#949494" stroke-width="1.25"/>
<line x1="314.35" y1="633.80" x2="314.35" y2="769.20" stroke="#141414" stroke-width="1.4" />
<line x1="314.00" y1="703.30" x2="498.00" y2="703.30" stroke="#141414" stroke-width="1.1" />
<line x1="314.00" y1="768.60" x2="498.00" y2="768.60" stroke="#141414" stroke-width="1.1" />
<line x1="310.70" y1="638.00" x2="314.50" y2="638.00" stroke="#141414" stroke-width="1" />
<text x="307.50" y="640.90" font-size="8.5" fill="#1e1e1e" stroke="#1e1e1e" stroke-width="0.08" text-anchor="end" textLength="10.80" lengthAdjust="spacingAndGlyphs" >100</text>
<line x1="310.70" y1="670.65" x2="314.50" y2="670.65" stroke="#141414" stroke-width="1" />
<text x="307.50" y="673.55" font-size="8.5" fill="#1e1e1e" stroke="#1e1e1e" stroke-width="0.08" text-anchor="end" textLength="7.30" lengthAdjust="spacingAndGlyphs" >50</text>
<line x1="310.70" y1="703.30" x2="314.50" y2="703.30" stroke="#141414" stroke-width="1" />
<text x="307.50" y="706.20" font-size="8.5" fill="#1e1e1e" stroke="#1e1e1e" stroke-width="0.08" text-anchor="end" textLength="3.60" lengthAdjust="spacingAndGlyphs" >0</text>
<line x1="310.70" y1="735.95" x2="314.50" y2="735.95" stroke="#141414" stroke-width="1" />
<text x="307.50" y="738.85" font-size="8.5" fill="#1e1e1e" stroke="#1e1e1e" stroke-width="0.08" text-anchor="end" textLength="7.30" lengthAdjust="spacingAndGlyphs" >50</text>
<line x1="310.70" y1="768.60" x2="314.50" y2="768.60" stroke="#141414" stroke-width="1" />
<text x="307.50" y="771.50" font-size="8.5" fill="#1e1e1e" stroke="#1e1e1e" stroke-width="0.08" text-anchor="end" textLength="10.80" lengthAdjust="spacingAndGlyphs" >100</text>
<rect x="452.00" y="630.40" width="41.50" height="53.10" fill="white" stroke="none"/>
<line x1="452.00" y1="630.40" x2="493.50" y2="630.40" stroke="#8a8a8a" stroke-width="1.0" stroke-dasharray="3 2.2"/>
<line x1="493.50" y1="630.40" x2="493.50" y2="683.50" stroke="#8a8a8a" stroke-width="1.0" stroke-dasharray="3 2.2"/>
<line x1="452.00" y1="683.50" x2="493.50" y2="683.50" stroke="#8a8a8a" stroke-width="1.0" stroke-dasharray="3 2.2"/>
<line x1="452.00" y1="630.40" x2="452.00" y2="683.50" stroke="#8a8a8a" stroke-width="1.0" stroke-dasharray="3 2.2"/>
<path d="M468.90,675.80 L468.90,637.20 L470.00,637.20 L470.00,646.80 L471.00,646.80 L471.00,656.47 L473.50,656.47 L473.50,666.13 L486.50,666.13 L486.50,675.80 Z" fill="#9d3545"/>
<line x1="468.90" y1="635.00" x2="468.90" y2="676.30" stroke="#141414" stroke-width="1.1" />
<line x1="468.40" y1="675.80" x2="489.60" y2="675.80" stroke="#141414" stroke-width="1.1" />
<line x1="465.20" y1="642.00" x2="468.90" y2="642.00" stroke="#141414" stroke-width="0.9" />
<text x="461.90" y="644.45" font-size="7.1" fill="#1e1e1e" stroke="#1e1e1e" stroke-width="0.08" text-anchor="end" textLength="6.50" lengthAdjust="spacingAndGlyphs" >50</text>
<line x1="465.20" y1="658.90" x2="468.90" y2="658.90" stroke="#141414" stroke-width="0.9" />
<text x="461.90" y="661.35" font-size="7.1" fill="#1e1e1e" stroke="#1e1e1e" stroke-width="0.08" text-anchor="end" textLength="6.50" lengthAdjust="spacingAndGlyphs" >25</text>
<line x1="465.20" y1="675.80" x2="468.90" y2="675.80" stroke="#141414" stroke-width="0.9" />
<text x="461.90" y="678.25" font-size="7.1" fill="#1e1e1e" stroke="#1e1e1e" stroke-width="0.08" text-anchor="end" textLength="3.30" lengthAdjust="spacingAndGlyphs" >0</text>
<text x="7.60" y="410.40" font-size="12.8" fill="#111" >D</text>
<text x="273.10" y="410.40" font-size="12.8" fill="#111" >E</text>
<text x="7.80" y="617.60" font-size="12.8" fill="#111" >F</text>
<text x="273.40" y="617.70" font-size="12.8" fill="#111" >G</text>
<text x="151.70" y="421.00" font-size="9.4" fill="#222" stroke="#222" stroke-width="0.03" text-anchor="middle" textLength="41.50" lengthAdjust="spacingAndGlyphs" >HLA-A*02</text>
<text x="409.20" y="420.50" font-size="9.4" fill="#222" stroke="#222" stroke-width="0.03" text-anchor="middle" textLength="40.90" lengthAdjust="spacingAndGlyphs" >HLA-A*03</text>
<text x="151.20" y="627.70" font-size="9.4" fill="#222" stroke="#222" stroke-width="0.03" text-anchor="middle" textLength="40.70" lengthAdjust="spacingAndGlyphs" >HLA-A*11</text>
<text x="409.00" y="628.30" font-size="9.4" fill="#222" stroke="#222" stroke-width="0.03" text-anchor="middle" textLength="40.40" lengthAdjust="spacingAndGlyphs" >HLA-B*07</text>
<text x="30.60" y="493.40" font-size="10.2" fill="#1e1e1e" stroke="#1e1e1e" stroke-width="0.08" text-anchor="middle" textLength="165.30" lengthAdjust="spacingAndGlyphs" transform="rotate(-90 30.60 493.40)" >Frequency of pos. A*02 ligandomes [%]</text>
<text x="288.40" y="493.50" font-size="10.2" fill="#1e1e1e" stroke="#1e1e1e" stroke-width="0.08" text-anchor="middle" textLength="165.00" lengthAdjust="spacingAndGlyphs" transform="rotate(-90 288.40 493.50)" >Frequency of pos. A*03 ligandomes [%]</text>
<text x="30.60" y="700.40" font-size="10.2" fill="#1e1e1e" stroke="#1e1e1e" stroke-width="0.08" text-anchor="middle" textLength="165.60" lengthAdjust="spacingAndGlyphs" transform="rotate(-90 30.60 700.40)" >Frequency of pos. A*11 ligandomes [%]</text>
<text x="288.40" y="701.00" font-size="10.2" fill="#1e1e1e" stroke="#1e1e1e" stroke-width="0.08" text-anchor="middle" textLength="165.00" lengthAdjust="spacingAndGlyphs" transform="rotate(-90 288.40 701.00)" >Frequency of pos. B*07 ligandomes [%]</text>
<text x="143.10" y="570.80" font-size="8.4" fill="#1e1e1e" stroke="#1e1e1e" stroke-width="0.08" text-anchor="middle" textLength="90.40" lengthAdjust="spacingAndGlyphs" >HLA-A*02 ligands (n = 2928)</text>
<text x="400.50" y="570.70" font-size="8.4" fill="#1e1e1e" stroke="#1e1e1e" stroke-width="0.08" text-anchor="middle" textLength="90.50" lengthAdjust="spacingAndGlyphs" >HLA-A*03 ligands (n = 2286)</text>
<text x="143.30" y="778.90" font-size="8.4" fill="#1e1e1e" stroke="#1e1e1e" stroke-width="0.08" text-anchor="middle" textLength="89.40" lengthAdjust="spacingAndGlyphs" >HLA-A*11 ligands (n = 4020)</text>
<text x="401.00" y="778.70" font-size="8.4" fill="#1e1e1e" stroke="#1e1e1e" stroke-width="0.08" text-anchor="middle" textLength="89.70" lengthAdjust="spacingAndGlyphs" >HLA-B*07 ligands (n = 3&#8201;024)</text>
<rect x="40.40" y="581.90" width="4.60" height="4.60" fill="#9d3545" />
<text x="48.00" y="586.00" font-size="6.1" fill="#222" stroke="#222" stroke-width="0.06" textLength="51.20" lengthAdjust="spacingAndGlyphs">A*02<tspan dx="0.4" dy="-2.8" font-size="4.57">+</tspan><tspan dy="2.8"> CML (n = 10)</tspan></text>
<rect x="123.30" y="581.80" width="4.40" height="4.40" fill="#506586" />
<text x="131.50" y="586.00" font-size="6.1" fill="#222" stroke="#222" stroke-width="0.06" textLength="96.50" lengthAdjust="spacingAndGlyphs">A*02<tspan dx="0.4" dy="-2.8" font-size="4.57">+</tspan><tspan dy="2.8"> hematological benign (n = 46)</tspan></text>
<rect x="300.30" y="582.50" width="4.30" height="4.30" fill="#9d3545" />
<text x="308.00" y="586.60" font-size="6.1" fill="#222" stroke="#222" stroke-width="0.06" textLength="48.00" lengthAdjust="spacingAndGlyphs">A*03<tspan dx="0.4" dy="-2.8" font-size="4.57">+</tspan><tspan dy="2.8"> CML (n = 8)</tspan></text>
<rect x="378.00" y="582.50" width="4.30" height="4.30" fill="#506586" />
<text x="385.80" y="586.60" font-size="6.1" fill="#222" stroke="#222" stroke-width="0.06" textLength="93.90" lengthAdjust="spacingAndGlyphs">A*03<tspan dx="0.4" dy="-2.8" font-size="4.57">+</tspan><tspan dy="2.8"> hematological benign (n = 29)</tspan></text>
<rect x="42.10" y="793.50" width="4.40" height="4.40" fill="#9d3545" />
<text x="50.40" y="797.80" font-size="6.1" fill="#222" stroke="#222" stroke-width="0.06" textLength="48.10" lengthAdjust="spacingAndGlyphs">A*11<tspan dx="0.4" dy="-2.8" font-size="4.57">+</tspan><tspan dy="2.8"> CML (n = 5)</tspan></text>
<rect x="121.30" y="793.50" width="4.20" height="4.40" fill="#506586" />
<text x="128.20" y="797.80" font-size="6.1" fill="#222" stroke="#222" stroke-width="0.06" textLength="97.40" lengthAdjust="spacingAndGlyphs">A*11<tspan dx="0.4" dy="-2.8" font-size="4.57">+</tspan><tspan dy="2.8"> hematological benign (n = 17)</tspan></text>
<rect x="300.30" y="793.00" width="4.30" height="4.30" fill="#9d3545" />
<text x="308.00" y="797.20" font-size="6.1" fill="#222" stroke="#222" stroke-width="0.06" textLength="48.00" lengthAdjust="spacingAndGlyphs">B*07<tspan dx="0.4" dy="-2.8" font-size="4.57">+</tspan><tspan dy="2.8"> CML (n = 7)</tspan></text>
<rect x="378.00" y="793.00" width="4.30" height="4.30" fill="#506586" />
<text x="385.80" y="797.20" font-size="6.1" fill="#222" stroke="#222" stroke-width="0.06" textLength="97.20" lengthAdjust="spacingAndGlyphs">B*07<tspan dx="0.4" dy="-2.8" font-size="4.57">+</tspan><tspan dy="2.8"> hematological benign (n = 25)</tspan></text>
<rect x="0.00" y="0.00" width="520.00" height="1.50" fill="#5c5c5c" />
<rect x="518.00" y="0.00" width="2.00" height="808.00" fill="#5c5c5c" />
<rect x="0.00" y="806.00" width="520.00" height="2.00" fill="#5c5c5c" />
<rect x="0.00" y="0.00" width="1.20" height="808.00" fill="#000" />
</svg></body></html>
